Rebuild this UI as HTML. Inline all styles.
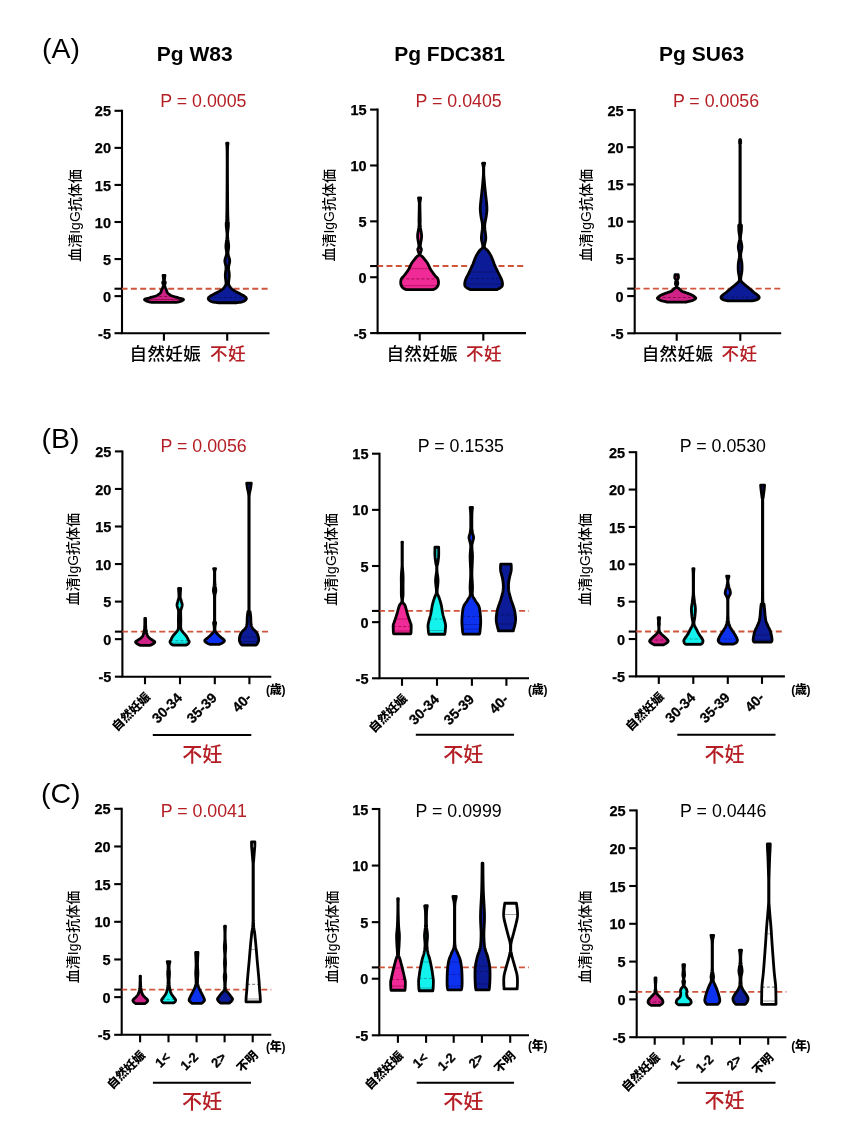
<!DOCTYPE html>
<html><head><meta charset="utf-8"><style>
html,body{margin:0;padding:0;background:#fff;}
svg{display:block;filter:blur(0.35px);}
</style></head><body>
<svg width="858" height="1148" viewBox="0 0 858 1148">
<rect width="858" height="1148" fill="#fff"/>
<path d="M122.00,109.80 V333.20 H269.50" fill="none" stroke="#000" stroke-width="2.1" stroke-linecap="butt"/>
<line x1="114.50" y1="333.20" x2="122.00" y2="333.20" stroke="#000" stroke-width="2.1"/>
<text x="111.00" y="338.80" font-family='"Liberation Sans", Arial, Helvetica, sans-serif' font-size="14.50" font-weight="bold" text-anchor="end" fill="#000" stroke="#000" stroke-width="0.25">-5</text>
<line x1="114.50" y1="296.13" x2="122.00" y2="296.13" stroke="#000" stroke-width="2.1"/>
<text x="111.00" y="301.73" font-family='"Liberation Sans", Arial, Helvetica, sans-serif' font-size="14.50" font-weight="bold" text-anchor="end" fill="#000" stroke="#000" stroke-width="0.25">0</text>
<line x1="114.50" y1="259.07" x2="122.00" y2="259.07" stroke="#000" stroke-width="2.1"/>
<text x="111.00" y="264.67" font-family='"Liberation Sans", Arial, Helvetica, sans-serif' font-size="14.50" font-weight="bold" text-anchor="end" fill="#000" stroke="#000" stroke-width="0.25">5</text>
<line x1="114.50" y1="222.00" x2="122.00" y2="222.00" stroke="#000" stroke-width="2.1"/>
<text x="111.00" y="227.60" font-family='"Liberation Sans", Arial, Helvetica, sans-serif' font-size="14.50" font-weight="bold" text-anchor="end" fill="#000" stroke="#000" stroke-width="0.25">10</text>
<line x1="114.50" y1="184.93" x2="122.00" y2="184.93" stroke="#000" stroke-width="2.1"/>
<text x="111.00" y="190.53" font-family='"Liberation Sans", Arial, Helvetica, sans-serif' font-size="14.50" font-weight="bold" text-anchor="end" fill="#000" stroke="#000" stroke-width="0.25">15</text>
<line x1="114.50" y1="147.87" x2="122.00" y2="147.87" stroke="#000" stroke-width="2.1"/>
<text x="111.00" y="153.47" font-family='"Liberation Sans", Arial, Helvetica, sans-serif' font-size="14.50" font-weight="bold" text-anchor="end" fill="#000" stroke="#000" stroke-width="0.25">20</text>
<line x1="114.50" y1="110.80" x2="122.00" y2="110.80" stroke="#000" stroke-width="2.1"/>
<text x="111.00" y="116.40" font-family='"Liberation Sans", Arial, Helvetica, sans-serif' font-size="14.50" font-weight="bold" text-anchor="end" fill="#000" stroke="#000" stroke-width="0.25">25</text>
<line x1="163.90" y1="333.20" x2="163.90" y2="340.70" stroke="#000" stroke-width="2.1"/>
<line x1="227.20" y1="333.20" x2="227.20" y2="340.70" stroke="#000" stroke-width="2.1"/>
<line x1="121.50" y1="288.72" x2="269.50" y2="288.72" stroke="#cf553c" stroke-width="1.9" stroke-dasharray="6,3.34"/>
<line x1="114.50" y1="288.72" x2="122.00" y2="288.72" stroke="#000" stroke-width="2.1"/>
<path d="M165.00,275.46 L164.95,275.74 L164.87,276.12 L164.79,276.57 L164.70,277.06 L164.64,277.55 L164.60,278.02 L164.60,278.48 L164.61,278.95 L164.64,279.43 L164.69,279.90 L164.74,280.35 L164.80,280.76 L164.88,281.14 L164.99,281.48 L165.10,281.81 L165.20,282.12 L165.28,282.44 L165.30,282.77 L165.25,283.12 L165.14,283.46 L165.00,283.81 L164.86,284.16 L164.75,284.52 L164.70,284.88 L164.72,285.25 L164.77,285.64 L164.86,286.03 L164.96,286.41 L165.08,286.80 L165.20,287.16 L165.33,287.52 L165.48,287.86 L165.64,288.19 L165.80,288.52 L165.96,288.85 L166.10,289.17 L166.23,289.50 L166.34,289.82 L166.46,290.15 L166.57,290.46 L166.68,290.78 L166.80,291.09 L166.89,291.39 L166.95,291.68 L167.01,291.96 L167.11,292.26 L167.30,292.57 L167.60,292.92 L168.01,293.32 L168.50,293.76 L169.06,294.23 L169.71,294.69 L170.46,295.15 L171.30,295.57 L172.30,295.97 L173.46,296.36 L174.71,296.74 L175.99,297.10 L177.21,297.45 L178.30,297.77 L179.35,298.06 L180.41,298.32 L181.43,298.57 L182.32,298.81 L183.00,299.06 L183.40,299.32 L183.47,299.62 L183.26,299.94 L182.85,300.26 L182.30,300.58 L181.70,300.88 L181.10,301.15 L180.43,301.40 L179.60,301.64 L178.71,301.86 L177.85,302.06 L177.12,302.22 L176.60,302.34 L151.40,302.34 L150.88,302.22 L150.15,302.06 L149.29,301.86 L148.40,301.64 L147.57,301.40 L146.90,301.15 L146.30,300.88 L145.70,300.58 L145.15,300.26 L144.74,299.94 L144.53,299.62 L144.60,299.32 L145.00,299.06 L145.68,298.81 L146.57,298.57 L147.59,298.32 L148.65,298.06 L149.70,297.77 L150.79,297.45 L152.01,297.10 L153.29,296.74 L154.54,296.36 L155.70,295.97 L156.70,295.57 L157.54,295.15 L158.29,294.69 L158.94,294.23 L159.50,293.76 L159.99,293.32 L160.40,292.92 L160.70,292.57 L160.89,292.26 L160.99,291.96 L161.05,291.68 L161.11,291.39 L161.20,291.09 L161.32,290.78 L161.43,290.46 L161.54,290.15 L161.66,289.82 L161.77,289.50 L161.90,289.17 L162.04,288.85 L162.20,288.52 L162.36,288.19 L162.52,287.86 L162.67,287.52 L162.80,287.16 L162.92,286.80 L163.04,286.41 L163.14,286.03 L163.23,285.64 L163.28,285.25 L163.30,284.88 L163.25,284.52 L163.14,284.16 L163.00,283.81 L162.86,283.46 L162.75,283.12 L162.70,282.77 L162.72,282.44 L162.80,282.12 L162.90,281.81 L163.01,281.48 L163.12,281.14 L163.20,280.76 L163.26,280.35 L163.31,279.90 L163.36,279.43 L163.39,278.95 L163.40,278.48 L163.40,278.02 L163.36,277.55 L163.30,277.06 L163.21,276.57 L163.13,276.12 L163.05,275.74 L163.00,275.46 Z" fill="#cf2286" stroke="none"/>
<line x1="154.09" y1="296.50" x2="173.91" y2="296.50" stroke="#8a0a48" stroke-width="1.2" stroke-dasharray="3,2"/>
<line x1="144.56" y1="299.50" x2="183.44" y2="299.50" stroke="#8a0a48" stroke-width="0.8"/>
<path d="M165.00,275.46 L164.95,275.74 L164.87,276.12 L164.79,276.57 L164.70,277.06 L164.64,277.55 L164.60,278.02 L164.60,278.48 L164.61,278.95 L164.64,279.43 L164.69,279.90 L164.74,280.35 L164.80,280.76 L164.88,281.14 L164.99,281.48 L165.10,281.81 L165.20,282.12 L165.28,282.44 L165.30,282.77 L165.25,283.12 L165.14,283.46 L165.00,283.81 L164.86,284.16 L164.75,284.52 L164.70,284.88 L164.72,285.25 L164.77,285.64 L164.86,286.03 L164.96,286.41 L165.08,286.80 L165.20,287.16 L165.33,287.52 L165.48,287.86 L165.64,288.19 L165.80,288.52 L165.96,288.85 L166.10,289.17 L166.23,289.50 L166.34,289.82 L166.46,290.15 L166.57,290.46 L166.68,290.78 L166.80,291.09 L166.89,291.39 L166.95,291.68 L167.01,291.96 L167.11,292.26 L167.30,292.57 L167.60,292.92 L168.01,293.32 L168.50,293.76 L169.06,294.23 L169.71,294.69 L170.46,295.15 L171.30,295.57 L172.30,295.97 L173.46,296.36 L174.71,296.74 L175.99,297.10 L177.21,297.45 L178.30,297.77 L179.35,298.06 L180.41,298.32 L181.43,298.57 L182.32,298.81 L183.00,299.06 L183.40,299.32 L183.47,299.62 L183.26,299.94 L182.85,300.26 L182.30,300.58 L181.70,300.88 L181.10,301.15 L180.43,301.40 L179.60,301.64 L178.71,301.86 L177.85,302.06 L177.12,302.22 L176.60,302.34 L151.40,302.34 L150.88,302.22 L150.15,302.06 L149.29,301.86 L148.40,301.64 L147.57,301.40 L146.90,301.15 L146.30,300.88 L145.70,300.58 L145.15,300.26 L144.74,299.94 L144.53,299.62 L144.60,299.32 L145.00,299.06 L145.68,298.81 L146.57,298.57 L147.59,298.32 L148.65,298.06 L149.70,297.77 L150.79,297.45 L152.01,297.10 L153.29,296.74 L154.54,296.36 L155.70,295.97 L156.70,295.57 L157.54,295.15 L158.29,294.69 L158.94,294.23 L159.50,293.76 L159.99,293.32 L160.40,292.92 L160.70,292.57 L160.89,292.26 L160.99,291.96 L161.05,291.68 L161.11,291.39 L161.20,291.09 L161.32,290.78 L161.43,290.46 L161.54,290.15 L161.66,289.82 L161.77,289.50 L161.90,289.17 L162.04,288.85 L162.20,288.52 L162.36,288.19 L162.52,287.86 L162.67,287.52 L162.80,287.16 L162.92,286.80 L163.04,286.41 L163.14,286.03 L163.23,285.64 L163.28,285.25 L163.30,284.88 L163.25,284.52 L163.14,284.16 L163.00,283.81 L162.86,283.46 L162.75,283.12 L162.70,282.77 L162.72,282.44 L162.80,282.12 L162.90,281.81 L163.01,281.48 L163.12,281.14 L163.20,280.76 L163.26,280.35 L163.31,279.90 L163.36,279.43 L163.39,278.95 L163.40,278.48 L163.40,278.02 L163.36,277.55 L163.30,277.06 L163.21,276.57 L163.13,276.12 L163.05,275.74 L163.00,275.46 Z" fill="none" stroke="#000" stroke-width="2.80" stroke-linejoin="round"/>
<path d="M228.00,143.06 L227.94,143.69 L227.85,144.36 L227.75,145.25 L227.65,146.55 L227.56,148.45 L227.50,151.13 L227.47,154.76 L227.45,159.21 L227.45,164.25 L227.46,169.66 L227.48,175.21 L227.50,180.67 L227.53,186.41 L227.57,192.70 L227.61,199.13 L227.67,205.29 L227.73,210.75 L227.80,215.12 L227.90,218.17 L228.03,220.17 L228.17,221.48 L228.30,222.47 L228.38,223.48 L228.40,224.87 L228.32,226.59 L228.15,228.35 L227.94,230.14 L227.74,231.93 L227.59,233.72 L227.55,235.50 L227.65,237.30 L227.85,239.14 L228.12,240.97 L228.38,242.76 L228.59,244.46 L228.70,246.03 L228.66,247.45 L228.51,248.73 L228.31,249.93 L228.12,251.08 L228.00,252.23 L228.00,253.42 L228.18,254.65 L228.51,255.88 L228.90,257.11 L229.29,258.33 L229.60,259.53 L229.75,260.70 L229.70,261.83 L229.51,262.90 L229.24,263.95 L228.95,265.02 L228.72,266.12 L228.60,267.30 L228.63,268.56 L228.75,269.88 L228.92,271.24 L229.10,272.62 L229.24,274.00 L229.30,275.37 L229.24,276.79 L229.09,278.27 L228.91,279.76 L228.73,281.18 L228.61,282.46 L228.60,283.54 L228.69,284.37 L228.84,284.99 L229.05,285.47 L229.31,285.89 L229.63,286.31 L230.00,286.79 L230.41,287.33 L230.87,287.87 L231.38,288.42 L231.94,288.96 L232.58,289.50 L233.30,290.04 L234.12,290.58 L235.05,291.12 L236.04,291.66 L237.07,292.21 L238.10,292.75 L239.10,293.29 L240.12,293.84 L241.20,294.40 L242.28,294.96 L243.29,295.51 L244.19,296.04 L244.90,296.54 L245.44,296.99 L245.86,297.42 L246.15,297.82 L246.32,298.21 L246.37,298.60 L246.30,299.00 L246.09,299.42 L245.75,299.86 L245.29,300.30 L244.71,300.73 L244.05,301.12 L243.30,301.46 L242.36,301.76 L241.18,302.02 L239.91,302.25 L238.69,302.45 L237.64,302.61 L236.90,302.74 L217.70,302.74 L216.96,302.61 L215.91,302.45 L214.69,302.25 L213.42,302.02 L212.24,301.76 L211.30,301.46 L210.55,301.12 L209.89,300.73 L209.31,300.30 L208.85,299.86 L208.51,299.42 L208.30,299.00 L208.23,298.60 L208.28,298.21 L208.45,297.82 L208.74,297.42 L209.16,296.99 L209.70,296.54 L210.41,296.04 L211.31,295.51 L212.33,294.96 L213.40,294.40 L214.48,293.84 L215.50,293.29 L216.50,292.75 L217.53,292.21 L218.56,291.66 L219.55,291.12 L220.48,290.58 L221.30,290.04 L222.02,289.50 L222.66,288.96 L223.23,288.42 L223.73,287.87 L224.19,287.33 L224.60,286.79 L224.97,286.31 L225.29,285.89 L225.55,285.47 L225.76,284.99 L225.91,284.37 L226.00,283.54 L225.99,282.46 L225.87,281.18 L225.69,279.76 L225.51,278.27 L225.36,276.79 L225.30,275.37 L225.36,274.00 L225.50,272.62 L225.68,271.24 L225.85,269.88 L225.97,268.56 L226.00,267.30 L225.88,266.12 L225.65,265.02 L225.36,263.95 L225.09,262.90 L224.90,261.83 L224.85,260.70 L225.00,259.53 L225.31,258.33 L225.70,257.11 L226.09,255.88 L226.42,254.65 L226.60,253.42 L226.60,252.23 L226.48,251.08 L226.29,249.93 L226.09,248.73 L225.94,247.45 L225.90,246.03 L226.01,244.46 L226.22,242.76 L226.48,240.97 L226.75,239.14 L226.95,237.30 L227.05,235.50 L227.01,233.72 L226.86,231.93 L226.66,230.14 L226.45,228.35 L226.28,226.59 L226.20,224.87 L226.22,223.48 L226.30,222.47 L226.43,221.48 L226.57,220.17 L226.70,218.17 L226.80,215.12 L226.87,210.75 L226.93,205.29 L226.99,199.13 L227.03,192.70 L227.07,186.41 L227.10,180.67 L227.12,175.21 L227.14,169.66 L227.15,164.25 L227.15,159.21 L227.13,154.76 L227.10,151.13 L227.04,148.45 L226.95,146.55 L226.85,145.25 L226.75,144.36 L226.66,143.69 L226.60,143.06 Z" fill="#0c1c98" stroke="none"/>
<line x1="208.68" y1="297.50" x2="245.92" y2="297.50" stroke="#081268" stroke-width="1.2" stroke-dasharray="3,2"/>
<path d="M228.00,143.06 L227.94,143.69 L227.85,144.36 L227.75,145.25 L227.65,146.55 L227.56,148.45 L227.50,151.13 L227.47,154.76 L227.45,159.21 L227.45,164.25 L227.46,169.66 L227.48,175.21 L227.50,180.67 L227.53,186.41 L227.57,192.70 L227.61,199.13 L227.67,205.29 L227.73,210.75 L227.80,215.12 L227.90,218.17 L228.03,220.17 L228.17,221.48 L228.30,222.47 L228.38,223.48 L228.40,224.87 L228.32,226.59 L228.15,228.35 L227.94,230.14 L227.74,231.93 L227.59,233.72 L227.55,235.50 L227.65,237.30 L227.85,239.14 L228.12,240.97 L228.38,242.76 L228.59,244.46 L228.70,246.03 L228.66,247.45 L228.51,248.73 L228.31,249.93 L228.12,251.08 L228.00,252.23 L228.00,253.42 L228.18,254.65 L228.51,255.88 L228.90,257.11 L229.29,258.33 L229.60,259.53 L229.75,260.70 L229.70,261.83 L229.51,262.90 L229.24,263.95 L228.95,265.02 L228.72,266.12 L228.60,267.30 L228.63,268.56 L228.75,269.88 L228.92,271.24 L229.10,272.62 L229.24,274.00 L229.30,275.37 L229.24,276.79 L229.09,278.27 L228.91,279.76 L228.73,281.18 L228.61,282.46 L228.60,283.54 L228.69,284.37 L228.84,284.99 L229.05,285.47 L229.31,285.89 L229.63,286.31 L230.00,286.79 L230.41,287.33 L230.87,287.87 L231.38,288.42 L231.94,288.96 L232.58,289.50 L233.30,290.04 L234.12,290.58 L235.05,291.12 L236.04,291.66 L237.07,292.21 L238.10,292.75 L239.10,293.29 L240.12,293.84 L241.20,294.40 L242.28,294.96 L243.29,295.51 L244.19,296.04 L244.90,296.54 L245.44,296.99 L245.86,297.42 L246.15,297.82 L246.32,298.21 L246.37,298.60 L246.30,299.00 L246.09,299.42 L245.75,299.86 L245.29,300.30 L244.71,300.73 L244.05,301.12 L243.30,301.46 L242.36,301.76 L241.18,302.02 L239.91,302.25 L238.69,302.45 L237.64,302.61 L236.90,302.74 L217.70,302.74 L216.96,302.61 L215.91,302.45 L214.69,302.25 L213.42,302.02 L212.24,301.76 L211.30,301.46 L210.55,301.12 L209.89,300.73 L209.31,300.30 L208.85,299.86 L208.51,299.42 L208.30,299.00 L208.23,298.60 L208.28,298.21 L208.45,297.82 L208.74,297.42 L209.16,296.99 L209.70,296.54 L210.41,296.04 L211.31,295.51 L212.33,294.96 L213.40,294.40 L214.48,293.84 L215.50,293.29 L216.50,292.75 L217.53,292.21 L218.56,291.66 L219.55,291.12 L220.48,290.58 L221.30,290.04 L222.02,289.50 L222.66,288.96 L223.23,288.42 L223.73,287.87 L224.19,287.33 L224.60,286.79 L224.97,286.31 L225.29,285.89 L225.55,285.47 L225.76,284.99 L225.91,284.37 L226.00,283.54 L225.99,282.46 L225.87,281.18 L225.69,279.76 L225.51,278.27 L225.36,276.79 L225.30,275.37 L225.36,274.00 L225.50,272.62 L225.68,271.24 L225.85,269.88 L225.97,268.56 L226.00,267.30 L225.88,266.12 L225.65,265.02 L225.36,263.95 L225.09,262.90 L224.90,261.83 L224.85,260.70 L225.00,259.53 L225.31,258.33 L225.70,257.11 L226.09,255.88 L226.42,254.65 L226.60,253.42 L226.60,252.23 L226.48,251.08 L226.29,249.93 L226.09,248.73 L225.94,247.45 L225.90,246.03 L226.01,244.46 L226.22,242.76 L226.48,240.97 L226.75,239.14 L226.95,237.30 L227.05,235.50 L227.01,233.72 L226.86,231.93 L226.66,230.14 L226.45,228.35 L226.28,226.59 L226.20,224.87 L226.22,223.48 L226.30,222.47 L226.43,221.48 L226.57,220.17 L226.70,218.17 L226.80,215.12 L226.87,210.75 L226.93,205.29 L226.99,199.13 L227.03,192.70 L227.07,186.41 L227.10,180.67 L227.12,175.21 L227.14,169.66 L227.15,164.25 L227.15,159.21 L227.13,154.76 L227.10,151.13 L227.04,148.45 L226.95,146.55 L226.85,145.25 L226.75,144.36 L226.66,143.69 L226.60,143.06 Z" fill="none" stroke="#000" stroke-width="2.80" stroke-linejoin="round"/>
<text x="80.20" y="215.50" font-family='"Liberation Sans", "Noto Sans CJK JP", sans-serif' font-size="14.00" font-weight="500" text-anchor="middle" fill="#000" transform="rotate(-90 80.20 215.50)">血清IgG抗体価</text>
<text x="160.30" y="107.00" font-family='"Liberation Sans", Arial, Helvetica, sans-serif' font-size="17.80" font-weight="normal" text-anchor="start" fill="#b41e24" >P = 0.0005</text>
<path d="M377.60,108.60 V333.10 H526.00" fill="none" stroke="#000" stroke-width="2.1" stroke-linecap="butt"/>
<line x1="370.10" y1="333.10" x2="377.60" y2="333.10" stroke="#000" stroke-width="2.1"/>
<text x="366.60" y="338.70" font-family='"Liberation Sans", Arial, Helvetica, sans-serif' font-size="14.50" font-weight="bold" text-anchor="end" fill="#000" stroke="#000" stroke-width="0.25">-5</text>
<line x1="370.10" y1="277.23" x2="377.60" y2="277.23" stroke="#000" stroke-width="2.1"/>
<text x="366.60" y="282.83" font-family='"Liberation Sans", Arial, Helvetica, sans-serif' font-size="14.50" font-weight="bold" text-anchor="end" fill="#000" stroke="#000" stroke-width="0.25">0</text>
<line x1="370.10" y1="221.35" x2="377.60" y2="221.35" stroke="#000" stroke-width="2.1"/>
<text x="366.60" y="226.95" font-family='"Liberation Sans", Arial, Helvetica, sans-serif' font-size="14.50" font-weight="bold" text-anchor="end" fill="#000" stroke="#000" stroke-width="0.25">5</text>
<line x1="370.10" y1="165.48" x2="377.60" y2="165.48" stroke="#000" stroke-width="2.1"/>
<text x="366.60" y="171.08" font-family='"Liberation Sans", Arial, Helvetica, sans-serif' font-size="14.50" font-weight="bold" text-anchor="end" fill="#000" stroke="#000" stroke-width="0.25">10</text>
<line x1="370.10" y1="109.60" x2="377.60" y2="109.60" stroke="#000" stroke-width="2.1"/>
<text x="366.60" y="115.20" font-family='"Liberation Sans", Arial, Helvetica, sans-serif' font-size="14.50" font-weight="bold" text-anchor="end" fill="#000" stroke="#000" stroke-width="0.25">15</text>
<line x1="419.70" y1="333.10" x2="419.70" y2="340.60" stroke="#000" stroke-width="2.1"/>
<line x1="483.30" y1="333.10" x2="483.30" y2="340.60" stroke="#000" stroke-width="2.1"/>
<line x1="377.10" y1="266.05" x2="526.00" y2="266.05" stroke="#cf553c" stroke-width="1.9" stroke-dasharray="6,3.34"/>
<line x1="370.10" y1="266.05" x2="377.60" y2="266.05" stroke="#000" stroke-width="2.1"/>
<path d="M420.70,197.96 L420.64,198.31 L420.56,198.80 L420.47,199.38 L420.37,200.00 L420.28,200.62 L420.20,201.17 L420.13,201.52 L420.06,201.68 L420.00,201.83 L419.95,202.16 L419.91,202.85 L419.90,204.09 L419.92,206.11 L419.97,208.81 L420.03,211.86 L420.10,214.97 L420.16,217.80 L420.20,220.05 L420.20,221.61 L420.17,222.72 L420.13,223.55 L420.11,224.30 L420.12,225.15 L420.20,226.28 L420.38,227.71 L420.66,229.29 L420.98,230.97 L421.28,232.70 L421.51,234.43 L421.60,236.11 L421.51,237.82 L421.28,239.62 L420.97,241.41 L420.66,243.12 L420.41,244.66 L420.30,245.94 L420.37,246.88 L420.58,247.55 L420.85,248.04 L421.12,248.47 L421.33,248.93 L421.40,249.54 L421.28,250.32 L421.00,251.19 L420.66,252.10 L420.34,252.99 L420.12,253.81 L420.10,254.50 L420.27,255.01 L420.57,255.37 L420.97,255.65 L421.46,255.95 L422.01,256.35 L422.60,256.94 L423.29,257.74 L424.09,258.70 L424.96,259.77 L425.84,260.88 L426.67,262.00 L427.40,263.07 L428.00,264.10 L428.51,265.14 L428.98,266.18 L429.43,267.22 L429.93,268.26 L430.50,269.30 L431.17,270.35 L431.92,271.44 L432.71,272.53 L433.49,273.58 L434.23,274.55 L434.90,275.43 L435.51,276.16 L436.10,276.77 L436.64,277.30 L437.14,277.82 L437.56,278.38 L437.90,279.03 L438.16,279.79 L438.34,280.63 L438.46,281.50 L438.50,282.38 L438.48,283.22 L438.40,283.99 L438.24,284.70 L438.00,285.39 L437.69,286.04 L437.33,286.64 L436.93,287.20 L436.50,287.69 L435.99,288.13 L435.38,288.51 L434.73,288.85 L434.11,289.13 L433.58,289.36 L433.20,289.54 L406.00,289.54 L405.62,289.36 L405.09,289.13 L404.47,288.85 L403.82,288.51 L403.21,288.13 L402.70,287.69 L402.27,287.20 L401.87,286.64 L401.51,286.04 L401.20,285.39 L400.96,284.70 L400.80,283.99 L400.72,283.22 L400.70,282.38 L400.74,281.50 L400.86,280.63 L401.04,279.79 L401.30,279.03 L401.64,278.38 L402.06,277.82 L402.56,277.30 L403.10,276.77 L403.69,276.16 L404.30,275.43 L404.97,274.55 L405.71,273.58 L406.49,272.53 L407.28,271.44 L408.03,270.35 L408.70,269.30 L409.27,268.26 L409.77,267.22 L410.23,266.18 L410.69,265.14 L411.20,264.10 L411.80,263.07 L412.53,262.00 L413.36,260.88 L414.24,259.77 L415.11,258.70 L415.91,257.74 L416.60,256.94 L417.19,256.35 L417.74,255.95 L418.23,255.65 L418.63,255.37 L418.93,255.01 L419.10,254.50 L419.08,253.81 L418.86,252.99 L418.54,252.10 L418.20,251.19 L417.92,250.32 L417.80,249.54 L417.87,248.93 L418.08,248.47 L418.35,248.04 L418.62,247.55 L418.83,246.88 L418.90,245.94 L418.79,244.66 L418.54,243.12 L418.23,241.41 L417.92,239.62 L417.69,237.82 L417.60,236.11 L417.69,234.43 L417.92,232.70 L418.22,230.97 L418.54,229.29 L418.82,227.71 L419.00,226.28 L419.08,225.15 L419.09,224.30 L419.07,223.55 L419.03,222.72 L419.00,221.61 L419.00,220.05 L419.04,217.80 L419.10,214.97 L419.17,211.86 L419.23,208.81 L419.28,206.11 L419.30,204.09 L419.29,202.85 L419.25,202.16 L419.20,201.83 L419.14,201.68 L419.07,201.52 L419.00,201.17 L418.92,200.62 L418.83,200.00 L418.73,199.38 L418.64,198.80 L418.56,198.31 L418.50,197.96 Z" fill="#f02a96" stroke="none"/>
<line x1="409.03" y1="268.70" x2="430.17" y2="268.70" stroke="#b0105e" stroke-width="0.8"/>
<line x1="401.42" y1="278.80" x2="437.78" y2="278.80" stroke="#b0105e" stroke-width="1.2" stroke-dasharray="3,2"/>
<line x1="401.35" y1="285.70" x2="437.85" y2="285.70" stroke="#b0105e" stroke-width="0.8"/>
<path d="M420.70,197.96 L420.64,198.31 L420.56,198.80 L420.47,199.38 L420.37,200.00 L420.28,200.62 L420.20,201.17 L420.13,201.52 L420.06,201.68 L420.00,201.83 L419.95,202.16 L419.91,202.85 L419.90,204.09 L419.92,206.11 L419.97,208.81 L420.03,211.86 L420.10,214.97 L420.16,217.80 L420.20,220.05 L420.20,221.61 L420.17,222.72 L420.13,223.55 L420.11,224.30 L420.12,225.15 L420.20,226.28 L420.38,227.71 L420.66,229.29 L420.98,230.97 L421.28,232.70 L421.51,234.43 L421.60,236.11 L421.51,237.82 L421.28,239.62 L420.97,241.41 L420.66,243.12 L420.41,244.66 L420.30,245.94 L420.37,246.88 L420.58,247.55 L420.85,248.04 L421.12,248.47 L421.33,248.93 L421.40,249.54 L421.28,250.32 L421.00,251.19 L420.66,252.10 L420.34,252.99 L420.12,253.81 L420.10,254.50 L420.27,255.01 L420.57,255.37 L420.97,255.65 L421.46,255.95 L422.01,256.35 L422.60,256.94 L423.29,257.74 L424.09,258.70 L424.96,259.77 L425.84,260.88 L426.67,262.00 L427.40,263.07 L428.00,264.10 L428.51,265.14 L428.98,266.18 L429.43,267.22 L429.93,268.26 L430.50,269.30 L431.17,270.35 L431.92,271.44 L432.71,272.53 L433.49,273.58 L434.23,274.55 L434.90,275.43 L435.51,276.16 L436.10,276.77 L436.64,277.30 L437.14,277.82 L437.56,278.38 L437.90,279.03 L438.16,279.79 L438.34,280.63 L438.46,281.50 L438.50,282.38 L438.48,283.22 L438.40,283.99 L438.24,284.70 L438.00,285.39 L437.69,286.04 L437.33,286.64 L436.93,287.20 L436.50,287.69 L435.99,288.13 L435.38,288.51 L434.73,288.85 L434.11,289.13 L433.58,289.36 L433.20,289.54 L406.00,289.54 L405.62,289.36 L405.09,289.13 L404.47,288.85 L403.82,288.51 L403.21,288.13 L402.70,287.69 L402.27,287.20 L401.87,286.64 L401.51,286.04 L401.20,285.39 L400.96,284.70 L400.80,283.99 L400.72,283.22 L400.70,282.38 L400.74,281.50 L400.86,280.63 L401.04,279.79 L401.30,279.03 L401.64,278.38 L402.06,277.82 L402.56,277.30 L403.10,276.77 L403.69,276.16 L404.30,275.43 L404.97,274.55 L405.71,273.58 L406.49,272.53 L407.28,271.44 L408.03,270.35 L408.70,269.30 L409.27,268.26 L409.77,267.22 L410.23,266.18 L410.69,265.14 L411.20,264.10 L411.80,263.07 L412.53,262.00 L413.36,260.88 L414.24,259.77 L415.11,258.70 L415.91,257.74 L416.60,256.94 L417.19,256.35 L417.74,255.95 L418.23,255.65 L418.63,255.37 L418.93,255.01 L419.10,254.50 L419.08,253.81 L418.86,252.99 L418.54,252.10 L418.20,251.19 L417.92,250.32 L417.80,249.54 L417.87,248.93 L418.08,248.47 L418.35,248.04 L418.62,247.55 L418.83,246.88 L418.90,245.94 L418.79,244.66 L418.54,243.12 L418.23,241.41 L417.92,239.62 L417.69,237.82 L417.60,236.11 L417.69,234.43 L417.92,232.70 L418.22,230.97 L418.54,229.29 L418.82,227.71 L419.00,226.28 L419.08,225.15 L419.09,224.30 L419.07,223.55 L419.03,222.72 L419.00,221.61 L419.00,220.05 L419.04,217.80 L419.10,214.97 L419.17,211.86 L419.23,208.81 L419.28,206.11 L419.30,204.09 L419.29,202.85 L419.25,202.16 L419.20,201.83 L419.14,201.68 L419.07,201.52 L419.00,201.17 L418.92,200.62 L418.83,200.00 L418.73,199.38 L418.64,198.80 L418.56,198.31 L418.50,197.96 Z" fill="none" stroke="#000" stroke-width="2.80" stroke-linejoin="round"/>
<path d="M484.70,163.26 L484.62,163.57 L484.51,163.99 L484.38,164.49 L484.24,165.05 L484.11,165.63 L484.00,166.20 L483.89,166.69 L483.77,167.09 L483.75,167.52 L483.75,168.08 L483.75,168.88 L483.75,170.03 L483.75,171.63 L483.75,173.63 L483.86,175.87 L484.04,178.20 L484.23,180.45 L484.40,182.48 L484.56,184.22 L484.71,185.78 L484.86,187.28 L485.03,188.81 L485.20,190.47 L485.40,192.38 L485.65,194.63 L485.94,197.18 L486.25,199.85 L486.54,202.52 L486.77,205.01 L486.90,207.18 L486.93,208.98 L486.89,210.50 L486.79,211.85 L486.65,213.14 L486.48,214.46 L486.30,215.91 L486.06,217.46 L485.74,219.03 L485.39,220.63 L485.07,222.29 L484.82,224.01 L484.70,225.81 L484.76,227.77 L484.96,229.89 L485.24,232.07 L485.52,234.23 L485.73,236.29 L485.80,238.17 L485.66,239.88 L485.35,241.50 L484.97,243.02 L484.62,244.42 L484.40,245.68 L484.40,246.79 L484.66,247.67 L485.10,248.31 L485.68,248.81 L486.32,249.28 L486.98,249.81 L487.60,250.52 L488.20,251.38 L488.84,252.30 L489.49,253.29 L490.14,254.36 L490.78,255.49 L491.40,256.70 L491.99,258.02 L492.56,259.47 L493.12,260.98 L493.67,262.52 L494.23,264.02 L494.80,265.42 L495.38,266.73 L495.96,267.97 L496.54,269.18 L497.13,270.37 L497.72,271.56 L498.30,272.77 L498.92,274.04 L499.57,275.34 L500.23,276.65 L500.85,277.92 L501.38,279.12 L501.80,280.23 L502.10,281.23 L502.31,282.17 L502.44,283.04 L502.49,283.84 L502.48,284.57 L502.40,285.23 L502.24,285.79 L502.00,286.25 L501.69,286.65 L501.33,287.00 L500.93,287.33 L500.50,287.68 L499.99,288.04 L499.38,288.41 L498.73,288.76 L498.11,289.08 L497.58,289.34 L497.20,289.54 L470.00,289.54 L469.62,289.34 L469.09,289.08 L468.47,288.76 L467.82,288.41 L467.21,288.04 L466.70,287.68 L466.27,287.33 L465.87,287.00 L465.51,286.65 L465.20,286.25 L464.96,285.79 L464.80,285.23 L464.72,284.57 L464.71,283.84 L464.76,283.04 L464.89,282.17 L465.10,281.23 L465.40,280.23 L465.82,279.12 L466.35,277.92 L466.97,276.65 L467.63,275.34 L468.28,274.04 L468.90,272.77 L469.48,271.56 L470.07,270.37 L470.66,269.18 L471.24,267.97 L471.82,266.73 L472.40,265.42 L472.97,264.02 L473.53,262.52 L474.08,260.98 L474.64,259.47 L475.21,258.02 L475.80,256.70 L476.42,255.49 L477.06,254.36 L477.71,253.29 L478.36,252.30 L479.00,251.38 L479.60,250.52 L480.22,249.81 L480.88,249.28 L481.53,248.81 L482.10,248.31 L482.54,247.67 L482.80,246.79 L482.80,245.68 L482.58,244.42 L482.23,243.02 L481.85,241.50 L481.54,239.88 L481.40,238.17 L481.47,236.29 L481.68,234.23 L481.96,232.07 L482.24,229.89 L482.44,227.77 L482.50,225.81 L482.38,224.01 L482.13,222.29 L481.81,220.63 L481.46,219.03 L481.14,217.46 L480.90,215.91 L480.72,214.46 L480.55,213.14 L480.41,211.85 L480.31,210.50 L480.27,208.98 L480.30,207.18 L480.43,205.01 L480.66,202.52 L480.95,199.85 L481.26,197.18 L481.55,194.63 L481.80,192.38 L482.00,190.47 L482.17,188.81 L482.34,187.28 L482.49,185.78 L482.64,184.22 L482.80,182.48 L482.97,180.45 L483.16,178.20 L483.34,175.87 L483.45,173.63 L483.45,171.63 L483.45,170.03 L483.45,168.88 L483.45,168.08 L483.45,167.52 L483.43,167.09 L483.31,166.69 L483.20,166.20 L483.09,165.63 L482.96,165.05 L482.82,164.49 L482.69,163.99 L482.58,163.57 L482.50,163.26 Z" fill="#0c1c98" stroke="none"/>
<line x1="469.27" y1="272.00" x2="497.93" y2="272.00" stroke="#081268" stroke-width="0.8"/>
<line x1="466.09" y1="278.50" x2="501.11" y2="278.50" stroke="#081268" stroke-width="1.2" stroke-dasharray="3,2"/>
<line x1="464.71" y1="284.00" x2="502.49" y2="284.00" stroke="#081268" stroke-width="0.8"/>
<path d="M484.70,163.26 L484.62,163.57 L484.51,163.99 L484.38,164.49 L484.24,165.05 L484.11,165.63 L484.00,166.20 L483.89,166.69 L483.77,167.09 L483.75,167.52 L483.75,168.08 L483.75,168.88 L483.75,170.03 L483.75,171.63 L483.75,173.63 L483.86,175.87 L484.04,178.20 L484.23,180.45 L484.40,182.48 L484.56,184.22 L484.71,185.78 L484.86,187.28 L485.03,188.81 L485.20,190.47 L485.40,192.38 L485.65,194.63 L485.94,197.18 L486.25,199.85 L486.54,202.52 L486.77,205.01 L486.90,207.18 L486.93,208.98 L486.89,210.50 L486.79,211.85 L486.65,213.14 L486.48,214.46 L486.30,215.91 L486.06,217.46 L485.74,219.03 L485.39,220.63 L485.07,222.29 L484.82,224.01 L484.70,225.81 L484.76,227.77 L484.96,229.89 L485.24,232.07 L485.52,234.23 L485.73,236.29 L485.80,238.17 L485.66,239.88 L485.35,241.50 L484.97,243.02 L484.62,244.42 L484.40,245.68 L484.40,246.79 L484.66,247.67 L485.10,248.31 L485.68,248.81 L486.32,249.28 L486.98,249.81 L487.60,250.52 L488.20,251.38 L488.84,252.30 L489.49,253.29 L490.14,254.36 L490.78,255.49 L491.40,256.70 L491.99,258.02 L492.56,259.47 L493.12,260.98 L493.67,262.52 L494.23,264.02 L494.80,265.42 L495.38,266.73 L495.96,267.97 L496.54,269.18 L497.13,270.37 L497.72,271.56 L498.30,272.77 L498.92,274.04 L499.57,275.34 L500.23,276.65 L500.85,277.92 L501.38,279.12 L501.80,280.23 L502.10,281.23 L502.31,282.17 L502.44,283.04 L502.49,283.84 L502.48,284.57 L502.40,285.23 L502.24,285.79 L502.00,286.25 L501.69,286.65 L501.33,287.00 L500.93,287.33 L500.50,287.68 L499.99,288.04 L499.38,288.41 L498.73,288.76 L498.11,289.08 L497.58,289.34 L497.20,289.54 L470.00,289.54 L469.62,289.34 L469.09,289.08 L468.47,288.76 L467.82,288.41 L467.21,288.04 L466.70,287.68 L466.27,287.33 L465.87,287.00 L465.51,286.65 L465.20,286.25 L464.96,285.79 L464.80,285.23 L464.72,284.57 L464.71,283.84 L464.76,283.04 L464.89,282.17 L465.10,281.23 L465.40,280.23 L465.82,279.12 L466.35,277.92 L466.97,276.65 L467.63,275.34 L468.28,274.04 L468.90,272.77 L469.48,271.56 L470.07,270.37 L470.66,269.18 L471.24,267.97 L471.82,266.73 L472.40,265.42 L472.97,264.02 L473.53,262.52 L474.08,260.98 L474.64,259.47 L475.21,258.02 L475.80,256.70 L476.42,255.49 L477.06,254.36 L477.71,253.29 L478.36,252.30 L479.00,251.38 L479.60,250.52 L480.22,249.81 L480.88,249.28 L481.53,248.81 L482.10,248.31 L482.54,247.67 L482.80,246.79 L482.80,245.68 L482.58,244.42 L482.23,243.02 L481.85,241.50 L481.54,239.88 L481.40,238.17 L481.47,236.29 L481.68,234.23 L481.96,232.07 L482.24,229.89 L482.44,227.77 L482.50,225.81 L482.38,224.01 L482.13,222.29 L481.81,220.63 L481.46,219.03 L481.14,217.46 L480.90,215.91 L480.72,214.46 L480.55,213.14 L480.41,211.85 L480.31,210.50 L480.27,208.98 L480.30,207.18 L480.43,205.01 L480.66,202.52 L480.95,199.85 L481.26,197.18 L481.55,194.63 L481.80,192.38 L482.00,190.47 L482.17,188.81 L482.34,187.28 L482.49,185.78 L482.64,184.22 L482.80,182.48 L482.97,180.45 L483.16,178.20 L483.34,175.87 L483.45,173.63 L483.45,171.63 L483.45,170.03 L483.45,168.88 L483.45,168.08 L483.45,167.52 L483.43,167.09 L483.31,166.69 L483.20,166.20 L483.09,165.63 L482.96,165.05 L482.82,164.49 L482.69,163.99 L482.58,163.57 L482.50,163.26 Z" fill="none" stroke="#000" stroke-width="2.80" stroke-linejoin="round"/>
<text x="334.00" y="215.30" font-family='"Liberation Sans", "Noto Sans CJK JP", sans-serif' font-size="14.00" font-weight="500" text-anchor="middle" fill="#000" transform="rotate(-90 334.00 215.30)">血清IgG抗体価</text>
<text x="415.50" y="107.00" font-family='"Liberation Sans", Arial, Helvetica, sans-serif' font-size="17.80" font-weight="normal" text-anchor="start" fill="#b41e24" >P = 0.0405</text>
<path d="M634.70,109.00 V333.30 H781.20" fill="none" stroke="#000" stroke-width="2.1" stroke-linecap="butt"/>
<line x1="627.20" y1="333.30" x2="634.70" y2="333.30" stroke="#000" stroke-width="2.1"/>
<text x="623.70" y="338.90" font-family='"Liberation Sans", Arial, Helvetica, sans-serif' font-size="14.50" font-weight="bold" text-anchor="end" fill="#000" stroke="#000" stroke-width="0.25">-5</text>
<line x1="627.20" y1="296.08" x2="634.70" y2="296.08" stroke="#000" stroke-width="2.1"/>
<text x="623.70" y="301.68" font-family='"Liberation Sans", Arial, Helvetica, sans-serif' font-size="14.50" font-weight="bold" text-anchor="end" fill="#000" stroke="#000" stroke-width="0.25">0</text>
<line x1="627.20" y1="258.87" x2="634.70" y2="258.87" stroke="#000" stroke-width="2.1"/>
<text x="623.70" y="264.47" font-family='"Liberation Sans", Arial, Helvetica, sans-serif' font-size="14.50" font-weight="bold" text-anchor="end" fill="#000" stroke="#000" stroke-width="0.25">5</text>
<line x1="627.20" y1="221.65" x2="634.70" y2="221.65" stroke="#000" stroke-width="2.1"/>
<text x="623.70" y="227.25" font-family='"Liberation Sans", Arial, Helvetica, sans-serif' font-size="14.50" font-weight="bold" text-anchor="end" fill="#000" stroke="#000" stroke-width="0.25">10</text>
<line x1="627.20" y1="184.43" x2="634.70" y2="184.43" stroke="#000" stroke-width="2.1"/>
<text x="623.70" y="190.03" font-family='"Liberation Sans", Arial, Helvetica, sans-serif' font-size="14.50" font-weight="bold" text-anchor="end" fill="#000" stroke="#000" stroke-width="0.25">15</text>
<line x1="627.20" y1="147.22" x2="634.70" y2="147.22" stroke="#000" stroke-width="2.1"/>
<text x="623.70" y="152.82" font-family='"Liberation Sans", Arial, Helvetica, sans-serif' font-size="14.50" font-weight="bold" text-anchor="end" fill="#000" stroke="#000" stroke-width="0.25">20</text>
<line x1="627.20" y1="110.00" x2="634.70" y2="110.00" stroke="#000" stroke-width="2.1"/>
<text x="623.70" y="115.60" font-family='"Liberation Sans", Arial, Helvetica, sans-serif' font-size="14.50" font-weight="bold" text-anchor="end" fill="#000" stroke="#000" stroke-width="0.25">25</text>
<line x1="676.70" y1="333.30" x2="676.70" y2="340.80" stroke="#000" stroke-width="2.1"/>
<line x1="740.30" y1="333.30" x2="740.30" y2="340.80" stroke="#000" stroke-width="2.1"/>
<line x1="634.20" y1="288.64" x2="781.20" y2="288.64" stroke="#cf553c" stroke-width="1.9" stroke-dasharray="6,3.34"/>
<line x1="627.20" y1="288.64" x2="634.70" y2="288.64" stroke="#000" stroke-width="2.1"/>
<path d="M678.20,274.76 L678.24,275.08 L678.30,275.53 L678.38,276.05 L678.43,276.62 L678.45,277.18 L678.40,277.69 L678.26,278.15 L678.04,278.60 L677.77,279.05 L677.52,279.49 L677.31,279.95 L677.20,280.44 L677.21,280.94 L677.33,281.47 L677.49,282.01 L677.65,282.56 L677.77,283.11 L677.80,283.64 L677.68,284.17 L677.45,284.72 L677.18,285.26 L676.93,285.79 L676.78,286.29 L676.80,286.75 L677.03,287.17 L677.41,287.56 L677.90,287.91 L678.43,288.26 L678.95,288.60 L679.40,288.95 L679.76,289.31 L680.08,289.67 L680.39,290.04 L680.72,290.39 L681.11,290.73 L681.60,291.05 L682.19,291.35 L682.86,291.62 L683.59,291.88 L684.37,292.14 L685.18,292.41 L686.00,292.70 L686.88,293.03 L687.84,293.37 L688.83,293.73 L689.80,294.09 L690.70,294.45 L691.50,294.81 L692.19,295.16 L692.82,295.53 L693.39,295.89 L693.89,296.25 L694.33,296.59 L694.70,296.91 L695.04,297.21 L695.34,297.48 L695.59,297.74 L695.73,298.00 L695.75,298.27 L695.60,298.56 L695.26,298.89 L694.75,299.26 L694.11,299.63 L693.37,300.00 L692.59,300.35 L691.80,300.67 L690.91,300.95 L689.86,301.23 L688.76,301.49 L687.72,301.71 L686.83,301.90 L686.20,302.04 L667.00,302.04 L666.37,301.90 L665.48,301.71 L664.44,301.49 L663.34,301.23 L662.29,300.95 L661.40,300.67 L660.61,300.35 L659.83,300.00 L659.09,299.63 L658.45,299.26 L657.94,298.89 L657.60,298.56 L657.45,298.27 L657.47,298.00 L657.61,297.74 L657.86,297.48 L658.16,297.21 L658.50,296.91 L658.87,296.59 L659.31,296.25 L659.81,295.89 L660.38,295.53 L661.01,295.16 L661.70,294.81 L662.50,294.45 L663.40,294.09 L664.38,293.73 L665.36,293.37 L666.32,293.03 L667.20,292.70 L668.02,292.41 L668.83,292.14 L669.61,291.88 L670.34,291.62 L671.01,291.35 L671.60,291.05 L672.09,290.73 L672.48,290.39 L672.81,290.04 L673.12,289.67 L673.44,289.31 L673.80,288.95 L674.25,288.60 L674.77,288.26 L675.30,287.91 L675.79,287.56 L676.17,287.17 L676.40,286.75 L676.42,286.29 L676.27,285.79 L676.02,285.26 L675.75,284.72 L675.52,284.17 L675.40,283.64 L675.43,283.11 L675.55,282.56 L675.71,282.01 L675.87,281.47 L675.99,280.94 L676.00,280.44 L675.89,279.95 L675.68,279.49 L675.43,279.05 L675.16,278.60 L674.94,278.15 L674.80,277.69 L674.75,277.18 L674.77,276.62 L674.83,276.05 L674.90,275.53 L674.96,275.08 L675.00,274.76 Z" fill="#cf2286" stroke="none"/>
<line x1="657.84" y1="297.50" x2="695.36" y2="297.50" stroke="#8a0a48" stroke-width="1.2" stroke-dasharray="3,2"/>
<path d="M678.20,274.76 L678.24,275.08 L678.30,275.53 L678.38,276.05 L678.43,276.62 L678.45,277.18 L678.40,277.69 L678.26,278.15 L678.04,278.60 L677.77,279.05 L677.52,279.49 L677.31,279.95 L677.20,280.44 L677.21,280.94 L677.33,281.47 L677.49,282.01 L677.65,282.56 L677.77,283.11 L677.80,283.64 L677.68,284.17 L677.45,284.72 L677.18,285.26 L676.93,285.79 L676.78,286.29 L676.80,286.75 L677.03,287.17 L677.41,287.56 L677.90,287.91 L678.43,288.26 L678.95,288.60 L679.40,288.95 L679.76,289.31 L680.08,289.67 L680.39,290.04 L680.72,290.39 L681.11,290.73 L681.60,291.05 L682.19,291.35 L682.86,291.62 L683.59,291.88 L684.37,292.14 L685.18,292.41 L686.00,292.70 L686.88,293.03 L687.84,293.37 L688.83,293.73 L689.80,294.09 L690.70,294.45 L691.50,294.81 L692.19,295.16 L692.82,295.53 L693.39,295.89 L693.89,296.25 L694.33,296.59 L694.70,296.91 L695.04,297.21 L695.34,297.48 L695.59,297.74 L695.73,298.00 L695.75,298.27 L695.60,298.56 L695.26,298.89 L694.75,299.26 L694.11,299.63 L693.37,300.00 L692.59,300.35 L691.80,300.67 L690.91,300.95 L689.86,301.23 L688.76,301.49 L687.72,301.71 L686.83,301.90 L686.20,302.04 L667.00,302.04 L666.37,301.90 L665.48,301.71 L664.44,301.49 L663.34,301.23 L662.29,300.95 L661.40,300.67 L660.61,300.35 L659.83,300.00 L659.09,299.63 L658.45,299.26 L657.94,298.89 L657.60,298.56 L657.45,298.27 L657.47,298.00 L657.61,297.74 L657.86,297.48 L658.16,297.21 L658.50,296.91 L658.87,296.59 L659.31,296.25 L659.81,295.89 L660.38,295.53 L661.01,295.16 L661.70,294.81 L662.50,294.45 L663.40,294.09 L664.38,293.73 L665.36,293.37 L666.32,293.03 L667.20,292.70 L668.02,292.41 L668.83,292.14 L669.61,291.88 L670.34,291.62 L671.01,291.35 L671.60,291.05 L672.09,290.73 L672.48,290.39 L672.81,290.04 L673.12,289.67 L673.44,289.31 L673.80,288.95 L674.25,288.60 L674.77,288.26 L675.30,287.91 L675.79,287.56 L676.17,287.17 L676.40,286.75 L676.42,286.29 L676.27,285.79 L676.02,285.26 L675.75,284.72 L675.52,284.17 L675.40,283.64 L675.43,283.11 L675.55,282.56 L675.71,282.01 L675.87,281.47 L675.99,280.94 L676.00,280.44 L675.89,279.95 L675.68,279.49 L675.43,279.05 L675.16,278.60 L674.94,278.15 L674.80,277.69 L674.75,277.18 L674.77,276.62 L674.83,276.05 L674.90,275.53 L674.96,275.08 L675.00,274.76 Z" fill="none" stroke="#000" stroke-width="2.80" stroke-linejoin="round"/>
<path d="M740.80,142.96 L740.73,142.49 L740.62,141.17 L740.50,139.95 L740.38,139.75 L740.27,141.52 L740.25,146.21 L740.25,155.27 L740.25,168.26 L740.25,183.22 L740.25,198.20 L740.25,211.26 L740.25,220.42 L740.35,225.22 L740.56,227.10 L740.81,227.05 L741.05,226.05 L741.26,225.09 L741.40,225.15 L741.47,226.06 L741.49,227.01 L741.48,227.99 L741.43,229.01 L741.37,230.06 L741.30,231.15 L741.18,232.28 L741.00,233.45 L740.81,234.65 L740.63,235.88 L740.51,237.15 L740.50,238.44 L740.64,239.77 L740.90,241.15 L741.23,242.55 L741.54,243.97 L741.79,245.40 L741.90,246.80 L741.82,248.20 L741.60,249.59 L741.31,250.98 L741.02,252.37 L740.79,253.77 L740.70,255.17 L740.77,256.59 L740.97,258.02 L741.23,259.45 L741.50,260.88 L741.74,262.27 L741.90,263.64 L741.98,264.93 L742.03,266.18 L742.04,267.40 L742.03,268.63 L741.98,269.89 L741.90,271.21 L741.73,272.67 L741.44,274.25 L741.13,275.86 L740.87,277.42 L740.73,278.86 L740.80,280.07 L741.10,281.04 L741.57,281.80 L742.18,282.44 L742.86,283.00 L743.58,283.57 L744.30,284.21 L745.04,284.90 L745.83,285.58 L746.66,286.27 L747.51,286.96 L748.37,287.65 L749.20,288.34 L750.02,289.03 L750.83,289.72 L751.65,290.41 L752.47,291.10 L753.28,291.79 L754.10,292.48 L754.99,293.18 L755.97,293.90 L756.94,294.63 L757.83,295.33 L758.55,296.00 L759.00,296.61 L759.18,297.16 L759.17,297.67 L758.98,298.15 L758.63,298.58 L758.17,298.99 L757.60,299.37 L756.81,299.71 L755.75,300.04 L754.56,300.32 L753.40,300.58 L752.39,300.78 L751.70,300.94 L728.50,300.94 L727.81,300.78 L726.80,300.58 L725.64,300.32 L724.45,300.04 L723.39,299.71 L722.60,299.37 L722.03,298.99 L721.57,298.58 L721.23,298.15 L721.03,297.67 L721.02,297.16 L721.20,296.61 L721.65,296.00 L722.37,295.33 L723.26,294.63 L724.23,293.90 L725.21,293.18 L726.10,292.48 L726.92,291.79 L727.73,291.10 L728.55,290.41 L729.37,289.72 L730.18,289.03 L731.00,288.34 L731.83,287.65 L732.69,286.96 L733.54,286.27 L734.37,285.58 L735.16,284.90 L735.90,284.21 L736.62,283.57 L737.34,283.00 L738.02,282.44 L738.63,281.80 L739.10,281.04 L739.40,280.07 L739.47,278.86 L739.33,277.42 L739.07,275.86 L738.76,274.25 L738.47,272.67 L738.30,271.21 L738.22,269.89 L738.17,268.63 L738.16,267.40 L738.17,266.18 L738.22,264.93 L738.30,263.64 L738.46,262.27 L738.70,260.88 L738.98,259.45 L739.23,258.02 L739.43,256.59 L739.50,255.17 L739.41,253.77 L739.18,252.37 L738.89,250.98 L738.60,249.59 L738.38,248.20 L738.30,246.80 L738.41,245.40 L738.66,243.97 L738.98,242.55 L739.30,241.15 L739.56,239.77 L739.70,238.44 L739.69,237.15 L739.57,235.88 L739.39,234.65 L739.20,233.45 L739.02,232.28 L738.90,231.15 L738.83,230.06 L738.77,229.01 L738.73,227.99 L738.71,227.01 L738.73,226.06 L738.80,225.15 L738.94,225.09 L739.15,226.05 L739.39,227.05 L739.64,227.10 L739.85,225.22 L739.95,220.42 L739.95,211.26 L739.95,198.20 L739.95,183.22 L739.95,168.26 L739.95,155.27 L739.95,146.21 L739.93,141.52 L739.82,139.75 L739.70,139.95 L739.58,141.17 L739.47,142.49 L739.40,142.96 Z" fill="#0c1c98" stroke="none"/>
<line x1="721.07" y1="297.00" x2="759.13" y2="297.00" stroke="#081268" stroke-width="1.2" stroke-dasharray="3,2"/>
<path d="M740.80,142.96 L740.73,142.49 L740.62,141.17 L740.50,139.95 L740.38,139.75 L740.27,141.52 L740.25,146.21 L740.25,155.27 L740.25,168.26 L740.25,183.22 L740.25,198.20 L740.25,211.26 L740.25,220.42 L740.35,225.22 L740.56,227.10 L740.81,227.05 L741.05,226.05 L741.26,225.09 L741.40,225.15 L741.47,226.06 L741.49,227.01 L741.48,227.99 L741.43,229.01 L741.37,230.06 L741.30,231.15 L741.18,232.28 L741.00,233.45 L740.81,234.65 L740.63,235.88 L740.51,237.15 L740.50,238.44 L740.64,239.77 L740.90,241.15 L741.23,242.55 L741.54,243.97 L741.79,245.40 L741.90,246.80 L741.82,248.20 L741.60,249.59 L741.31,250.98 L741.02,252.37 L740.79,253.77 L740.70,255.17 L740.77,256.59 L740.97,258.02 L741.23,259.45 L741.50,260.88 L741.74,262.27 L741.90,263.64 L741.98,264.93 L742.03,266.18 L742.04,267.40 L742.03,268.63 L741.98,269.89 L741.90,271.21 L741.73,272.67 L741.44,274.25 L741.13,275.86 L740.87,277.42 L740.73,278.86 L740.80,280.07 L741.10,281.04 L741.57,281.80 L742.18,282.44 L742.86,283.00 L743.58,283.57 L744.30,284.21 L745.04,284.90 L745.83,285.58 L746.66,286.27 L747.51,286.96 L748.37,287.65 L749.20,288.34 L750.02,289.03 L750.83,289.72 L751.65,290.41 L752.47,291.10 L753.28,291.79 L754.10,292.48 L754.99,293.18 L755.97,293.90 L756.94,294.63 L757.83,295.33 L758.55,296.00 L759.00,296.61 L759.18,297.16 L759.17,297.67 L758.98,298.15 L758.63,298.58 L758.17,298.99 L757.60,299.37 L756.81,299.71 L755.75,300.04 L754.56,300.32 L753.40,300.58 L752.39,300.78 L751.70,300.94 L728.50,300.94 L727.81,300.78 L726.80,300.58 L725.64,300.32 L724.45,300.04 L723.39,299.71 L722.60,299.37 L722.03,298.99 L721.57,298.58 L721.23,298.15 L721.03,297.67 L721.02,297.16 L721.20,296.61 L721.65,296.00 L722.37,295.33 L723.26,294.63 L724.23,293.90 L725.21,293.18 L726.10,292.48 L726.92,291.79 L727.73,291.10 L728.55,290.41 L729.37,289.72 L730.18,289.03 L731.00,288.34 L731.83,287.65 L732.69,286.96 L733.54,286.27 L734.37,285.58 L735.16,284.90 L735.90,284.21 L736.62,283.57 L737.34,283.00 L738.02,282.44 L738.63,281.80 L739.10,281.04 L739.40,280.07 L739.47,278.86 L739.33,277.42 L739.07,275.86 L738.76,274.25 L738.47,272.67 L738.30,271.21 L738.22,269.89 L738.17,268.63 L738.16,267.40 L738.17,266.18 L738.22,264.93 L738.30,263.64 L738.46,262.27 L738.70,260.88 L738.98,259.45 L739.23,258.02 L739.43,256.59 L739.50,255.17 L739.41,253.77 L739.18,252.37 L738.89,250.98 L738.60,249.59 L738.38,248.20 L738.30,246.80 L738.41,245.40 L738.66,243.97 L738.98,242.55 L739.30,241.15 L739.56,239.77 L739.70,238.44 L739.69,237.15 L739.57,235.88 L739.39,234.65 L739.20,233.45 L739.02,232.28 L738.90,231.15 L738.83,230.06 L738.77,229.01 L738.73,227.99 L738.71,227.01 L738.73,226.06 L738.80,225.15 L738.94,225.09 L739.15,226.05 L739.39,227.05 L739.64,227.10 L739.85,225.22 L739.95,220.42 L739.95,211.26 L739.95,198.20 L739.95,183.22 L739.95,168.26 L739.95,155.27 L739.95,146.21 L739.93,141.52 L739.82,139.75 L739.70,139.95 L739.58,141.17 L739.47,142.49 L739.40,142.96 Z" fill="none" stroke="#000" stroke-width="2.80" stroke-linejoin="round"/>
<text x="591.00" y="215.30" font-family='"Liberation Sans", "Noto Sans CJK JP", sans-serif' font-size="14.00" font-weight="500" text-anchor="middle" fill="#000" transform="rotate(-90 591.00 215.30)">血清IgG抗体価</text>
<text x="672.90" y="107.00" font-family='"Liberation Sans", Arial, Helvetica, sans-serif' font-size="17.80" font-weight="normal" text-anchor="start" fill="#b41e24" >P = 0.0056</text>
<path d="M122.40,450.40 V676.70 H271.30" fill="none" stroke="#000" stroke-width="2.1" stroke-linecap="butt"/>
<line x1="114.90" y1="676.70" x2="122.40" y2="676.70" stroke="#000" stroke-width="2.1"/>
<text x="111.40" y="682.30" font-family='"Liberation Sans", Arial, Helvetica, sans-serif' font-size="14.50" font-weight="bold" text-anchor="end" fill="#000" stroke="#000" stroke-width="0.25">-5</text>
<line x1="114.90" y1="639.15" x2="122.40" y2="639.15" stroke="#000" stroke-width="2.1"/>
<text x="111.40" y="644.75" font-family='"Liberation Sans", Arial, Helvetica, sans-serif' font-size="14.50" font-weight="bold" text-anchor="end" fill="#000" stroke="#000" stroke-width="0.25">0</text>
<line x1="114.90" y1="601.60" x2="122.40" y2="601.60" stroke="#000" stroke-width="2.1"/>
<text x="111.40" y="607.20" font-family='"Liberation Sans", Arial, Helvetica, sans-serif' font-size="14.50" font-weight="bold" text-anchor="end" fill="#000" stroke="#000" stroke-width="0.25">5</text>
<line x1="114.90" y1="564.05" x2="122.40" y2="564.05" stroke="#000" stroke-width="2.1"/>
<text x="111.40" y="569.65" font-family='"Liberation Sans", Arial, Helvetica, sans-serif' font-size="14.50" font-weight="bold" text-anchor="end" fill="#000" stroke="#000" stroke-width="0.25">10</text>
<line x1="114.90" y1="526.50" x2="122.40" y2="526.50" stroke="#000" stroke-width="2.1"/>
<text x="111.40" y="532.10" font-family='"Liberation Sans", Arial, Helvetica, sans-serif' font-size="14.50" font-weight="bold" text-anchor="end" fill="#000" stroke="#000" stroke-width="0.25">15</text>
<line x1="114.90" y1="488.95" x2="122.40" y2="488.95" stroke="#000" stroke-width="2.1"/>
<text x="111.40" y="494.55" font-family='"Liberation Sans", Arial, Helvetica, sans-serif' font-size="14.50" font-weight="bold" text-anchor="end" fill="#000" stroke="#000" stroke-width="0.25">20</text>
<line x1="114.90" y1="451.40" x2="122.40" y2="451.40" stroke="#000" stroke-width="2.1"/>
<text x="111.40" y="457.00" font-family='"Liberation Sans", Arial, Helvetica, sans-serif' font-size="14.50" font-weight="bold" text-anchor="end" fill="#000" stroke="#000" stroke-width="0.25">25</text>
<line x1="145.00" y1="676.70" x2="145.00" y2="684.20" stroke="#000" stroke-width="2.1"/>
<line x1="180.00" y1="676.70" x2="180.00" y2="684.20" stroke="#000" stroke-width="2.1"/>
<line x1="214.80" y1="676.70" x2="214.80" y2="684.20" stroke="#000" stroke-width="2.1"/>
<line x1="249.40" y1="676.70" x2="249.40" y2="684.20" stroke="#000" stroke-width="2.1"/>
<line x1="121.90" y1="631.64" x2="271.30" y2="631.64" stroke="#cf553c" stroke-width="1.9" stroke-dasharray="6,3.34"/>
<line x1="114.90" y1="631.64" x2="122.40" y2="631.64" stroke="#000" stroke-width="2.1"/>
<path d="M145.60,618.36 L145.60,619.21 L145.60,620.38 L145.59,621.77 L145.60,623.26 L145.64,624.72 L145.70,626.04 L145.79,627.27 L145.90,628.49 L146.04,629.69 L146.20,630.85 L146.38,631.93 L146.60,632.91 L146.84,633.78 L147.10,634.56 L147.38,635.27 L147.70,635.92 L148.07,636.53 L148.50,637.11 L149.01,637.66 L149.61,638.16 L150.25,638.62 L150.90,639.05 L151.53,639.46 L152.10,639.86 L152.66,640.25 L153.24,640.61 L153.80,640.95 L154.28,641.29 L154.63,641.62 L154.80,641.96 L154.75,642.32 L154.52,642.69 L154.16,643.06 L153.71,643.42 L153.25,643.76 L152.80,644.07 L152.32,644.35 L151.76,644.63 L151.17,644.89 L150.61,645.11 L150.14,645.30 L149.80,645.44 L140.60,645.44 L140.26,645.30 L139.79,645.11 L139.22,644.89 L138.64,644.63 L138.08,644.35 L137.60,644.07 L137.15,643.76 L136.69,643.42 L136.24,643.06 L135.88,642.69 L135.65,642.32 L135.60,641.96 L135.77,641.62 L136.12,641.29 L136.60,640.95 L137.16,640.61 L137.74,640.25 L138.30,639.86 L138.87,639.46 L139.50,639.05 L140.15,638.62 L140.79,638.16 L141.39,637.66 L141.90,637.11 L142.33,636.53 L142.70,635.92 L143.02,635.27 L143.30,634.56 L143.56,633.78 L143.80,632.91 L144.02,631.93 L144.20,630.85 L144.36,629.69 L144.50,628.49 L144.61,627.27 L144.70,626.04 L144.76,624.72 L144.80,623.26 L144.81,621.77 L144.80,620.38 L144.80,619.21 L144.80,618.36 Z" fill="#cf2286" stroke="none"/>
<path d="M145.60,618.36 L145.60,619.21 L145.60,620.38 L145.59,621.77 L145.60,623.26 L145.64,624.72 L145.70,626.04 L145.79,627.27 L145.90,628.49 L146.04,629.69 L146.20,630.85 L146.38,631.93 L146.60,632.91 L146.84,633.78 L147.10,634.56 L147.38,635.27 L147.70,635.92 L148.07,636.53 L148.50,637.11 L149.01,637.66 L149.61,638.16 L150.25,638.62 L150.90,639.05 L151.53,639.46 L152.10,639.86 L152.66,640.25 L153.24,640.61 L153.80,640.95 L154.28,641.29 L154.63,641.62 L154.80,641.96 L154.75,642.32 L154.52,642.69 L154.16,643.06 L153.71,643.42 L153.25,643.76 L152.80,644.07 L152.32,644.35 L151.76,644.63 L151.17,644.89 L150.61,645.11 L150.14,645.30 L149.80,645.44 L140.60,645.44 L140.26,645.30 L139.79,645.11 L139.22,644.89 L138.64,644.63 L138.08,644.35 L137.60,644.07 L137.15,643.76 L136.69,643.42 L136.24,643.06 L135.88,642.69 L135.65,642.32 L135.60,641.96 L135.77,641.62 L136.12,641.29 L136.60,640.95 L137.16,640.61 L137.74,640.25 L138.30,639.86 L138.87,639.46 L139.50,639.05 L140.15,638.62 L140.79,638.16 L141.39,637.66 L141.90,637.11 L142.33,636.53 L142.70,635.92 L143.02,635.27 L143.30,634.56 L143.56,633.78 L143.80,632.91 L144.02,631.93 L144.20,630.85 L144.36,629.69 L144.50,628.49 L144.61,627.27 L144.70,626.04 L144.76,624.72 L144.80,623.26 L144.81,621.77 L144.80,620.38 L144.80,619.21 L144.80,618.36 Z" fill="none" stroke="#000" stroke-width="2.80" stroke-linejoin="round"/>
<path d="M180.70,588.46 L180.68,588.73 L180.65,589.07 L180.61,589.49 L180.57,589.98 L180.54,590.53 L180.50,591.14 L180.45,591.84 L180.39,592.64 L180.33,593.51 L180.29,594.40 L180.27,595.28 L180.30,596.12 L180.39,596.91 L180.51,597.70 L180.67,598.48 L180.85,599.24 L181.03,599.99 L181.20,600.71 L181.38,601.42 L181.59,602.11 L181.81,602.78 L182.00,603.44 L182.14,604.09 L182.20,604.74 L182.17,605.38 L182.06,606.03 L181.91,606.67 L181.73,607.28 L181.55,607.85 L181.40,608.37 L181.27,608.74 L181.13,608.95 L180.99,609.12 L180.87,609.37 L180.77,609.81 L180.70,610.58 L180.67,611.72 L180.67,613.16 L180.70,614.81 L180.74,616.54 L180.77,618.26 L180.80,619.86 L180.79,621.42 L180.76,623.02 L180.72,624.62 L180.71,626.13 L180.76,627.51 L180.90,628.67 L181.13,629.57 L181.44,630.26 L181.81,630.81 L182.22,631.29 L182.66,631.76 L183.10,632.31 L183.58,632.91 L184.11,633.52 L184.66,634.13 L185.21,634.73 L185.74,635.34 L186.20,635.95 L186.61,636.57 L186.99,637.21 L187.33,637.85 L187.65,638.48 L187.94,639.06 L188.20,639.58 L188.45,640.03 L188.69,640.42 L188.90,640.77 L189.07,641.10 L189.17,641.43 L189.20,641.78 L189.13,642.17 L188.99,642.56 L188.78,642.96 L188.53,643.34 L188.26,643.69 L188.00,643.99 L187.71,644.24 L187.38,644.46 L187.03,644.65 L186.69,644.81 L186.40,644.94 L186.20,645.04 L173.00,645.04 L172.80,644.94 L172.51,644.81 L172.17,644.65 L171.82,644.46 L171.49,644.24 L171.20,643.99 L170.94,643.69 L170.67,643.34 L170.42,642.96 L170.21,642.56 L170.07,642.17 L170.00,641.78 L170.03,641.43 L170.13,641.10 L170.30,640.77 L170.51,640.42 L170.75,640.03 L171.00,639.58 L171.26,639.06 L171.55,638.48 L171.87,637.85 L172.21,637.21 L172.59,636.57 L173.00,635.95 L173.46,635.34 L173.99,634.73 L174.54,634.13 L175.09,633.52 L175.62,632.91 L176.10,632.31 L176.54,631.76 L176.98,631.29 L177.39,630.81 L177.76,630.26 L178.07,629.57 L178.30,628.67 L178.44,627.51 L178.49,626.13 L178.48,624.62 L178.44,623.02 L178.41,621.42 L178.40,619.86 L178.43,618.26 L178.46,616.54 L178.50,614.81 L178.53,613.16 L178.53,611.72 L178.50,610.58 L178.43,609.81 L178.33,609.37 L178.21,609.12 L178.07,608.95 L177.93,608.74 L177.80,608.37 L177.65,607.85 L177.47,607.28 L177.29,606.67 L177.14,606.03 L177.03,605.38 L177.00,604.74 L177.06,604.09 L177.20,603.44 L177.39,602.78 L177.61,602.11 L177.82,601.42 L178.00,600.71 L178.17,599.99 L178.35,599.24 L178.53,598.48 L178.69,597.70 L178.81,596.91 L178.90,596.12 L178.93,595.28 L178.91,594.40 L178.87,593.51 L178.81,592.64 L178.75,591.84 L178.70,591.14 L178.66,590.53 L178.63,589.98 L178.59,589.49 L178.55,589.07 L178.52,588.73 L178.50,588.46 Z" fill="#14f2ee" stroke="none"/>
<line x1="170.40" y1="640.60" x2="188.80" y2="640.60" stroke="#0fa8a8" stroke-width="1.2" stroke-dasharray="3,2"/>
<line x1="170.39" y1="642.90" x2="188.81" y2="642.90" stroke="#0fa8a8" stroke-width="0.8"/>
<path d="M180.70,588.46 L180.68,588.73 L180.65,589.07 L180.61,589.49 L180.57,589.98 L180.54,590.53 L180.50,591.14 L180.45,591.84 L180.39,592.64 L180.33,593.51 L180.29,594.40 L180.27,595.28 L180.30,596.12 L180.39,596.91 L180.51,597.70 L180.67,598.48 L180.85,599.24 L181.03,599.99 L181.20,600.71 L181.38,601.42 L181.59,602.11 L181.81,602.78 L182.00,603.44 L182.14,604.09 L182.20,604.74 L182.17,605.38 L182.06,606.03 L181.91,606.67 L181.73,607.28 L181.55,607.85 L181.40,608.37 L181.27,608.74 L181.13,608.95 L180.99,609.12 L180.87,609.37 L180.77,609.81 L180.70,610.58 L180.67,611.72 L180.67,613.16 L180.70,614.81 L180.74,616.54 L180.77,618.26 L180.80,619.86 L180.79,621.42 L180.76,623.02 L180.72,624.62 L180.71,626.13 L180.76,627.51 L180.90,628.67 L181.13,629.57 L181.44,630.26 L181.81,630.81 L182.22,631.29 L182.66,631.76 L183.10,632.31 L183.58,632.91 L184.11,633.52 L184.66,634.13 L185.21,634.73 L185.74,635.34 L186.20,635.95 L186.61,636.57 L186.99,637.21 L187.33,637.85 L187.65,638.48 L187.94,639.06 L188.20,639.58 L188.45,640.03 L188.69,640.42 L188.90,640.77 L189.07,641.10 L189.17,641.43 L189.20,641.78 L189.13,642.17 L188.99,642.56 L188.78,642.96 L188.53,643.34 L188.26,643.69 L188.00,643.99 L187.71,644.24 L187.38,644.46 L187.03,644.65 L186.69,644.81 L186.40,644.94 L186.20,645.04 L173.00,645.04 L172.80,644.94 L172.51,644.81 L172.17,644.65 L171.82,644.46 L171.49,644.24 L171.20,643.99 L170.94,643.69 L170.67,643.34 L170.42,642.96 L170.21,642.56 L170.07,642.17 L170.00,641.78 L170.03,641.43 L170.13,641.10 L170.30,640.77 L170.51,640.42 L170.75,640.03 L171.00,639.58 L171.26,639.06 L171.55,638.48 L171.87,637.85 L172.21,637.21 L172.59,636.57 L173.00,635.95 L173.46,635.34 L173.99,634.73 L174.54,634.13 L175.09,633.52 L175.62,632.91 L176.10,632.31 L176.54,631.76 L176.98,631.29 L177.39,630.81 L177.76,630.26 L178.07,629.57 L178.30,628.67 L178.44,627.51 L178.49,626.13 L178.48,624.62 L178.44,623.02 L178.41,621.42 L178.40,619.86 L178.43,618.26 L178.46,616.54 L178.50,614.81 L178.53,613.16 L178.53,611.72 L178.50,610.58 L178.43,609.81 L178.33,609.37 L178.21,609.12 L178.07,608.95 L177.93,608.74 L177.80,608.37 L177.65,607.85 L177.47,607.28 L177.29,606.67 L177.14,606.03 L177.03,605.38 L177.00,604.74 L177.06,604.09 L177.20,603.44 L177.39,602.78 L177.61,602.11 L177.82,601.42 L178.00,600.71 L178.17,599.99 L178.35,599.24 L178.53,598.48 L178.69,597.70 L178.81,596.91 L178.90,596.12 L178.93,595.28 L178.91,594.40 L178.87,593.51 L178.81,592.64 L178.75,591.84 L178.70,591.14 L178.66,590.53 L178.63,589.98 L178.59,589.49 L178.55,589.07 L178.52,588.73 L178.50,588.46 Z" fill="none" stroke="#000" stroke-width="2.80" stroke-linejoin="round"/>
<path d="M215.60,568.56 L215.47,568.98 L215.28,569.56 L215.07,570.25 L214.85,571.00 L214.75,571.78 L214.75,572.53 L214.75,573.24 L214.75,573.95 L214.75,574.68 L214.75,575.46 L214.75,576.31 L214.75,577.27 L214.75,578.37 L214.77,579.61 L214.81,580.92 L214.86,582.25 L214.92,583.53 L215.00,584.72 L215.13,585.79 L215.30,586.79 L215.49,587.75 L215.66,588.70 L215.77,589.68 L215.80,590.72 L215.71,591.66 L215.53,592.44 L215.30,593.25 L215.06,594.28 L214.84,595.72 L214.75,597.79 L214.75,600.83 L214.75,604.78 L214.75,609.14 L214.75,613.45 L214.75,617.21 L214.75,619.95 L214.82,621.51 L215.01,622.23 L215.22,622.42 L215.42,622.36 L215.57,622.34 L215.65,622.66 L215.62,623.30 L215.52,624.01 L215.37,624.76 L215.21,625.53 L215.08,626.29 L215.00,627.02 L214.96,627.71 L214.93,628.40 L214.92,629.08 L214.95,629.74 L215.04,630.38 L215.20,630.98 L215.45,631.55 L215.77,632.08 L216.15,632.58 L216.57,633.07 L217.03,633.57 L217.50,634.08 L218.00,634.61 L218.55,635.14 L219.12,635.67 L219.72,636.21 L220.31,636.74 L220.90,637.27 L221.54,637.82 L222.26,638.37 L222.97,638.93 L223.62,639.47 L224.12,639.99 L224.40,640.47 L224.43,640.92 L224.25,641.34 L223.93,641.73 L223.51,642.11 L223.05,642.46 L222.60,642.79 L222.09,643.11 L221.46,643.42 L220.79,643.71 L220.14,643.97 L219.59,644.18 L219.20,644.34 L210.00,644.34 L209.61,644.18 L209.06,643.97 L208.41,643.71 L207.74,643.42 L207.11,643.11 L206.60,642.79 L206.15,642.46 L205.69,642.11 L205.27,641.73 L204.95,641.34 L204.77,640.92 L204.80,640.47 L205.08,639.99 L205.58,639.47 L206.22,638.93 L206.94,638.37 L207.66,637.82 L208.30,637.27 L208.89,636.74 L209.48,636.21 L210.07,635.67 L210.65,635.14 L211.20,634.61 L211.70,634.08 L212.17,633.57 L212.63,633.07 L213.05,632.58 L213.43,632.08 L213.75,631.55 L214.00,630.98 L214.16,630.38 L214.25,629.74 L214.28,629.08 L214.27,628.40 L214.24,627.71 L214.20,627.02 L214.12,626.29 L213.99,625.53 L213.83,624.76 L213.68,624.01 L213.58,623.30 L213.55,622.66 L213.63,622.34 L213.78,622.36 L213.98,622.42 L214.19,622.23 L214.38,621.51 L214.45,619.95 L214.45,617.21 L214.45,613.45 L214.45,609.14 L214.45,604.78 L214.45,600.83 L214.45,597.79 L214.36,595.72 L214.14,594.28 L213.90,593.25 L213.67,592.44 L213.49,591.66 L213.40,590.72 L213.43,589.68 L213.54,588.70 L213.71,587.75 L213.90,586.79 L214.07,585.79 L214.20,584.72 L214.28,583.53 L214.34,582.25 L214.39,580.92 L214.43,579.61 L214.45,578.37 L214.45,577.27 L214.45,576.31 L214.45,575.46 L214.45,574.68 L214.45,573.95 L214.45,573.24 L214.45,572.53 L214.45,571.78 L214.35,571.00 L214.13,570.25 L213.92,569.56 L213.73,568.98 L213.60,568.56 Z" fill="#0c32f0" stroke="none"/>
<path d="M215.60,568.56 L215.47,568.98 L215.28,569.56 L215.07,570.25 L214.85,571.00 L214.75,571.78 L214.75,572.53 L214.75,573.24 L214.75,573.95 L214.75,574.68 L214.75,575.46 L214.75,576.31 L214.75,577.27 L214.75,578.37 L214.77,579.61 L214.81,580.92 L214.86,582.25 L214.92,583.53 L215.00,584.72 L215.13,585.79 L215.30,586.79 L215.49,587.75 L215.66,588.70 L215.77,589.68 L215.80,590.72 L215.71,591.66 L215.53,592.44 L215.30,593.25 L215.06,594.28 L214.84,595.72 L214.75,597.79 L214.75,600.83 L214.75,604.78 L214.75,609.14 L214.75,613.45 L214.75,617.21 L214.75,619.95 L214.82,621.51 L215.01,622.23 L215.22,622.42 L215.42,622.36 L215.57,622.34 L215.65,622.66 L215.62,623.30 L215.52,624.01 L215.37,624.76 L215.21,625.53 L215.08,626.29 L215.00,627.02 L214.96,627.71 L214.93,628.40 L214.92,629.08 L214.95,629.74 L215.04,630.38 L215.20,630.98 L215.45,631.55 L215.77,632.08 L216.15,632.58 L216.57,633.07 L217.03,633.57 L217.50,634.08 L218.00,634.61 L218.55,635.14 L219.12,635.67 L219.72,636.21 L220.31,636.74 L220.90,637.27 L221.54,637.82 L222.26,638.37 L222.97,638.93 L223.62,639.47 L224.12,639.99 L224.40,640.47 L224.43,640.92 L224.25,641.34 L223.93,641.73 L223.51,642.11 L223.05,642.46 L222.60,642.79 L222.09,643.11 L221.46,643.42 L220.79,643.71 L220.14,643.97 L219.59,644.18 L219.20,644.34 L210.00,644.34 L209.61,644.18 L209.06,643.97 L208.41,643.71 L207.74,643.42 L207.11,643.11 L206.60,642.79 L206.15,642.46 L205.69,642.11 L205.27,641.73 L204.95,641.34 L204.77,640.92 L204.80,640.47 L205.08,639.99 L205.58,639.47 L206.22,638.93 L206.94,638.37 L207.66,637.82 L208.30,637.27 L208.89,636.74 L209.48,636.21 L210.07,635.67 L210.65,635.14 L211.20,634.61 L211.70,634.08 L212.17,633.57 L212.63,633.07 L213.05,632.58 L213.43,632.08 L213.75,631.55 L214.00,630.98 L214.16,630.38 L214.25,629.74 L214.28,629.08 L214.27,628.40 L214.24,627.71 L214.20,627.02 L214.12,626.29 L213.99,625.53 L213.83,624.76 L213.68,624.01 L213.58,623.30 L213.55,622.66 L213.63,622.34 L213.78,622.36 L213.98,622.42 L214.19,622.23 L214.38,621.51 L214.45,619.95 L214.45,617.21 L214.45,613.45 L214.45,609.14 L214.45,604.78 L214.45,600.83 L214.45,597.79 L214.36,595.72 L214.14,594.28 L213.90,593.25 L213.67,592.44 L213.49,591.66 L213.40,590.72 L213.43,589.68 L213.54,588.70 L213.71,587.75 L213.90,586.79 L214.07,585.79 L214.20,584.72 L214.28,583.53 L214.34,582.25 L214.39,580.92 L214.43,579.61 L214.45,578.37 L214.45,577.27 L214.45,576.31 L214.45,575.46 L214.45,574.68 L214.45,573.95 L214.45,573.24 L214.45,572.53 L214.45,571.78 L214.35,571.00 L214.13,570.25 L213.92,569.56 L213.73,568.98 L213.60,568.56 Z" fill="none" stroke="#000" stroke-width="2.80" stroke-linejoin="round"/>
<path d="M251.30,483.26 L251.23,483.74 L251.15,484.37 L251.04,485.14 L250.92,486.03 L250.77,487.05 L250.60,488.18 L250.38,489.33 L250.11,490.46 L249.81,491.72 L249.53,493.23 L249.28,495.13 L249.15,497.54 L249.15,499.87 L249.15,501.90 L249.15,504.32 L249.15,507.80 L249.15,513.03 L249.15,520.68 L249.15,532.31 L249.15,547.68 L249.15,564.80 L249.15,581.67 L249.15,596.28 L249.15,606.64 L249.15,612.14 L249.27,614.26 L249.46,614.12 L249.65,612.86 L249.84,611.60 L250.00,611.46 L250.14,612.23 L250.27,612.95 L250.39,613.67 L250.50,614.44 L250.60,615.30 L250.70,616.29 L250.77,617.49 L250.81,618.89 L250.84,620.38 L250.89,621.86 L250.97,623.22 L251.10,624.36 L251.27,625.26 L251.47,625.98 L251.69,626.58 L251.97,627.13 L252.30,627.69 L252.70,628.30 L253.22,628.97 L253.85,629.64 L254.54,630.31 L255.23,630.99 L255.87,631.66 L256.40,632.34 L256.83,633.01 L257.19,633.68 L257.51,634.36 L257.77,635.03 L258.00,635.70 L258.20,636.37 L258.37,637.06 L258.50,637.75 L258.59,638.45 L258.64,639.13 L258.64,639.79 L258.60,640.41 L258.49,641.01 L258.32,641.59 L258.11,642.15 L257.87,642.67 L257.62,643.14 L257.40,643.56 L257.17,643.92 L256.93,644.23 L256.68,644.50 L256.44,644.72 L256.24,644.90 L256.10,645.04 L241.90,645.04 L241.76,644.90 L241.56,644.72 L241.32,644.50 L241.07,644.23 L240.83,643.92 L240.60,643.56 L240.38,643.14 L240.13,642.67 L239.89,642.15 L239.68,641.59 L239.51,641.01 L239.40,640.41 L239.36,639.79 L239.36,639.13 L239.41,638.45 L239.50,637.75 L239.63,637.06 L239.80,636.37 L240.00,635.70 L240.23,635.03 L240.49,634.36 L240.81,633.68 L241.17,633.01 L241.60,632.34 L242.13,631.66 L242.77,630.99 L243.46,630.31 L244.15,629.64 L244.78,628.97 L245.30,628.30 L245.70,627.69 L246.03,627.13 L246.31,626.58 L246.53,625.98 L246.73,625.26 L246.90,624.36 L247.03,623.22 L247.11,621.86 L247.16,620.38 L247.19,618.89 L247.23,617.49 L247.30,616.29 L247.40,615.30 L247.50,614.44 L247.61,613.67 L247.73,612.95 L247.86,612.23 L248.00,611.46 L248.16,611.60 L248.35,612.86 L248.54,614.12 L248.73,614.26 L248.85,612.14 L248.85,606.64 L248.85,596.28 L248.85,581.67 L248.85,564.80 L248.85,547.68 L248.85,532.31 L248.85,520.68 L248.85,513.03 L248.85,507.80 L248.85,504.32 L248.85,501.90 L248.85,499.87 L248.85,497.54 L248.72,495.13 L248.47,493.23 L248.19,491.72 L247.89,490.46 L247.62,489.33 L247.40,488.18 L247.23,487.05 L247.08,486.03 L246.96,485.14 L246.85,484.37 L246.77,483.74 L246.70,483.26 Z" fill="#0c1c98" stroke="none"/>
<line x1="239.65" y1="637.00" x2="258.35" y2="637.00" stroke="#081268" stroke-width="0.8"/>
<line x1="239.65" y1="641.50" x2="258.35" y2="641.50" stroke="#081268" stroke-width="0.8"/>
<path d="M251.30,483.26 L251.23,483.74 L251.15,484.37 L251.04,485.14 L250.92,486.03 L250.77,487.05 L250.60,488.18 L250.38,489.33 L250.11,490.46 L249.81,491.72 L249.53,493.23 L249.28,495.13 L249.15,497.54 L249.15,499.87 L249.15,501.90 L249.15,504.32 L249.15,507.80 L249.15,513.03 L249.15,520.68 L249.15,532.31 L249.15,547.68 L249.15,564.80 L249.15,581.67 L249.15,596.28 L249.15,606.64 L249.15,612.14 L249.27,614.26 L249.46,614.12 L249.65,612.86 L249.84,611.60 L250.00,611.46 L250.14,612.23 L250.27,612.95 L250.39,613.67 L250.50,614.44 L250.60,615.30 L250.70,616.29 L250.77,617.49 L250.81,618.89 L250.84,620.38 L250.89,621.86 L250.97,623.22 L251.10,624.36 L251.27,625.26 L251.47,625.98 L251.69,626.58 L251.97,627.13 L252.30,627.69 L252.70,628.30 L253.22,628.97 L253.85,629.64 L254.54,630.31 L255.23,630.99 L255.87,631.66 L256.40,632.34 L256.83,633.01 L257.19,633.68 L257.51,634.36 L257.77,635.03 L258.00,635.70 L258.20,636.37 L258.37,637.06 L258.50,637.75 L258.59,638.45 L258.64,639.13 L258.64,639.79 L258.60,640.41 L258.49,641.01 L258.32,641.59 L258.11,642.15 L257.87,642.67 L257.62,643.14 L257.40,643.56 L257.17,643.92 L256.93,644.23 L256.68,644.50 L256.44,644.72 L256.24,644.90 L256.10,645.04 L241.90,645.04 L241.76,644.90 L241.56,644.72 L241.32,644.50 L241.07,644.23 L240.83,643.92 L240.60,643.56 L240.38,643.14 L240.13,642.67 L239.89,642.15 L239.68,641.59 L239.51,641.01 L239.40,640.41 L239.36,639.79 L239.36,639.13 L239.41,638.45 L239.50,637.75 L239.63,637.06 L239.80,636.37 L240.00,635.70 L240.23,635.03 L240.49,634.36 L240.81,633.68 L241.17,633.01 L241.60,632.34 L242.13,631.66 L242.77,630.99 L243.46,630.31 L244.15,629.64 L244.78,628.97 L245.30,628.30 L245.70,627.69 L246.03,627.13 L246.31,626.58 L246.53,625.98 L246.73,625.26 L246.90,624.36 L247.03,623.22 L247.11,621.86 L247.16,620.38 L247.19,618.89 L247.23,617.49 L247.30,616.29 L247.40,615.30 L247.50,614.44 L247.61,613.67 L247.73,612.95 L247.86,612.23 L248.00,611.46 L248.16,611.60 L248.35,612.86 L248.54,614.12 L248.73,614.26 L248.85,612.14 L248.85,606.64 L248.85,596.28 L248.85,581.67 L248.85,564.80 L248.85,547.68 L248.85,532.31 L248.85,520.68 L248.85,513.03 L248.85,507.80 L248.85,504.32 L248.85,501.90 L248.85,499.87 L248.85,497.54 L248.72,495.13 L248.47,493.23 L248.19,491.72 L247.89,490.46 L247.62,489.33 L247.40,488.18 L247.23,487.05 L247.08,486.03 L246.96,485.14 L246.85,484.37 L246.77,483.74 L246.70,483.26 Z" fill="none" stroke="#000" stroke-width="2.80" stroke-linejoin="round"/>
<text x="78.10" y="559.20" font-family='"Liberation Sans", "Noto Sans CJK JP", sans-serif' font-size="14.00" font-weight="500" text-anchor="middle" fill="#000" transform="rotate(-90 78.10 559.20)">血清IgG抗体価</text>
<text x="160.50" y="451.60" font-family='"Liberation Sans", Arial, Helvetica, sans-serif' font-size="17.80" font-weight="normal" text-anchor="start" fill="#b41e24" >P = 0.0056</text>
<path d="M379.50,452.70 V678.30 H529.00" fill="none" stroke="#000" stroke-width="2.1" stroke-linecap="butt"/>
<line x1="372.00" y1="678.30" x2="379.50" y2="678.30" stroke="#000" stroke-width="2.1"/>
<text x="368.50" y="683.90" font-family='"Liberation Sans", Arial, Helvetica, sans-serif' font-size="14.50" font-weight="bold" text-anchor="end" fill="#000" stroke="#000" stroke-width="0.25">-5</text>
<line x1="372.00" y1="622.15" x2="379.50" y2="622.15" stroke="#000" stroke-width="2.1"/>
<text x="368.50" y="627.75" font-family='"Liberation Sans", Arial, Helvetica, sans-serif' font-size="14.50" font-weight="bold" text-anchor="end" fill="#000" stroke="#000" stroke-width="0.25">0</text>
<line x1="372.00" y1="566.00" x2="379.50" y2="566.00" stroke="#000" stroke-width="2.1"/>
<text x="368.50" y="571.60" font-family='"Liberation Sans", Arial, Helvetica, sans-serif' font-size="14.50" font-weight="bold" text-anchor="end" fill="#000" stroke="#000" stroke-width="0.25">5</text>
<line x1="372.00" y1="509.85" x2="379.50" y2="509.85" stroke="#000" stroke-width="2.1"/>
<text x="368.50" y="515.45" font-family='"Liberation Sans", Arial, Helvetica, sans-serif' font-size="14.50" font-weight="bold" text-anchor="end" fill="#000" stroke="#000" stroke-width="0.25">10</text>
<line x1="372.00" y1="453.70" x2="379.50" y2="453.70" stroke="#000" stroke-width="2.1"/>
<text x="368.50" y="459.30" font-family='"Liberation Sans", Arial, Helvetica, sans-serif' font-size="14.50" font-weight="bold" text-anchor="end" fill="#000" stroke="#000" stroke-width="0.25">15</text>
<line x1="402.00" y1="678.30" x2="402.00" y2="685.80" stroke="#000" stroke-width="2.1"/>
<line x1="437.00" y1="678.30" x2="437.00" y2="685.80" stroke="#000" stroke-width="2.1"/>
<line x1="471.90" y1="678.30" x2="471.90" y2="685.80" stroke="#000" stroke-width="2.1"/>
<line x1="506.40" y1="678.30" x2="506.40" y2="685.80" stroke="#000" stroke-width="2.1"/>
<line x1="379.00" y1="610.92" x2="529.00" y2="610.92" stroke="#cf553c" stroke-width="1.9" stroke-dasharray="6,3.34"/>
<line x1="372.00" y1="610.92" x2="379.50" y2="610.92" stroke="#000" stroke-width="2.1"/>
<path d="M402.55,542.26 L402.51,542.56 L402.45,542.87 L402.38,543.29 L402.35,543.92 L402.35,544.84 L402.35,546.15 L402.35,547.97 L402.35,550.23 L402.35,552.78 L402.35,555.49 L402.35,558.19 L402.35,560.75 L402.35,563.24 L402.35,565.80 L402.54,568.36 L402.75,570.84 L402.93,573.20 L403.05,575.35 L403.11,577.25 L403.12,578.96 L403.11,580.52 L403.09,582.02 L403.06,583.52 L403.05,585.08 L403.06,586.74 L403.07,588.44 L403.08,590.13 L403.09,591.79 L403.08,593.36 L403.05,594.82 L402.96,596.15 L402.81,597.41 L402.64,598.59 L402.51,599.68 L402.47,600.70 L402.55,601.63 L402.79,602.39 L403.16,602.96 L403.61,603.45 L404.11,603.97 L404.60,604.62 L405.05,605.52 L405.47,606.71 L405.88,608.12 L406.29,609.66 L406.71,611.25 L407.13,612.82 L407.55,614.28 L408.00,615.69 L408.47,617.13 L408.94,618.54 L409.40,619.87 L409.81,621.06 L410.15,622.07 L410.42,622.82 L410.64,623.36 L410.81,623.77 L410.95,624.12 L411.06,624.50 L411.15,624.99 L411.21,625.58 L411.23,626.21 L411.22,626.87 L411.20,627.55 L411.17,628.22 L411.15,628.88 L411.14,629.56 L411.12,630.28 L411.10,631.00 L411.07,631.68 L411.04,632.28 L411.00,632.77 L410.94,633.14 L410.87,633.41 L410.79,633.60 L410.71,633.74 L410.65,633.84 L410.60,633.94 L393.80,633.94 L393.75,633.84 L393.69,633.74 L393.61,633.60 L393.53,633.41 L393.46,633.14 L393.40,632.77 L393.36,632.28 L393.33,631.68 L393.30,631.00 L393.28,630.28 L393.26,629.56 L393.25,628.88 L393.23,628.22 L393.20,627.55 L393.18,626.87 L393.17,626.21 L393.19,625.58 L393.25,624.99 L393.34,624.50 L393.45,624.12 L393.59,623.77 L393.76,623.36 L393.98,622.82 L394.25,622.07 L394.59,621.06 L395.00,619.87 L395.46,618.54 L395.93,617.13 L396.40,615.69 L396.85,614.28 L397.27,612.82 L397.69,611.25 L398.11,609.66 L398.52,608.12 L398.93,606.71 L399.35,605.52 L399.80,604.62 L400.29,603.97 L400.79,603.45 L401.24,602.96 L401.61,602.39 L401.85,601.63 L401.93,600.70 L401.89,599.68 L401.76,598.59 L401.59,597.41 L401.44,596.15 L401.35,594.82 L401.32,593.36 L401.31,591.79 L401.32,590.13 L401.33,588.44 L401.34,586.74 L401.35,585.08 L401.34,583.52 L401.31,582.02 L401.29,580.52 L401.28,578.96 L401.29,577.25 L401.35,575.35 L401.47,573.20 L401.65,570.84 L401.86,568.36 L402.05,565.80 L402.05,563.24 L402.05,560.75 L402.05,558.19 L402.05,555.49 L402.05,552.78 L402.05,550.23 L402.05,547.97 L402.05,546.15 L402.05,544.84 L402.05,543.92 L402.02,543.29 L401.95,542.87 L401.89,542.56 L401.85,542.26 Z" fill="#f02a96" stroke="none"/>
<line x1="395.30" y1="619.00" x2="409.10" y2="619.00" stroke="#b0105e" stroke-width="0.8"/>
<line x1="393.17" y1="626.50" x2="411.23" y2="626.50" stroke="#b0105e" stroke-width="1.2" stroke-dasharray="3,2"/>
<line x1="393.30" y1="631.00" x2="411.10" y2="631.00" stroke="#b0105e" stroke-width="0.8"/>
<path d="M402.55,542.26 L402.51,542.56 L402.45,542.87 L402.38,543.29 L402.35,543.92 L402.35,544.84 L402.35,546.15 L402.35,547.97 L402.35,550.23 L402.35,552.78 L402.35,555.49 L402.35,558.19 L402.35,560.75 L402.35,563.24 L402.35,565.80 L402.54,568.36 L402.75,570.84 L402.93,573.20 L403.05,575.35 L403.11,577.25 L403.12,578.96 L403.11,580.52 L403.09,582.02 L403.06,583.52 L403.05,585.08 L403.06,586.74 L403.07,588.44 L403.08,590.13 L403.09,591.79 L403.08,593.36 L403.05,594.82 L402.96,596.15 L402.81,597.41 L402.64,598.59 L402.51,599.68 L402.47,600.70 L402.55,601.63 L402.79,602.39 L403.16,602.96 L403.61,603.45 L404.11,603.97 L404.60,604.62 L405.05,605.52 L405.47,606.71 L405.88,608.12 L406.29,609.66 L406.71,611.25 L407.13,612.82 L407.55,614.28 L408.00,615.69 L408.47,617.13 L408.94,618.54 L409.40,619.87 L409.81,621.06 L410.15,622.07 L410.42,622.82 L410.64,623.36 L410.81,623.77 L410.95,624.12 L411.06,624.50 L411.15,624.99 L411.21,625.58 L411.23,626.21 L411.22,626.87 L411.20,627.55 L411.17,628.22 L411.15,628.88 L411.14,629.56 L411.12,630.28 L411.10,631.00 L411.07,631.68 L411.04,632.28 L411.00,632.77 L410.94,633.14 L410.87,633.41 L410.79,633.60 L410.71,633.74 L410.65,633.84 L410.60,633.94 L393.80,633.94 L393.75,633.84 L393.69,633.74 L393.61,633.60 L393.53,633.41 L393.46,633.14 L393.40,632.77 L393.36,632.28 L393.33,631.68 L393.30,631.00 L393.28,630.28 L393.26,629.56 L393.25,628.88 L393.23,628.22 L393.20,627.55 L393.18,626.87 L393.17,626.21 L393.19,625.58 L393.25,624.99 L393.34,624.50 L393.45,624.12 L393.59,623.77 L393.76,623.36 L393.98,622.82 L394.25,622.07 L394.59,621.06 L395.00,619.87 L395.46,618.54 L395.93,617.13 L396.40,615.69 L396.85,614.28 L397.27,612.82 L397.69,611.25 L398.11,609.66 L398.52,608.12 L398.93,606.71 L399.35,605.52 L399.80,604.62 L400.29,603.97 L400.79,603.45 L401.24,602.96 L401.61,602.39 L401.85,601.63 L401.93,600.70 L401.89,599.68 L401.76,598.59 L401.59,597.41 L401.44,596.15 L401.35,594.82 L401.32,593.36 L401.31,591.79 L401.32,590.13 L401.33,588.44 L401.34,586.74 L401.35,585.08 L401.34,583.52 L401.31,582.02 L401.29,580.52 L401.28,578.96 L401.29,577.25 L401.35,575.35 L401.47,573.20 L401.65,570.84 L401.86,568.36 L402.05,565.80 L402.05,563.24 L402.05,560.75 L402.05,558.19 L402.05,555.49 L402.05,552.78 L402.05,550.23 L402.05,547.97 L402.05,546.15 L402.05,544.84 L402.05,543.92 L402.02,543.29 L401.95,542.87 L401.89,542.56 L401.85,542.26 Z" fill="none" stroke="#000" stroke-width="2.80" stroke-linejoin="round"/>
<path d="M438.65,547.26 L438.66,548.22 L438.69,549.56 L438.71,551.15 L438.72,552.84 L438.71,554.50 L438.65,556.01 L438.54,557.39 L438.39,558.78 L438.21,560.14 L438.02,561.44 L437.83,562.67 L437.65,563.78 L437.46,564.68 L437.23,565.37 L437.00,565.97 L436.95,566.62 L436.95,567.47 L436.95,568.64 L436.95,570.19 L437.02,572.02 L437.34,574.05 L437.66,576.16 L437.92,578.28 L438.05,580.30 L438.00,582.31 L437.81,584.41 L437.56,586.50 L437.32,588.51 L437.16,590.36 L437.15,591.96 L437.32,593.26 L437.60,594.30 L437.97,595.18 L438.38,596.00 L438.78,596.84 L439.15,597.80 L439.49,598.84 L439.83,599.88 L440.17,600.95 L440.50,602.08 L440.83,603.28 L441.15,604.60 L441.45,606.05 L441.72,607.62 L441.99,609.28 L442.27,610.97 L442.57,612.66 L442.90,614.32 L443.30,615.99 L443.77,617.74 L444.26,619.48 L444.72,621.16 L445.12,622.70 L445.40,624.04 L445.55,625.14 L445.60,626.05 L445.58,626.83 L445.52,627.53 L445.45,628.20 L445.40,628.89 L445.36,629.63 L445.30,630.35 L445.23,631.05 L445.15,631.70 L445.07,632.29 L445.00,632.78 L444.93,633.18 L444.85,633.50 L444.78,633.75 L444.70,633.95 L444.64,634.11 L444.60,634.24 L429.00,634.24 L428.96,634.11 L428.90,633.95 L428.82,633.75 L428.75,633.50 L428.67,633.18 L428.60,632.78 L428.53,632.29 L428.45,631.70 L428.38,631.05 L428.30,630.35 L428.24,629.63 L428.20,628.89 L428.15,628.20 L428.08,627.53 L428.02,626.83 L428.00,626.05 L428.05,625.14 L428.20,624.04 L428.48,622.70 L428.88,621.16 L429.34,619.48 L429.83,617.74 L430.30,615.99 L430.70,614.32 L431.03,612.66 L431.33,610.97 L431.61,609.28 L431.88,607.62 L432.15,606.05 L432.45,604.60 L432.77,603.28 L433.10,602.08 L433.43,600.95 L433.77,599.88 L434.11,598.84 L434.45,597.80 L434.82,596.84 L435.22,596.00 L435.63,595.18 L436.00,594.30 L436.28,593.26 L436.45,591.96 L436.44,590.36 L436.28,588.51 L436.04,586.50 L435.79,584.41 L435.60,582.31 L435.55,580.30 L435.68,578.28 L435.94,576.16 L436.26,574.05 L436.58,572.02 L436.65,570.19 L436.65,568.64 L436.65,567.47 L436.65,566.62 L436.60,565.97 L436.37,565.37 L436.14,564.68 L435.95,563.78 L435.77,562.67 L435.58,561.44 L435.39,560.14 L435.21,558.78 L435.06,557.39 L434.95,556.01 L434.89,554.50 L434.88,552.84 L434.89,551.15 L434.91,549.56 L434.94,548.22 L434.95,547.26 Z" fill="#14f2ee" stroke="none"/>
<line x1="429.48" y1="619.00" x2="444.12" y2="619.00" stroke="#0fa8a8" stroke-width="1.2" stroke-dasharray="3,2"/>
<line x1="428.32" y1="630.50" x2="445.28" y2="630.50" stroke="#0fa8a8" stroke-width="0.8"/>
<path d="M438.65,547.26 L438.66,548.22 L438.69,549.56 L438.71,551.15 L438.72,552.84 L438.71,554.50 L438.65,556.01 L438.54,557.39 L438.39,558.78 L438.21,560.14 L438.02,561.44 L437.83,562.67 L437.65,563.78 L437.46,564.68 L437.23,565.37 L437.00,565.97 L436.95,566.62 L436.95,567.47 L436.95,568.64 L436.95,570.19 L437.02,572.02 L437.34,574.05 L437.66,576.16 L437.92,578.28 L438.05,580.30 L438.00,582.31 L437.81,584.41 L437.56,586.50 L437.32,588.51 L437.16,590.36 L437.15,591.96 L437.32,593.26 L437.60,594.30 L437.97,595.18 L438.38,596.00 L438.78,596.84 L439.15,597.80 L439.49,598.84 L439.83,599.88 L440.17,600.95 L440.50,602.08 L440.83,603.28 L441.15,604.60 L441.45,606.05 L441.72,607.62 L441.99,609.28 L442.27,610.97 L442.57,612.66 L442.90,614.32 L443.30,615.99 L443.77,617.74 L444.26,619.48 L444.72,621.16 L445.12,622.70 L445.40,624.04 L445.55,625.14 L445.60,626.05 L445.58,626.83 L445.52,627.53 L445.45,628.20 L445.40,628.89 L445.36,629.63 L445.30,630.35 L445.23,631.05 L445.15,631.70 L445.07,632.29 L445.00,632.78 L444.93,633.18 L444.85,633.50 L444.78,633.75 L444.70,633.95 L444.64,634.11 L444.60,634.24 L429.00,634.24 L428.96,634.11 L428.90,633.95 L428.82,633.75 L428.75,633.50 L428.67,633.18 L428.60,632.78 L428.53,632.29 L428.45,631.70 L428.38,631.05 L428.30,630.35 L428.24,629.63 L428.20,628.89 L428.15,628.20 L428.08,627.53 L428.02,626.83 L428.00,626.05 L428.05,625.14 L428.20,624.04 L428.48,622.70 L428.88,621.16 L429.34,619.48 L429.83,617.74 L430.30,615.99 L430.70,614.32 L431.03,612.66 L431.33,610.97 L431.61,609.28 L431.88,607.62 L432.15,606.05 L432.45,604.60 L432.77,603.28 L433.10,602.08 L433.43,600.95 L433.77,599.88 L434.11,598.84 L434.45,597.80 L434.82,596.84 L435.22,596.00 L435.63,595.18 L436.00,594.30 L436.28,593.26 L436.45,591.96 L436.44,590.36 L436.28,588.51 L436.04,586.50 L435.79,584.41 L435.60,582.31 L435.55,580.30 L435.68,578.28 L435.94,576.16 L436.26,574.05 L436.58,572.02 L436.65,570.19 L436.65,568.64 L436.65,567.47 L436.65,566.62 L436.60,565.97 L436.37,565.37 L436.14,564.68 L435.95,563.78 L435.77,562.67 L435.58,561.44 L435.39,560.14 L435.21,558.78 L435.06,557.39 L434.95,556.01 L434.89,554.50 L434.88,552.84 L434.89,551.15 L434.91,549.56 L434.94,548.22 L434.95,547.26 Z" fill="none" stroke="#000" stroke-width="2.80" stroke-linejoin="round"/>
<path d="M472.50,507.36 L472.45,507.77 L472.39,508.33 L472.31,508.99 L472.23,509.72 L472.16,510.46 L472.10,511.18 L472.05,511.80 L472.01,512.33 L471.98,512.88 L471.94,513.55 L471.92,514.45 L471.90,515.69 L471.88,517.45 L471.86,519.68 L471.85,522.14 L471.85,524.59 L471.86,526.80 L471.90,528.54 L471.96,529.74 L472.04,530.57 L472.13,531.16 L472.24,531.63 L472.36,532.12 L472.50,532.76 L472.68,533.52 L472.90,534.31 L473.14,535.11 L473.36,535.92 L473.53,536.71 L473.60,537.46 L473.56,538.17 L473.44,538.85 L473.27,539.51 L473.07,540.18 L472.87,540.86 L472.70,541.58 L472.54,542.28 L472.37,542.93 L472.21,543.60 L472.06,544.35 L471.95,545.26 L471.90,546.38 L471.93,547.71 L472.04,549.17 L472.19,550.79 L472.34,552.57 L472.45,554.53 L472.50,556.68 L472.46,559.13 L472.34,561.91 L472.20,564.86 L472.06,567.85 L471.94,570.72 L471.90,573.35 L471.94,575.74 L472.03,578.03 L472.16,580.20 L472.30,582.27 L472.42,584.23 L472.50,586.09 L472.50,587.86 L472.45,589.52 L472.38,591.08 L472.33,592.54 L472.36,593.88 L472.50,595.12 L472.77,596.18 L473.13,597.06 L473.56,597.83 L474.04,598.57 L474.56,599.34 L475.10,600.21 L475.70,601.19 L476.40,602.19 L477.13,603.24 L477.84,604.31 L478.49,605.43 L479.00,606.59 L479.38,607.80 L479.66,609.07 L479.87,610.38 L480.03,611.71 L480.17,613.03 L480.30,614.33 L480.43,615.63 L480.53,616.94 L480.61,618.24 L480.66,619.53 L480.69,620.78 L480.70,621.98 L480.68,623.15 L480.63,624.29 L480.55,625.41 L480.46,626.47 L480.38,627.46 L480.30,628.35 L480.23,629.16 L480.17,629.89 L480.11,630.54 L480.04,631.14 L479.97,631.68 L479.90,632.18 L479.82,632.64 L479.72,633.04 L479.62,633.40 L479.53,633.70 L479.46,633.95 L479.40,634.14 L463.20,634.14 L463.14,633.95 L463.07,633.70 L462.98,633.40 L462.88,633.04 L462.78,632.64 L462.70,632.18 L462.63,631.68 L462.56,631.14 L462.49,630.54 L462.43,629.89 L462.37,629.16 L462.30,628.35 L462.22,627.46 L462.14,626.47 L462.05,625.41 L461.97,624.29 L461.92,623.15 L461.90,621.98 L461.91,620.78 L461.94,619.53 L461.99,618.24 L462.07,616.94 L462.17,615.63 L462.30,614.33 L462.43,613.03 L462.57,611.71 L462.73,610.38 L462.94,609.07 L463.22,607.80 L463.60,606.59 L464.11,605.43 L464.76,604.31 L465.47,603.24 L466.20,602.19 L466.90,601.19 L467.50,600.21 L468.04,599.34 L468.56,598.57 L469.04,597.83 L469.47,597.06 L469.83,596.18 L470.10,595.12 L470.24,593.88 L470.27,592.54 L470.23,591.08 L470.15,589.52 L470.10,587.86 L470.10,586.09 L470.18,584.23 L470.30,582.27 L470.44,580.20 L470.57,578.03 L470.66,575.74 L470.70,573.35 L470.66,570.72 L470.54,567.85 L470.40,564.86 L470.26,561.91 L470.14,559.13 L470.10,556.68 L470.15,554.53 L470.26,552.57 L470.41,550.79 L470.56,549.17 L470.67,547.71 L470.70,546.38 L470.65,545.26 L470.54,544.35 L470.39,543.60 L470.23,542.93 L470.06,542.28 L469.90,541.58 L469.73,540.86 L469.53,540.18 L469.33,539.51 L469.16,538.85 L469.04,538.17 L469.00,537.46 L469.07,536.71 L469.24,535.92 L469.46,535.11 L469.70,534.31 L469.92,533.52 L470.10,532.76 L470.24,532.12 L470.36,531.63 L470.47,531.16 L470.56,530.57 L470.64,529.74 L470.70,528.54 L470.74,526.80 L470.75,524.59 L470.75,522.14 L470.74,519.68 L470.72,517.45 L470.70,515.69 L470.68,514.45 L470.66,513.55 L470.62,512.88 L470.59,512.33 L470.55,511.80 L470.50,511.18 L470.44,510.46 L470.37,509.72 L470.29,508.99 L470.21,508.33 L470.15,507.77 L470.10,507.36 Z" fill="#0c32f0" stroke="none"/>
<line x1="462.10" y1="616.50" x2="480.50" y2="616.50" stroke="#0820b0" stroke-width="1.2" stroke-dasharray="3,2"/>
<line x1="461.99" y1="624.50" x2="480.61" y2="624.50" stroke="#0820b0" stroke-width="0.8"/>
<line x1="462.35" y1="629.00" x2="480.25" y2="629.00" stroke="#0820b0" stroke-width="0.8"/>
<path d="M472.50,507.36 L472.45,507.77 L472.39,508.33 L472.31,508.99 L472.23,509.72 L472.16,510.46 L472.10,511.18 L472.05,511.80 L472.01,512.33 L471.98,512.88 L471.94,513.55 L471.92,514.45 L471.90,515.69 L471.88,517.45 L471.86,519.68 L471.85,522.14 L471.85,524.59 L471.86,526.80 L471.90,528.54 L471.96,529.74 L472.04,530.57 L472.13,531.16 L472.24,531.63 L472.36,532.12 L472.50,532.76 L472.68,533.52 L472.90,534.31 L473.14,535.11 L473.36,535.92 L473.53,536.71 L473.60,537.46 L473.56,538.17 L473.44,538.85 L473.27,539.51 L473.07,540.18 L472.87,540.86 L472.70,541.58 L472.54,542.28 L472.37,542.93 L472.21,543.60 L472.06,544.35 L471.95,545.26 L471.90,546.38 L471.93,547.71 L472.04,549.17 L472.19,550.79 L472.34,552.57 L472.45,554.53 L472.50,556.68 L472.46,559.13 L472.34,561.91 L472.20,564.86 L472.06,567.85 L471.94,570.72 L471.90,573.35 L471.94,575.74 L472.03,578.03 L472.16,580.20 L472.30,582.27 L472.42,584.23 L472.50,586.09 L472.50,587.86 L472.45,589.52 L472.38,591.08 L472.33,592.54 L472.36,593.88 L472.50,595.12 L472.77,596.18 L473.13,597.06 L473.56,597.83 L474.04,598.57 L474.56,599.34 L475.10,600.21 L475.70,601.19 L476.40,602.19 L477.13,603.24 L477.84,604.31 L478.49,605.43 L479.00,606.59 L479.38,607.80 L479.66,609.07 L479.87,610.38 L480.03,611.71 L480.17,613.03 L480.30,614.33 L480.43,615.63 L480.53,616.94 L480.61,618.24 L480.66,619.53 L480.69,620.78 L480.70,621.98 L480.68,623.15 L480.63,624.29 L480.55,625.41 L480.46,626.47 L480.38,627.46 L480.30,628.35 L480.23,629.16 L480.17,629.89 L480.11,630.54 L480.04,631.14 L479.97,631.68 L479.90,632.18 L479.82,632.64 L479.72,633.04 L479.62,633.40 L479.53,633.70 L479.46,633.95 L479.40,634.14 L463.20,634.14 L463.14,633.95 L463.07,633.70 L462.98,633.40 L462.88,633.04 L462.78,632.64 L462.70,632.18 L462.63,631.68 L462.56,631.14 L462.49,630.54 L462.43,629.89 L462.37,629.16 L462.30,628.35 L462.22,627.46 L462.14,626.47 L462.05,625.41 L461.97,624.29 L461.92,623.15 L461.90,621.98 L461.91,620.78 L461.94,619.53 L461.99,618.24 L462.07,616.94 L462.17,615.63 L462.30,614.33 L462.43,613.03 L462.57,611.71 L462.73,610.38 L462.94,609.07 L463.22,607.80 L463.60,606.59 L464.11,605.43 L464.76,604.31 L465.47,603.24 L466.20,602.19 L466.90,601.19 L467.50,600.21 L468.04,599.34 L468.56,598.57 L469.04,597.83 L469.47,597.06 L469.83,596.18 L470.10,595.12 L470.24,593.88 L470.27,592.54 L470.23,591.08 L470.15,589.52 L470.10,587.86 L470.10,586.09 L470.18,584.23 L470.30,582.27 L470.44,580.20 L470.57,578.03 L470.66,575.74 L470.70,573.35 L470.66,570.72 L470.54,567.85 L470.40,564.86 L470.26,561.91 L470.14,559.13 L470.10,556.68 L470.15,554.53 L470.26,552.57 L470.41,550.79 L470.56,549.17 L470.67,547.71 L470.70,546.38 L470.65,545.26 L470.54,544.35 L470.39,543.60 L470.23,542.93 L470.06,542.28 L469.90,541.58 L469.73,540.86 L469.53,540.18 L469.33,539.51 L469.16,538.85 L469.04,538.17 L469.00,537.46 L469.07,536.71 L469.24,535.92 L469.46,535.11 L469.70,534.31 L469.92,533.52 L470.10,532.76 L470.24,532.12 L470.36,531.63 L470.47,531.16 L470.56,530.57 L470.64,529.74 L470.70,528.54 L470.74,526.80 L470.75,524.59 L470.75,522.14 L470.74,519.68 L470.72,517.45 L470.70,515.69 L470.68,514.45 L470.66,513.55 L470.62,512.88 L470.59,512.33 L470.55,511.80 L470.50,511.18 L470.44,510.46 L470.37,509.72 L470.29,508.99 L470.21,508.33 L470.15,507.77 L470.10,507.36 Z" fill="none" stroke="#000" stroke-width="2.80" stroke-linejoin="round"/>
<path d="M511.10,564.16 L511.13,564.47 L511.17,564.90 L511.21,565.41 L511.26,565.98 L511.29,566.56 L511.30,567.15 L511.30,567.72 L511.31,568.30 L511.30,568.90 L511.27,569.54 L511.21,570.24 L511.10,571.00 L510.93,571.86 L510.70,572.82 L510.44,573.83 L510.17,574.86 L509.92,575.85 L509.70,576.78 L509.51,577.64 L509.34,578.45 L509.18,579.23 L509.04,580.00 L508.91,580.79 L508.80,581.60 L508.70,582.44 L508.62,583.30 L508.56,584.17 L508.51,585.04 L508.49,585.92 L508.50,586.80 L508.53,587.67 L508.59,588.52 L508.66,589.38 L508.77,590.26 L508.91,591.19 L509.10,592.20 L509.33,593.27 L509.59,594.37 L509.88,595.52 L510.21,596.74 L510.59,598.04 L511.00,599.43 L511.49,600.95 L512.07,602.60 L512.69,604.34 L513.30,606.09 L513.85,607.81 L514.30,609.45 L514.66,611.02 L514.96,612.59 L515.20,614.12 L515.39,615.59 L515.52,617.00 L515.60,618.31 L515.61,619.52 L515.54,620.64 L515.41,621.69 L515.25,622.68 L515.07,623.64 L514.90,624.58 L514.70,625.53 L514.47,626.48 L514.21,627.40 L513.97,628.24 L513.75,628.98 L513.60,629.59 L513.51,630.03 L513.47,630.33 L513.47,630.53 L513.48,630.65 L513.50,630.75 L513.50,630.84 L498.30,630.84 L498.30,630.75 L498.32,630.65 L498.33,630.53 L498.33,630.33 L498.29,630.03 L498.20,629.59 L498.05,628.98 L497.83,628.24 L497.59,627.40 L497.33,626.48 L497.10,625.53 L496.90,624.58 L496.73,623.64 L496.55,622.68 L496.39,621.69 L496.26,620.64 L496.19,619.52 L496.20,618.31 L496.28,617.00 L496.41,615.59 L496.60,614.12 L496.84,612.59 L497.14,611.02 L497.50,609.45 L497.95,607.81 L498.50,606.09 L499.11,604.34 L499.73,602.60 L500.31,600.95 L500.80,599.43 L501.21,598.04 L501.59,596.74 L501.92,595.52 L502.21,594.37 L502.47,593.27 L502.70,592.20 L502.89,591.19 L503.03,590.26 L503.14,589.38 L503.21,588.52 L503.27,587.67 L503.30,586.80 L503.31,585.92 L503.29,585.04 L503.24,584.17 L503.18,583.30 L503.10,582.44 L503.00,581.60 L502.89,580.79 L502.76,580.00 L502.62,579.23 L502.46,578.45 L502.29,577.64 L502.10,576.78 L501.88,575.85 L501.63,574.86 L501.36,573.83 L501.10,572.82 L500.87,571.86 L500.70,571.00 L500.59,570.24 L500.53,569.54 L500.50,568.90 L500.49,568.30 L500.50,567.72 L500.50,567.15 L500.51,566.56 L500.54,565.98 L500.59,565.41 L500.63,564.90 L500.67,564.47 L500.70,564.16 Z" fill="#0c1c98" stroke="none"/>
<line x1="496.49" y1="615.00" x2="515.31" y2="615.00" stroke="#081268" stroke-width="1.2" stroke-dasharray="3,2"/>
<line x1="496.79" y1="624.00" x2="515.01" y2="624.00" stroke="#081268" stroke-width="0.8"/>
<path d="M511.10,564.16 L511.13,564.47 L511.17,564.90 L511.21,565.41 L511.26,565.98 L511.29,566.56 L511.30,567.15 L511.30,567.72 L511.31,568.30 L511.30,568.90 L511.27,569.54 L511.21,570.24 L511.10,571.00 L510.93,571.86 L510.70,572.82 L510.44,573.83 L510.17,574.86 L509.92,575.85 L509.70,576.78 L509.51,577.64 L509.34,578.45 L509.18,579.23 L509.04,580.00 L508.91,580.79 L508.80,581.60 L508.70,582.44 L508.62,583.30 L508.56,584.17 L508.51,585.04 L508.49,585.92 L508.50,586.80 L508.53,587.67 L508.59,588.52 L508.66,589.38 L508.77,590.26 L508.91,591.19 L509.10,592.20 L509.33,593.27 L509.59,594.37 L509.88,595.52 L510.21,596.74 L510.59,598.04 L511.00,599.43 L511.49,600.95 L512.07,602.60 L512.69,604.34 L513.30,606.09 L513.85,607.81 L514.30,609.45 L514.66,611.02 L514.96,612.59 L515.20,614.12 L515.39,615.59 L515.52,617.00 L515.60,618.31 L515.61,619.52 L515.54,620.64 L515.41,621.69 L515.25,622.68 L515.07,623.64 L514.90,624.58 L514.70,625.53 L514.47,626.48 L514.21,627.40 L513.97,628.24 L513.75,628.98 L513.60,629.59 L513.51,630.03 L513.47,630.33 L513.47,630.53 L513.48,630.65 L513.50,630.75 L513.50,630.84 L498.30,630.84 L498.30,630.75 L498.32,630.65 L498.33,630.53 L498.33,630.33 L498.29,630.03 L498.20,629.59 L498.05,628.98 L497.83,628.24 L497.59,627.40 L497.33,626.48 L497.10,625.53 L496.90,624.58 L496.73,623.64 L496.55,622.68 L496.39,621.69 L496.26,620.64 L496.19,619.52 L496.20,618.31 L496.28,617.00 L496.41,615.59 L496.60,614.12 L496.84,612.59 L497.14,611.02 L497.50,609.45 L497.95,607.81 L498.50,606.09 L499.11,604.34 L499.73,602.60 L500.31,600.95 L500.80,599.43 L501.21,598.04 L501.59,596.74 L501.92,595.52 L502.21,594.37 L502.47,593.27 L502.70,592.20 L502.89,591.19 L503.03,590.26 L503.14,589.38 L503.21,588.52 L503.27,587.67 L503.30,586.80 L503.31,585.92 L503.29,585.04 L503.24,584.17 L503.18,583.30 L503.10,582.44 L503.00,581.60 L502.89,580.79 L502.76,580.00 L502.62,579.23 L502.46,578.45 L502.29,577.64 L502.10,576.78 L501.88,575.85 L501.63,574.86 L501.36,573.83 L501.10,572.82 L500.87,571.86 L500.70,571.00 L500.59,570.24 L500.53,569.54 L500.50,568.90 L500.49,568.30 L500.50,567.72 L500.50,567.15 L500.51,566.56 L500.54,565.98 L500.59,565.41 L500.63,564.90 L500.67,564.47 L500.70,564.16 Z" fill="none" stroke="#000" stroke-width="2.80" stroke-linejoin="round"/>
<text x="335.50" y="559.50" font-family='"Liberation Sans", "Noto Sans CJK JP", sans-serif' font-size="14.00" font-weight="500" text-anchor="middle" fill="#000" transform="rotate(-90 335.50 559.50)">血清IgG抗体価</text>
<text x="417.80" y="451.60" font-family='"Liberation Sans", Arial, Helvetica, sans-serif' font-size="17.80" font-weight="normal" text-anchor="start" fill="#000" >P = 0.1535</text>
<path d="M636.20,451.20 V676.40 H784.90" fill="none" stroke="#000" stroke-width="2.1" stroke-linecap="butt"/>
<line x1="628.70" y1="676.40" x2="636.20" y2="676.40" stroke="#000" stroke-width="2.1"/>
<text x="625.20" y="682.00" font-family='"Liberation Sans", Arial, Helvetica, sans-serif' font-size="14.50" font-weight="bold" text-anchor="end" fill="#000" stroke="#000" stroke-width="0.25">-5</text>
<line x1="628.70" y1="639.03" x2="636.20" y2="639.03" stroke="#000" stroke-width="2.1"/>
<text x="625.20" y="644.63" font-family='"Liberation Sans", Arial, Helvetica, sans-serif' font-size="14.50" font-weight="bold" text-anchor="end" fill="#000" stroke="#000" stroke-width="0.25">0</text>
<line x1="628.70" y1="601.67" x2="636.20" y2="601.67" stroke="#000" stroke-width="2.1"/>
<text x="625.20" y="607.27" font-family='"Liberation Sans", Arial, Helvetica, sans-serif' font-size="14.50" font-weight="bold" text-anchor="end" fill="#000" stroke="#000" stroke-width="0.25">5</text>
<line x1="628.70" y1="564.30" x2="636.20" y2="564.30" stroke="#000" stroke-width="2.1"/>
<text x="625.20" y="569.90" font-family='"Liberation Sans", Arial, Helvetica, sans-serif' font-size="14.50" font-weight="bold" text-anchor="end" fill="#000" stroke="#000" stroke-width="0.25">10</text>
<line x1="628.70" y1="526.93" x2="636.20" y2="526.93" stroke="#000" stroke-width="2.1"/>
<text x="625.20" y="532.53" font-family='"Liberation Sans", Arial, Helvetica, sans-serif' font-size="14.50" font-weight="bold" text-anchor="end" fill="#000" stroke="#000" stroke-width="0.25">15</text>
<line x1="628.70" y1="489.57" x2="636.20" y2="489.57" stroke="#000" stroke-width="2.1"/>
<text x="625.20" y="495.17" font-family='"Liberation Sans", Arial, Helvetica, sans-serif' font-size="14.50" font-weight="bold" text-anchor="end" fill="#000" stroke="#000" stroke-width="0.25">20</text>
<line x1="628.70" y1="452.20" x2="636.20" y2="452.20" stroke="#000" stroke-width="2.1"/>
<text x="625.20" y="457.80" font-family='"Liberation Sans", Arial, Helvetica, sans-serif' font-size="14.50" font-weight="bold" text-anchor="end" fill="#000" stroke="#000" stroke-width="0.25">25</text>
<line x1="658.80" y1="676.40" x2="658.80" y2="683.90" stroke="#000" stroke-width="2.1"/>
<line x1="693.30" y1="676.40" x2="693.30" y2="683.90" stroke="#000" stroke-width="2.1"/>
<line x1="727.80" y1="676.40" x2="727.80" y2="683.90" stroke="#000" stroke-width="2.1"/>
<line x1="762.00" y1="676.40" x2="762.00" y2="683.90" stroke="#000" stroke-width="2.1"/>
<line x1="635.70" y1="631.56" x2="784.90" y2="631.56" stroke="#cf553c" stroke-width="1.9" stroke-dasharray="6,3.34"/>
<line x1="628.70" y1="631.56" x2="636.20" y2="631.56" stroke="#000" stroke-width="2.1"/>
<path d="M659.70,617.56 L659.65,617.98 L659.58,618.56 L659.49,619.25 L659.41,619.98 L659.34,620.69 L659.30,621.31 L659.29,621.82 L659.32,622.27 L659.36,622.69 L659.39,623.13 L659.41,623.63 L659.40,624.24 L659.33,625.00 L659.20,625.87 L659.05,626.80 L659.05,627.75 L659.05,628.65 L659.05,629.46 L659.05,630.17 L659.22,630.82 L659.47,631.43 L659.78,632.02 L660.16,632.61 L660.60,633.21 L661.14,633.84 L661.78,634.47 L662.49,635.09 L663.22,635.72 L663.94,636.34 L664.60,636.97 L665.27,637.61 L665.99,638.28 L666.69,638.94 L667.31,639.58 L667.81,640.19 L668.10,640.72 L668.17,641.18 L668.06,641.58 L667.82,641.93 L667.48,642.26 L667.09,642.59 L666.70,642.92 L666.23,643.28 L665.65,643.65 L665.01,644.02 L664.40,644.35 L663.87,644.63 L663.50,644.84 L654.30,644.84 L653.93,644.63 L653.40,644.35 L652.79,644.02 L652.15,643.65 L651.57,643.28 L651.10,642.92 L650.71,642.59 L650.32,642.26 L649.98,641.93 L649.74,641.58 L649.63,641.18 L649.70,640.72 L649.99,640.19 L650.49,639.58 L651.11,638.94 L651.81,638.28 L652.53,637.61 L653.20,636.97 L653.86,636.34 L654.58,635.72 L655.31,635.09 L656.02,634.47 L656.66,633.84 L657.20,633.21 L657.64,632.61 L658.02,632.02 L658.33,631.43 L658.58,630.82 L658.75,630.17 L658.75,629.46 L658.75,628.65 L658.75,627.75 L658.75,626.80 L658.60,625.87 L658.47,625.00 L658.40,624.24 L658.39,623.63 L658.41,623.13 L658.44,622.69 L658.48,622.27 L658.51,621.82 L658.50,621.31 L658.46,620.69 L658.39,619.98 L658.31,619.25 L658.22,618.56 L658.15,617.98 L658.10,617.56 Z" fill="#cf2286" stroke="none"/>
<line x1="650.15" y1="640.00" x2="667.65" y2="640.00" stroke="#8a0a48" stroke-width="1.2" stroke-dasharray="3,2"/>
<path d="M659.70,617.56 L659.65,617.98 L659.58,618.56 L659.49,619.25 L659.41,619.98 L659.34,620.69 L659.30,621.31 L659.29,621.82 L659.32,622.27 L659.36,622.69 L659.39,623.13 L659.41,623.63 L659.40,624.24 L659.33,625.00 L659.20,625.87 L659.05,626.80 L659.05,627.75 L659.05,628.65 L659.05,629.46 L659.05,630.17 L659.22,630.82 L659.47,631.43 L659.78,632.02 L660.16,632.61 L660.60,633.21 L661.14,633.84 L661.78,634.47 L662.49,635.09 L663.22,635.72 L663.94,636.34 L664.60,636.97 L665.27,637.61 L665.99,638.28 L666.69,638.94 L667.31,639.58 L667.81,640.19 L668.10,640.72 L668.17,641.18 L668.06,641.58 L667.82,641.93 L667.48,642.26 L667.09,642.59 L666.70,642.92 L666.23,643.28 L665.65,643.65 L665.01,644.02 L664.40,644.35 L663.87,644.63 L663.50,644.84 L654.30,644.84 L653.93,644.63 L653.40,644.35 L652.79,644.02 L652.15,643.65 L651.57,643.28 L651.10,642.92 L650.71,642.59 L650.32,642.26 L649.98,641.93 L649.74,641.58 L649.63,641.18 L649.70,640.72 L649.99,640.19 L650.49,639.58 L651.11,638.94 L651.81,638.28 L652.53,637.61 L653.20,636.97 L653.86,636.34 L654.58,635.72 L655.31,635.09 L656.02,634.47 L656.66,633.84 L657.20,633.21 L657.64,632.61 L658.02,632.02 L658.33,631.43 L658.58,630.82 L658.75,630.17 L658.75,629.46 L658.75,628.65 L658.75,627.75 L658.75,626.80 L658.60,625.87 L658.47,625.00 L658.40,624.24 L658.39,623.63 L658.41,623.13 L658.44,622.69 L658.48,622.27 L658.51,621.82 L658.50,621.31 L658.46,620.69 L658.39,619.98 L658.31,619.25 L658.22,618.56 L658.15,617.98 L658.10,617.56 Z" fill="none" stroke="#000" stroke-width="2.80" stroke-linejoin="round"/>
<path d="M694.00,568.56 L693.97,568.93 L693.91,569.43 L693.86,570.03 L693.80,570.70 L693.74,571.41 L693.70,572.14 L693.67,572.78 L693.65,573.34 L693.63,573.94 L693.62,574.71 L693.61,575.78 L693.60,577.27 L693.58,579.37 L693.56,582.03 L693.55,584.98 L693.55,587.97 L693.55,590.75 L693.60,593.05 L693.68,594.82 L693.80,596.28 L693.94,597.51 L694.09,598.63 L694.25,599.76 L694.40,600.98 L694.57,602.29 L694.78,603.60 L694.98,604.90 L695.17,606.20 L695.32,607.51 L695.40,608.82 L695.40,610.15 L695.34,611.49 L695.24,612.84 L695.11,614.17 L694.98,615.48 L694.85,616.76 L694.69,618.00 L694.46,619.23 L694.23,620.44 L694.05,621.61 L693.95,622.74 L694.00,623.82 L694.22,624.84 L694.59,625.80 L695.05,626.73 L695.55,627.61 L696.05,628.48 L696.50,629.34 L696.90,630.17 L697.27,630.98 L697.65,631.76 L698.04,632.53 L698.45,633.30 L698.90,634.08 L699.43,634.90 L700.03,635.75 L700.65,636.60 L701.25,637.41 L701.78,638.17 L702.20,638.82 L702.50,639.36 L702.72,639.81 L702.87,640.18 L702.96,640.53 L703.00,640.87 L703.00,641.24 L702.94,641.65 L702.82,642.08 L702.64,642.51 L702.44,642.91 L702.22,643.27 L702.00,643.57 L701.76,643.79 L701.48,643.97 L701.19,644.10 L700.91,644.20 L700.67,644.27 L700.50,644.34 L686.30,644.34 L686.13,644.27 L685.89,644.20 L685.61,644.10 L685.32,643.97 L685.04,643.79 L684.80,643.57 L684.58,643.27 L684.36,642.91 L684.16,642.51 L683.98,642.08 L683.86,641.65 L683.80,641.24 L683.80,640.87 L683.84,640.53 L683.93,640.18 L684.08,639.81 L684.30,639.36 L684.60,638.82 L685.02,638.17 L685.55,637.41 L686.15,636.60 L686.77,635.75 L687.37,634.90 L687.90,634.08 L688.35,633.30 L688.76,632.53 L689.15,631.76 L689.53,630.98 L689.90,630.17 L690.30,629.34 L690.75,628.48 L691.25,627.61 L691.75,626.73 L692.21,625.80 L692.58,624.84 L692.80,623.82 L692.85,622.74 L692.75,621.61 L692.57,620.44 L692.34,619.23 L692.11,618.00 L691.95,616.76 L691.82,615.48 L691.69,614.17 L691.56,612.84 L691.46,611.49 L691.40,610.15 L691.40,608.82 L691.48,607.51 L691.63,606.20 L691.82,604.90 L692.02,603.60 L692.23,602.29 L692.40,600.98 L692.55,599.76 L692.71,598.63 L692.86,597.51 L693.00,596.28 L693.12,594.82 L693.20,593.05 L693.25,590.75 L693.25,587.97 L693.25,584.98 L693.24,582.03 L693.22,579.37 L693.20,577.27 L693.19,575.78 L693.18,574.71 L693.17,573.94 L693.15,573.34 L693.13,572.78 L693.10,572.14 L693.06,571.41 L693.00,570.70 L692.94,570.03 L692.89,569.43 L692.83,568.93 L692.80,568.56 Z" fill="#14f2ee" stroke="none"/>
<line x1="684.50" y1="639.00" x2="702.30" y2="639.00" stroke="#0fa8a8" stroke-width="1.2" stroke-dasharray="3,2"/>
<line x1="684.42" y1="643.00" x2="702.38" y2="643.00" stroke="#0fa8a8" stroke-width="0.8"/>
<path d="M694.00,568.56 L693.97,568.93 L693.91,569.43 L693.86,570.03 L693.80,570.70 L693.74,571.41 L693.70,572.14 L693.67,572.78 L693.65,573.34 L693.63,573.94 L693.62,574.71 L693.61,575.78 L693.60,577.27 L693.58,579.37 L693.56,582.03 L693.55,584.98 L693.55,587.97 L693.55,590.75 L693.60,593.05 L693.68,594.82 L693.80,596.28 L693.94,597.51 L694.09,598.63 L694.25,599.76 L694.40,600.98 L694.57,602.29 L694.78,603.60 L694.98,604.90 L695.17,606.20 L695.32,607.51 L695.40,608.82 L695.40,610.15 L695.34,611.49 L695.24,612.84 L695.11,614.17 L694.98,615.48 L694.85,616.76 L694.69,618.00 L694.46,619.23 L694.23,620.44 L694.05,621.61 L693.95,622.74 L694.00,623.82 L694.22,624.84 L694.59,625.80 L695.05,626.73 L695.55,627.61 L696.05,628.48 L696.50,629.34 L696.90,630.17 L697.27,630.98 L697.65,631.76 L698.04,632.53 L698.45,633.30 L698.90,634.08 L699.43,634.90 L700.03,635.75 L700.65,636.60 L701.25,637.41 L701.78,638.17 L702.20,638.82 L702.50,639.36 L702.72,639.81 L702.87,640.18 L702.96,640.53 L703.00,640.87 L703.00,641.24 L702.94,641.65 L702.82,642.08 L702.64,642.51 L702.44,642.91 L702.22,643.27 L702.00,643.57 L701.76,643.79 L701.48,643.97 L701.19,644.10 L700.91,644.20 L700.67,644.27 L700.50,644.34 L686.30,644.34 L686.13,644.27 L685.89,644.20 L685.61,644.10 L685.32,643.97 L685.04,643.79 L684.80,643.57 L684.58,643.27 L684.36,642.91 L684.16,642.51 L683.98,642.08 L683.86,641.65 L683.80,641.24 L683.80,640.87 L683.84,640.53 L683.93,640.18 L684.08,639.81 L684.30,639.36 L684.60,638.82 L685.02,638.17 L685.55,637.41 L686.15,636.60 L686.77,635.75 L687.37,634.90 L687.90,634.08 L688.35,633.30 L688.76,632.53 L689.15,631.76 L689.53,630.98 L689.90,630.17 L690.30,629.34 L690.75,628.48 L691.25,627.61 L691.75,626.73 L692.21,625.80 L692.58,624.84 L692.80,623.82 L692.85,622.74 L692.75,621.61 L692.57,620.44 L692.34,619.23 L692.11,618.00 L691.95,616.76 L691.82,615.48 L691.69,614.17 L691.56,612.84 L691.46,611.49 L691.40,610.15 L691.40,608.82 L691.48,607.51 L691.63,606.20 L691.82,604.90 L692.02,603.60 L692.23,602.29 L692.40,600.98 L692.55,599.76 L692.71,598.63 L692.86,597.51 L693.00,596.28 L693.12,594.82 L693.20,593.05 L693.25,590.75 L693.25,587.97 L693.25,584.98 L693.24,582.03 L693.22,579.37 L693.20,577.27 L693.19,575.78 L693.18,574.71 L693.17,573.94 L693.15,573.34 L693.13,572.78 L693.10,572.14 L693.06,571.41 L693.00,570.70 L692.94,570.03 L692.89,569.43 L692.83,568.93 L692.80,568.56 Z" fill="none" stroke="#000" stroke-width="2.80" stroke-linejoin="round"/>
<path d="M729.00,576.16 L728.93,576.43 L728.84,576.80 L728.74,577.23 L728.62,577.71 L728.51,578.20 L728.40,578.67 L728.28,579.10 L728.14,579.51 L727.99,579.94 L727.95,580.40 L727.95,580.93 L727.95,581.56 L727.95,582.29 L728.03,583.11 L728.22,583.99 L728.44,584.93 L728.67,585.89 L728.90,586.86 L729.17,587.86 L729.51,588.91 L729.87,589.98 L730.17,591.07 L730.37,592.15 L730.40,593.23 L730.20,594.17 L729.80,594.98 L729.29,595.79 L728.77,596.74 L728.31,597.96 L728.00,599.59 L727.95,601.80 L727.95,604.53 L727.95,607.53 L727.95,610.56 L727.95,613.39 L728.00,615.79 L728.11,617.74 L728.25,619.45 L728.42,620.95 L728.64,622.30 L728.89,623.55 L729.20,624.76 L729.57,625.86 L729.99,626.82 L730.46,627.68 L730.96,628.49 L731.47,629.30 L732.00,630.16 L732.56,631.07 L733.17,631.99 L733.81,632.92 L734.43,633.83 L735.00,634.71 L735.50,635.55 L735.95,636.37 L736.37,637.17 L736.74,637.94 L737.06,638.68 L737.28,639.36 L737.40,639.99 L737.40,640.56 L737.29,641.07 L737.09,641.53 L736.83,641.95 L736.53,642.34 L736.20,642.69 L735.79,643.01 L735.28,643.29 L734.72,643.53 L734.19,643.74 L733.72,643.91 L733.40,644.04 L722.20,644.04 L721.88,643.91 L721.41,643.74 L720.88,643.53 L720.32,643.29 L719.81,643.01 L719.40,642.69 L719.07,642.34 L718.77,641.95 L718.51,641.53 L718.31,641.07 L718.20,640.56 L718.20,639.99 L718.32,639.36 L718.54,638.68 L718.86,637.94 L719.23,637.17 L719.65,636.37 L720.10,635.55 L720.60,634.71 L721.17,633.83 L721.79,632.92 L722.43,631.99 L723.04,631.07 L723.60,630.16 L724.13,629.30 L724.64,628.49 L725.14,627.68 L725.61,626.82 L726.03,625.86 L726.40,624.76 L726.71,623.55 L726.96,622.30 L727.17,620.95 L727.35,619.45 L727.49,617.74 L727.60,615.79 L727.65,613.39 L727.65,610.56 L727.65,607.53 L727.65,604.53 L727.65,601.80 L727.60,599.59 L727.29,597.96 L726.83,596.74 L726.31,595.79 L725.80,594.98 L725.40,594.17 L725.20,593.23 L725.23,592.15 L725.43,591.07 L725.73,589.98 L726.09,588.91 L726.43,587.86 L726.70,586.86 L726.93,585.89 L727.16,584.93 L727.38,583.99 L727.57,583.11 L727.65,582.29 L727.65,581.56 L727.65,580.93 L727.65,580.40 L727.61,579.94 L727.46,579.51 L727.32,579.10 L727.20,578.67 L727.09,578.20 L726.98,577.71 L726.86,577.23 L726.76,576.80 L726.67,576.43 L726.60,576.16 Z" fill="#0c32f0" stroke="none"/>
<line x1="718.44" y1="639.00" x2="737.16" y2="639.00" stroke="#0820b0" stroke-width="1.2" stroke-dasharray="3,2"/>
<path d="M729.00,576.16 L728.93,576.43 L728.84,576.80 L728.74,577.23 L728.62,577.71 L728.51,578.20 L728.40,578.67 L728.28,579.10 L728.14,579.51 L727.99,579.94 L727.95,580.40 L727.95,580.93 L727.95,581.56 L727.95,582.29 L728.03,583.11 L728.22,583.99 L728.44,584.93 L728.67,585.89 L728.90,586.86 L729.17,587.86 L729.51,588.91 L729.87,589.98 L730.17,591.07 L730.37,592.15 L730.40,593.23 L730.20,594.17 L729.80,594.98 L729.29,595.79 L728.77,596.74 L728.31,597.96 L728.00,599.59 L727.95,601.80 L727.95,604.53 L727.95,607.53 L727.95,610.56 L727.95,613.39 L728.00,615.79 L728.11,617.74 L728.25,619.45 L728.42,620.95 L728.64,622.30 L728.89,623.55 L729.20,624.76 L729.57,625.86 L729.99,626.82 L730.46,627.68 L730.96,628.49 L731.47,629.30 L732.00,630.16 L732.56,631.07 L733.17,631.99 L733.81,632.92 L734.43,633.83 L735.00,634.71 L735.50,635.55 L735.95,636.37 L736.37,637.17 L736.74,637.94 L737.06,638.68 L737.28,639.36 L737.40,639.99 L737.40,640.56 L737.29,641.07 L737.09,641.53 L736.83,641.95 L736.53,642.34 L736.20,642.69 L735.79,643.01 L735.28,643.29 L734.72,643.53 L734.19,643.74 L733.72,643.91 L733.40,644.04 L722.20,644.04 L721.88,643.91 L721.41,643.74 L720.88,643.53 L720.32,643.29 L719.81,643.01 L719.40,642.69 L719.07,642.34 L718.77,641.95 L718.51,641.53 L718.31,641.07 L718.20,640.56 L718.20,639.99 L718.32,639.36 L718.54,638.68 L718.86,637.94 L719.23,637.17 L719.65,636.37 L720.10,635.55 L720.60,634.71 L721.17,633.83 L721.79,632.92 L722.43,631.99 L723.04,631.07 L723.60,630.16 L724.13,629.30 L724.64,628.49 L725.14,627.68 L725.61,626.82 L726.03,625.86 L726.40,624.76 L726.71,623.55 L726.96,622.30 L727.17,620.95 L727.35,619.45 L727.49,617.74 L727.60,615.79 L727.65,613.39 L727.65,610.56 L727.65,607.53 L727.65,604.53 L727.65,601.80 L727.60,599.59 L727.29,597.96 L726.83,596.74 L726.31,595.79 L725.80,594.98 L725.40,594.17 L725.20,593.23 L725.23,592.15 L725.43,591.07 L725.73,589.98 L726.09,588.91 L726.43,587.86 L726.70,586.86 L726.93,585.89 L727.16,584.93 L727.38,583.99 L727.57,583.11 L727.65,582.29 L727.65,581.56 L727.65,580.93 L727.65,580.40 L727.61,579.94 L727.46,579.51 L727.32,579.10 L727.20,578.67 L727.09,578.20 L726.98,577.71 L726.86,577.23 L726.76,576.80 L726.67,576.43 L726.60,576.16 Z" fill="none" stroke="#000" stroke-width="2.80" stroke-linejoin="round"/>
<path d="M764.60,485.16 L764.54,485.80 L764.46,486.68 L764.36,487.73 L764.24,488.87 L764.12,490.04 L764.00,491.16 L763.86,492.27 L763.70,493.43 L763.54,494.61 L763.37,495.79 L763.22,496.95 L763.10,498.05 L763.00,498.10 L762.91,496.91 L762.84,495.69 L762.78,495.67 L762.75,498.05 L762.75,504.06 L762.75,515.48 L762.75,531.70 L762.75,550.33 L762.75,568.97 L762.75,585.25 L762.80,596.77 L762.94,602.95 L763.14,605.59 L763.36,605.85 L763.60,604.92 L763.82,603.96 L764.00,604.15 L764.14,605.24 L764.26,606.25 L764.37,607.24 L764.47,608.25 L764.58,609.33 L764.70,610.55 L764.82,611.95 L764.93,613.50 L765.04,615.12 L765.18,616.75 L765.36,618.30 L765.60,619.70 L765.91,620.94 L766.29,622.07 L766.70,623.13 L767.14,624.13 L767.58,625.11 L768.00,626.10 L768.42,627.06 L768.87,627.96 L769.31,628.85 L769.74,629.73 L770.15,630.64 L770.50,631.61 L770.81,632.68 L771.10,633.84 L771.36,635.04 L771.58,636.19 L771.76,637.23 L771.90,638.10 L771.99,638.78 L772.03,639.32 L772.03,639.75 L772.00,640.11 L771.96,640.44 L771.90,640.76 L771.82,641.08 L771.69,641.37 L771.55,641.62 L771.41,641.83 L771.28,642.00 L771.20,642.14 L754.00,642.14 L753.92,642.00 L753.79,641.83 L753.65,641.62 L753.51,641.37 L753.38,641.08 L753.30,640.76 L753.24,640.44 L753.20,640.11 L753.17,639.75 L753.17,639.32 L753.21,638.78 L753.30,638.10 L753.44,637.23 L753.62,636.19 L753.84,635.04 L754.10,633.84 L754.39,632.68 L754.70,631.61 L755.05,630.64 L755.46,629.73 L755.89,628.85 L756.33,627.96 L756.78,627.06 L757.20,626.10 L757.62,625.11 L758.06,624.13 L758.50,623.13 L758.91,622.07 L759.29,620.94 L759.60,619.70 L759.84,618.30 L760.02,616.75 L760.16,615.12 L760.27,613.50 L760.38,611.95 L760.50,610.55 L760.62,609.33 L760.73,608.25 L760.83,607.24 L760.94,606.25 L761.06,605.24 L761.20,604.15 L761.38,603.96 L761.60,604.92 L761.84,605.85 L762.06,605.59 L762.26,602.95 L762.40,596.77 L762.45,585.25 L762.45,568.97 L762.45,550.33 L762.45,531.70 L762.45,515.48 L762.45,504.06 L762.45,498.05 L762.42,495.67 L762.36,495.69 L762.29,496.91 L762.20,498.10 L762.10,498.05 L761.98,496.95 L761.83,495.79 L761.66,494.61 L761.50,493.43 L761.34,492.27 L761.20,491.16 L761.08,490.04 L760.96,488.87 L760.84,487.73 L760.74,486.68 L760.66,485.80 L760.60,485.16 Z" fill="#0c1c98" stroke="none"/>
<line x1="753.85" y1="635.00" x2="771.35" y2="635.00" stroke="#081268" stroke-width="0.8"/>
<line x1="753.19" y1="640.00" x2="772.01" y2="640.00" stroke="#081268" stroke-width="0.8"/>
<path d="M764.60,485.16 L764.54,485.80 L764.46,486.68 L764.36,487.73 L764.24,488.87 L764.12,490.04 L764.00,491.16 L763.86,492.27 L763.70,493.43 L763.54,494.61 L763.37,495.79 L763.22,496.95 L763.10,498.05 L763.00,498.10 L762.91,496.91 L762.84,495.69 L762.78,495.67 L762.75,498.05 L762.75,504.06 L762.75,515.48 L762.75,531.70 L762.75,550.33 L762.75,568.97 L762.75,585.25 L762.80,596.77 L762.94,602.95 L763.14,605.59 L763.36,605.85 L763.60,604.92 L763.82,603.96 L764.00,604.15 L764.14,605.24 L764.26,606.25 L764.37,607.24 L764.47,608.25 L764.58,609.33 L764.70,610.55 L764.82,611.95 L764.93,613.50 L765.04,615.12 L765.18,616.75 L765.36,618.30 L765.60,619.70 L765.91,620.94 L766.29,622.07 L766.70,623.13 L767.14,624.13 L767.58,625.11 L768.00,626.10 L768.42,627.06 L768.87,627.96 L769.31,628.85 L769.74,629.73 L770.15,630.64 L770.50,631.61 L770.81,632.68 L771.10,633.84 L771.36,635.04 L771.58,636.19 L771.76,637.23 L771.90,638.10 L771.99,638.78 L772.03,639.32 L772.03,639.75 L772.00,640.11 L771.96,640.44 L771.90,640.76 L771.82,641.08 L771.69,641.37 L771.55,641.62 L771.41,641.83 L771.28,642.00 L771.20,642.14 L754.00,642.14 L753.92,642.00 L753.79,641.83 L753.65,641.62 L753.51,641.37 L753.38,641.08 L753.30,640.76 L753.24,640.44 L753.20,640.11 L753.17,639.75 L753.17,639.32 L753.21,638.78 L753.30,638.10 L753.44,637.23 L753.62,636.19 L753.84,635.04 L754.10,633.84 L754.39,632.68 L754.70,631.61 L755.05,630.64 L755.46,629.73 L755.89,628.85 L756.33,627.96 L756.78,627.06 L757.20,626.10 L757.62,625.11 L758.06,624.13 L758.50,623.13 L758.91,622.07 L759.29,620.94 L759.60,619.70 L759.84,618.30 L760.02,616.75 L760.16,615.12 L760.27,613.50 L760.38,611.95 L760.50,610.55 L760.62,609.33 L760.73,608.25 L760.83,607.24 L760.94,606.25 L761.06,605.24 L761.20,604.15 L761.38,603.96 L761.60,604.92 L761.84,605.85 L762.06,605.59 L762.26,602.95 L762.40,596.77 L762.45,585.25 L762.45,568.97 L762.45,550.33 L762.45,531.70 L762.45,515.48 L762.45,504.06 L762.45,498.05 L762.42,495.67 L762.36,495.69 L762.29,496.91 L762.20,498.10 L762.10,498.05 L761.98,496.95 L761.83,495.79 L761.66,494.61 L761.50,493.43 L761.34,492.27 L761.20,491.16 L761.08,490.04 L760.96,488.87 L760.84,487.73 L760.74,486.68 L760.66,485.80 L760.60,485.16 Z" fill="none" stroke="#000" stroke-width="2.80" stroke-linejoin="round"/>
<text x="590.40" y="559.50" font-family='"Liberation Sans", "Noto Sans CJK JP", sans-serif' font-size="14.00" font-weight="500" text-anchor="middle" fill="#000" transform="rotate(-90 590.40 559.50)">血清IgG抗体価</text>
<text x="679.80" y="451.60" font-family='"Liberation Sans", Arial, Helvetica, sans-serif' font-size="17.80" font-weight="normal" text-anchor="start" fill="#000" >P = 0.0530</text>
<path d="M121.70,807.80 V1034.80 H271.30" fill="none" stroke="#000" stroke-width="2.1" stroke-linecap="butt"/>
<line x1="114.20" y1="1034.80" x2="121.70" y2="1034.80" stroke="#000" stroke-width="2.1"/>
<text x="110.70" y="1040.40" font-family='"Liberation Sans", Arial, Helvetica, sans-serif' font-size="14.50" font-weight="bold" text-anchor="end" fill="#000" stroke="#000" stroke-width="0.25">-5</text>
<line x1="114.20" y1="997.13" x2="121.70" y2="997.13" stroke="#000" stroke-width="2.1"/>
<text x="110.70" y="1002.73" font-family='"Liberation Sans", Arial, Helvetica, sans-serif' font-size="14.50" font-weight="bold" text-anchor="end" fill="#000" stroke="#000" stroke-width="0.25">0</text>
<line x1="114.20" y1="959.47" x2="121.70" y2="959.47" stroke="#000" stroke-width="2.1"/>
<text x="110.70" y="965.07" font-family='"Liberation Sans", Arial, Helvetica, sans-serif' font-size="14.50" font-weight="bold" text-anchor="end" fill="#000" stroke="#000" stroke-width="0.25">5</text>
<line x1="114.20" y1="921.80" x2="121.70" y2="921.80" stroke="#000" stroke-width="2.1"/>
<text x="110.70" y="927.40" font-family='"Liberation Sans", Arial, Helvetica, sans-serif' font-size="14.50" font-weight="bold" text-anchor="end" fill="#000" stroke="#000" stroke-width="0.25">10</text>
<line x1="114.20" y1="884.13" x2="121.70" y2="884.13" stroke="#000" stroke-width="2.1"/>
<text x="110.70" y="889.73" font-family='"Liberation Sans", Arial, Helvetica, sans-serif' font-size="14.50" font-weight="bold" text-anchor="end" fill="#000" stroke="#000" stroke-width="0.25">15</text>
<line x1="114.20" y1="846.47" x2="121.70" y2="846.47" stroke="#000" stroke-width="2.1"/>
<text x="110.70" y="852.07" font-family='"Liberation Sans", Arial, Helvetica, sans-serif' font-size="14.50" font-weight="bold" text-anchor="end" fill="#000" stroke="#000" stroke-width="0.25">20</text>
<line x1="114.20" y1="808.80" x2="121.70" y2="808.80" stroke="#000" stroke-width="2.1"/>
<text x="110.70" y="814.40" font-family='"Liberation Sans", Arial, Helvetica, sans-serif' font-size="14.50" font-weight="bold" text-anchor="end" fill="#000" stroke="#000" stroke-width="0.25">25</text>
<line x1="140.10" y1="1034.80" x2="140.10" y2="1042.30" stroke="#000" stroke-width="2.1"/>
<line x1="168.50" y1="1034.80" x2="168.50" y2="1042.30" stroke="#000" stroke-width="2.1"/>
<line x1="196.60" y1="1034.80" x2="196.60" y2="1042.30" stroke="#000" stroke-width="2.1"/>
<line x1="224.60" y1="1034.80" x2="224.60" y2="1042.30" stroke="#000" stroke-width="2.1"/>
<line x1="252.70" y1="1034.80" x2="252.70" y2="1042.30" stroke="#000" stroke-width="2.1"/>
<line x1="121.20" y1="989.60" x2="271.30" y2="989.60" stroke="#cf553c" stroke-width="1.9" stroke-dasharray="6,3.34"/>
<line x1="114.20" y1="989.60" x2="121.70" y2="989.60" stroke="#000" stroke-width="2.1"/>
<path d="M140.50,976.06 L140.49,976.81 L140.48,977.84 L140.46,979.07 L140.46,980.39 L140.47,981.71 L140.50,982.93 L140.56,984.11 L140.63,985.32 L140.73,986.53 L140.83,987.71 L140.96,988.81 L141.10,989.80 L141.25,990.67 L141.42,991.45 L141.60,992.16 L141.80,992.81 L142.04,993.42 L142.30,994.01 L142.61,994.57 L142.95,995.08 L143.33,995.55 L143.71,996.00 L144.11,996.43 L144.50,996.85 L144.91,997.28 L145.34,997.69 L145.79,998.09 L146.21,998.47 L146.59,998.82 L146.90,999.14 L147.15,999.42 L147.35,999.66 L147.51,999.87 L147.62,1000.07 L147.68,1000.28 L147.70,1000.52 L147.66,1000.78 L147.56,1001.06 L147.42,1001.34 L147.24,1001.63 L147.03,1001.90 L146.80,1002.17 L146.52,1002.43 L146.17,1002.70 L145.79,1002.96 L145.43,1003.19 L145.12,1003.39 L144.90,1003.54 L135.70,1003.54 L135.48,1003.39 L135.17,1003.19 L134.81,1002.96 L134.43,1002.70 L134.08,1002.43 L133.80,1002.17 L133.57,1001.90 L133.36,1001.63 L133.18,1001.34 L133.04,1001.06 L132.94,1000.78 L132.90,1000.52 L132.92,1000.28 L132.98,1000.07 L133.09,999.87 L133.25,999.66 L133.45,999.42 L133.70,999.14 L134.01,998.82 L134.39,998.47 L134.81,998.09 L135.26,997.69 L135.69,997.28 L136.10,996.85 L136.49,996.43 L136.89,996.00 L137.28,995.55 L137.65,995.08 L137.99,994.57 L138.30,994.01 L138.56,993.42 L138.80,992.81 L139.00,992.16 L139.18,991.45 L139.35,990.67 L139.50,989.80 L139.64,988.81 L139.77,987.71 L139.88,986.53 L139.97,985.32 L140.04,984.11 L140.10,982.93 L140.13,981.71 L140.14,980.39 L140.14,979.07 L140.12,977.84 L140.11,976.81 L140.10,976.06 Z" fill="#cf2286" stroke="none"/>
<path d="M140.50,976.06 L140.49,976.81 L140.48,977.84 L140.46,979.07 L140.46,980.39 L140.47,981.71 L140.50,982.93 L140.56,984.11 L140.63,985.32 L140.73,986.53 L140.83,987.71 L140.96,988.81 L141.10,989.80 L141.25,990.67 L141.42,991.45 L141.60,992.16 L141.80,992.81 L142.04,993.42 L142.30,994.01 L142.61,994.57 L142.95,995.08 L143.33,995.55 L143.71,996.00 L144.11,996.43 L144.50,996.85 L144.91,997.28 L145.34,997.69 L145.79,998.09 L146.21,998.47 L146.59,998.82 L146.90,999.14 L147.15,999.42 L147.35,999.66 L147.51,999.87 L147.62,1000.07 L147.68,1000.28 L147.70,1000.52 L147.66,1000.78 L147.56,1001.06 L147.42,1001.34 L147.24,1001.63 L147.03,1001.90 L146.80,1002.17 L146.52,1002.43 L146.17,1002.70 L145.79,1002.96 L145.43,1003.19 L145.12,1003.39 L144.90,1003.54 L135.70,1003.54 L135.48,1003.39 L135.17,1003.19 L134.81,1002.96 L134.43,1002.70 L134.08,1002.43 L133.80,1002.17 L133.57,1001.90 L133.36,1001.63 L133.18,1001.34 L133.04,1001.06 L132.94,1000.78 L132.90,1000.52 L132.92,1000.28 L132.98,1000.07 L133.09,999.87 L133.25,999.66 L133.45,999.42 L133.70,999.14 L134.01,998.82 L134.39,998.47 L134.81,998.09 L135.26,997.69 L135.69,997.28 L136.10,996.85 L136.49,996.43 L136.89,996.00 L137.28,995.55 L137.65,995.08 L137.99,994.57 L138.30,994.01 L138.56,993.42 L138.80,992.81 L139.00,992.16 L139.18,991.45 L139.35,990.67 L139.50,989.80 L139.64,988.81 L139.77,987.71 L139.88,986.53 L139.97,985.32 L140.04,984.11 L140.10,982.93 L140.13,981.71 L140.14,980.39 L140.14,979.07 L140.12,977.84 L140.11,976.81 L140.10,976.06 Z" fill="none" stroke="#000" stroke-width="2.80" stroke-linejoin="round"/>
<path d="M170.00,961.66 L169.93,961.92 L169.83,962.27 L169.72,962.68 L169.60,963.15 L169.49,963.63 L169.40,964.11 L169.32,964.57 L169.25,965.01 L169.19,965.48 L169.14,966.00 L169.11,966.60 L169.10,967.31 L169.14,968.17 L169.21,969.14 L169.31,970.19 L169.40,971.29 L169.47,972.42 L169.50,973.54 L169.47,974.66 L169.40,975.83 L169.30,977.02 L169.20,978.21 L169.13,979.38 L169.10,980.51 L169.11,981.59 L169.14,982.64 L169.19,983.67 L169.26,984.69 L169.37,985.71 L169.50,986.73 L169.66,987.78 L169.84,988.84 L170.05,989.91 L170.29,990.95 L170.57,991.94 L170.90,992.86 L171.30,993.70 L171.76,994.49 L172.27,995.24 L172.78,995.93 L173.27,996.58 L173.70,997.19 L174.10,997.75 L174.50,998.24 L174.88,998.69 L175.21,999.11 L175.46,999.52 L175.60,999.92 L175.62,1000.33 L175.53,1000.74 L175.36,1001.13 L175.15,1001.49 L174.92,1001.81 L174.70,1002.09 L174.47,1002.32 L174.19,1002.50 L173.89,1002.65 L173.61,1002.77 L173.37,1002.86 L173.20,1002.94 L164.00,1002.94 L163.83,1002.86 L163.59,1002.77 L163.31,1002.65 L163.01,1002.50 L162.73,1002.32 L162.50,1002.09 L162.28,1001.81 L162.05,1001.49 L161.84,1001.13 L161.67,1000.74 L161.58,1000.33 L161.60,999.92 L161.74,999.52 L161.99,999.11 L162.32,998.69 L162.70,998.24 L163.10,997.75 L163.50,997.19 L163.93,996.58 L164.42,995.93 L164.93,995.24 L165.44,994.49 L165.90,993.70 L166.30,992.86 L166.63,991.94 L166.91,990.95 L167.15,989.91 L167.36,988.84 L167.54,987.78 L167.70,986.73 L167.83,985.71 L167.94,984.69 L168.01,983.67 L168.06,982.64 L168.09,981.59 L168.10,980.51 L168.07,979.38 L168.00,978.21 L167.90,977.02 L167.80,975.83 L167.73,974.66 L167.70,973.54 L167.73,972.42 L167.80,971.29 L167.89,970.19 L167.99,969.14 L168.06,968.17 L168.10,967.31 L168.09,966.60 L168.06,966.00 L168.01,965.48 L167.95,965.01 L167.88,964.57 L167.80,964.11 L167.71,963.63 L167.60,963.15 L167.48,962.68 L167.37,962.27 L167.27,961.92 L167.20,961.66 Z" fill="#14f2ee" stroke="none"/>
<line x1="161.76" y1="999.50" x2="175.44" y2="999.50" stroke="#0fa8a8" stroke-width="1.2" stroke-dasharray="3,2"/>
<path d="M170.00,961.66 L169.93,961.92 L169.83,962.27 L169.72,962.68 L169.60,963.15 L169.49,963.63 L169.40,964.11 L169.32,964.57 L169.25,965.01 L169.19,965.48 L169.14,966.00 L169.11,966.60 L169.10,967.31 L169.14,968.17 L169.21,969.14 L169.31,970.19 L169.40,971.29 L169.47,972.42 L169.50,973.54 L169.47,974.66 L169.40,975.83 L169.30,977.02 L169.20,978.21 L169.13,979.38 L169.10,980.51 L169.11,981.59 L169.14,982.64 L169.19,983.67 L169.26,984.69 L169.37,985.71 L169.50,986.73 L169.66,987.78 L169.84,988.84 L170.05,989.91 L170.29,990.95 L170.57,991.94 L170.90,992.86 L171.30,993.70 L171.76,994.49 L172.27,995.24 L172.78,995.93 L173.27,996.58 L173.70,997.19 L174.10,997.75 L174.50,998.24 L174.88,998.69 L175.21,999.11 L175.46,999.52 L175.60,999.92 L175.62,1000.33 L175.53,1000.74 L175.36,1001.13 L175.15,1001.49 L174.92,1001.81 L174.70,1002.09 L174.47,1002.32 L174.19,1002.50 L173.89,1002.65 L173.61,1002.77 L173.37,1002.86 L173.20,1002.94 L164.00,1002.94 L163.83,1002.86 L163.59,1002.77 L163.31,1002.65 L163.01,1002.50 L162.73,1002.32 L162.50,1002.09 L162.28,1001.81 L162.05,1001.49 L161.84,1001.13 L161.67,1000.74 L161.58,1000.33 L161.60,999.92 L161.74,999.52 L161.99,999.11 L162.32,998.69 L162.70,998.24 L163.10,997.75 L163.50,997.19 L163.93,996.58 L164.42,995.93 L164.93,995.24 L165.44,994.49 L165.90,993.70 L166.30,992.86 L166.63,991.94 L166.91,990.95 L167.15,989.91 L167.36,988.84 L167.54,987.78 L167.70,986.73 L167.83,985.71 L167.94,984.69 L168.01,983.67 L168.06,982.64 L168.09,981.59 L168.10,980.51 L168.07,979.38 L168.00,978.21 L167.90,977.02 L167.80,975.83 L167.73,974.66 L167.70,973.54 L167.73,972.42 L167.80,971.29 L167.89,970.19 L167.99,969.14 L168.06,968.17 L168.10,967.31 L168.09,966.60 L168.06,966.00 L168.01,965.48 L167.95,965.01 L167.88,964.57 L167.80,964.11 L167.71,963.63 L167.60,963.15 L167.48,962.68 L167.37,962.27 L167.27,961.92 L167.20,961.66 Z" fill="none" stroke="#000" stroke-width="2.80" stroke-linejoin="round"/>
<path d="M198.00,952.36 L197.94,953.69 L197.84,955.56 L197.73,957.76 L197.62,960.08 L197.54,962.32 L197.50,964.27 L197.52,965.94 L197.60,967.48 L197.69,968.94 L197.79,970.36 L197.87,971.78 L197.90,973.23 L197.86,974.76 L197.78,976.35 L197.67,977.94 L197.57,979.47 L197.50,980.87 L197.50,982.09 L197.56,983.09 L197.67,983.91 L197.81,984.61 L197.98,985.25 L198.18,985.88 L198.40,986.57 L198.65,987.31 L198.94,988.04 L199.26,988.76 L199.60,989.49 L199.95,990.22 L200.30,990.96 L200.66,991.70 L201.05,992.44 L201.45,993.19 L201.85,993.94 L202.24,994.69 L202.60,995.43 L202.98,996.21 L203.39,997.01 L203.78,997.82 L204.13,998.59 L204.38,999.30 L204.50,999.91 L204.46,1000.42 L204.29,1000.85 L204.03,1001.21 L203.71,1001.52 L203.39,1001.82 L203.10,1002.11 L202.81,1002.39 L202.49,1002.66 L202.16,1002.91 L201.85,1003.13 L201.59,1003.30 L201.40,1003.44 L192.20,1003.44 L192.01,1003.30 L191.75,1003.13 L191.44,1002.91 L191.11,1002.66 L190.79,1002.39 L190.50,1002.11 L190.21,1001.82 L189.89,1001.52 L189.58,1001.21 L189.31,1000.85 L189.14,1000.42 L189.10,999.91 L189.22,999.30 L189.47,998.59 L189.82,997.82 L190.21,997.01 L190.62,996.21 L191.00,995.43 L191.36,994.69 L191.75,993.94 L192.15,993.19 L192.55,992.44 L192.94,991.70 L193.30,990.96 L193.65,990.22 L194.00,989.49 L194.34,988.76 L194.66,988.04 L194.95,987.31 L195.20,986.57 L195.42,985.88 L195.62,985.25 L195.79,984.61 L195.93,983.91 L196.04,983.09 L196.10,982.09 L196.10,980.87 L196.03,979.47 L195.93,977.94 L195.82,976.35 L195.74,974.76 L195.70,973.23 L195.73,971.78 L195.81,970.36 L195.91,968.94 L196.00,967.48 L196.08,965.94 L196.10,964.27 L196.06,962.32 L195.98,960.08 L195.88,957.76 L195.76,955.56 L195.66,953.69 L195.60,952.36 Z" fill="#0c32f0" stroke="none"/>
<path d="M198.00,952.36 L197.94,953.69 L197.84,955.56 L197.73,957.76 L197.62,960.08 L197.54,962.32 L197.50,964.27 L197.52,965.94 L197.60,967.48 L197.69,968.94 L197.79,970.36 L197.87,971.78 L197.90,973.23 L197.86,974.76 L197.78,976.35 L197.67,977.94 L197.57,979.47 L197.50,980.87 L197.50,982.09 L197.56,983.09 L197.67,983.91 L197.81,984.61 L197.98,985.25 L198.18,985.88 L198.40,986.57 L198.65,987.31 L198.94,988.04 L199.26,988.76 L199.60,989.49 L199.95,990.22 L200.30,990.96 L200.66,991.70 L201.05,992.44 L201.45,993.19 L201.85,993.94 L202.24,994.69 L202.60,995.43 L202.98,996.21 L203.39,997.01 L203.78,997.82 L204.13,998.59 L204.38,999.30 L204.50,999.91 L204.46,1000.42 L204.29,1000.85 L204.03,1001.21 L203.71,1001.52 L203.39,1001.82 L203.10,1002.11 L202.81,1002.39 L202.49,1002.66 L202.16,1002.91 L201.85,1003.13 L201.59,1003.30 L201.40,1003.44 L192.20,1003.44 L192.01,1003.30 L191.75,1003.13 L191.44,1002.91 L191.11,1002.66 L190.79,1002.39 L190.50,1002.11 L190.21,1001.82 L189.89,1001.52 L189.58,1001.21 L189.31,1000.85 L189.14,1000.42 L189.10,999.91 L189.22,999.30 L189.47,998.59 L189.82,997.82 L190.21,997.01 L190.62,996.21 L191.00,995.43 L191.36,994.69 L191.75,993.94 L192.15,993.19 L192.55,992.44 L192.94,991.70 L193.30,990.96 L193.65,990.22 L194.00,989.49 L194.34,988.76 L194.66,988.04 L194.95,987.31 L195.20,986.57 L195.42,985.88 L195.62,985.25 L195.79,984.61 L195.93,983.91 L196.04,983.09 L196.10,982.09 L196.10,980.87 L196.03,979.47 L195.93,977.94 L195.82,976.35 L195.74,974.76 L195.70,973.23 L195.73,971.78 L195.81,970.36 L195.91,968.94 L196.00,967.48 L196.08,965.94 L196.10,964.27 L196.06,962.32 L195.98,960.08 L195.88,957.76 L195.76,955.56 L195.66,953.69 L195.60,952.36 Z" fill="none" stroke="#000" stroke-width="2.80" stroke-linejoin="round"/>
<path d="M225.50,926.16 L225.43,927.30 L225.33,928.87 L225.21,930.74 L225.15,932.74 L225.15,934.75 L225.15,936.62 L225.15,938.39 L225.19,940.19 L225.35,942.00 L225.51,943.77 L225.64,945.47 L225.70,947.08 L225.68,948.56 L225.59,949.94 L225.47,951.25 L225.35,952.53 L225.25,953.81 L225.20,955.11 L225.22,956.44 L225.28,957.76 L225.37,959.08 L225.45,960.40 L225.52,961.72 L225.55,963.05 L225.52,964.41 L225.45,965.81 L225.36,967.22 L225.27,968.59 L225.21,969.89 L225.20,971.09 L225.26,972.14 L225.37,973.05 L225.51,973.90 L225.65,974.74 L225.76,975.66 L225.80,976.71 L225.76,977.93 L225.65,979.29 L225.52,980.72 L225.38,982.15 L225.28,983.51 L225.25,984.74 L225.28,985.85 L225.34,986.88 L225.43,987.85 L225.56,988.76 L225.75,989.59 L226.00,990.36 L226.33,991.03 L226.73,991.60 L227.19,992.11 L227.67,992.58 L228.15,993.05 L228.60,993.55 L229.04,994.10 L229.48,994.65 L229.93,995.20 L230.35,995.74 L230.75,996.26 L231.10,996.75 L231.43,997.20 L231.75,997.61 L232.04,998.01 L232.28,998.39 L232.44,998.78 L232.50,999.17 L232.44,999.58 L232.26,1000.01 L232.01,1000.43 L231.71,1000.85 L231.40,1001.24 L231.10,1001.59 L230.78,1001.92 L230.40,1002.23 L230.01,1002.52 L229.64,1002.77 L229.32,1002.98 L229.10,1003.14 L220.90,1003.14 L220.68,1002.98 L220.36,1002.77 L219.99,1002.52 L219.60,1002.23 L219.22,1001.92 L218.90,1001.59 L218.60,1001.24 L218.29,1000.85 L217.99,1000.43 L217.74,1000.01 L217.56,999.58 L217.50,999.17 L217.56,998.78 L217.72,998.39 L217.96,998.01 L218.25,997.61 L218.57,997.20 L218.90,996.75 L219.25,996.26 L219.65,995.74 L220.07,995.20 L220.52,994.65 L220.96,994.10 L221.40,993.55 L221.85,993.05 L222.33,992.58 L222.81,992.11 L223.27,991.60 L223.67,991.03 L224.00,990.36 L224.25,989.59 L224.44,988.76 L224.57,987.85 L224.66,986.88 L224.72,985.85 L224.75,984.74 L224.72,983.51 L224.62,982.15 L224.48,980.72 L224.35,979.29 L224.24,977.93 L224.20,976.71 L224.24,975.66 L224.35,974.74 L224.49,973.90 L224.63,973.05 L224.74,972.14 L224.80,971.09 L224.79,969.89 L224.73,968.59 L224.64,967.22 L224.55,965.81 L224.48,964.41 L224.45,963.05 L224.48,961.72 L224.55,960.40 L224.63,959.08 L224.72,957.76 L224.78,956.44 L224.80,955.11 L224.75,953.81 L224.65,952.53 L224.53,951.25 L224.41,949.94 L224.32,948.56 L224.30,947.08 L224.36,945.47 L224.49,943.77 L224.65,942.00 L224.81,940.19 L224.85,938.39 L224.85,936.62 L224.85,934.75 L224.85,932.74 L224.79,930.74 L224.67,928.87 L224.57,927.30 L224.50,926.16 Z" fill="#0c1c98" stroke="none"/>
<path d="M225.50,926.16 L225.43,927.30 L225.33,928.87 L225.21,930.74 L225.15,932.74 L225.15,934.75 L225.15,936.62 L225.15,938.39 L225.19,940.19 L225.35,942.00 L225.51,943.77 L225.64,945.47 L225.70,947.08 L225.68,948.56 L225.59,949.94 L225.47,951.25 L225.35,952.53 L225.25,953.81 L225.20,955.11 L225.22,956.44 L225.28,957.76 L225.37,959.08 L225.45,960.40 L225.52,961.72 L225.55,963.05 L225.52,964.41 L225.45,965.81 L225.36,967.22 L225.27,968.59 L225.21,969.89 L225.20,971.09 L225.26,972.14 L225.37,973.05 L225.51,973.90 L225.65,974.74 L225.76,975.66 L225.80,976.71 L225.76,977.93 L225.65,979.29 L225.52,980.72 L225.38,982.15 L225.28,983.51 L225.25,984.74 L225.28,985.85 L225.34,986.88 L225.43,987.85 L225.56,988.76 L225.75,989.59 L226.00,990.36 L226.33,991.03 L226.73,991.60 L227.19,992.11 L227.67,992.58 L228.15,993.05 L228.60,993.55 L229.04,994.10 L229.48,994.65 L229.93,995.20 L230.35,995.74 L230.75,996.26 L231.10,996.75 L231.43,997.20 L231.75,997.61 L232.04,998.01 L232.28,998.39 L232.44,998.78 L232.50,999.17 L232.44,999.58 L232.26,1000.01 L232.01,1000.43 L231.71,1000.85 L231.40,1001.24 L231.10,1001.59 L230.78,1001.92 L230.40,1002.23 L230.01,1002.52 L229.64,1002.77 L229.32,1002.98 L229.10,1003.14 L220.90,1003.14 L220.68,1002.98 L220.36,1002.77 L219.99,1002.52 L219.60,1002.23 L219.22,1001.92 L218.90,1001.59 L218.60,1001.24 L218.29,1000.85 L217.99,1000.43 L217.74,1000.01 L217.56,999.58 L217.50,999.17 L217.56,998.78 L217.72,998.39 L217.96,998.01 L218.25,997.61 L218.57,997.20 L218.90,996.75 L219.25,996.26 L219.65,995.74 L220.07,995.20 L220.52,994.65 L220.96,994.10 L221.40,993.55 L221.85,993.05 L222.33,992.58 L222.81,992.11 L223.27,991.60 L223.67,991.03 L224.00,990.36 L224.25,989.59 L224.44,988.76 L224.57,987.85 L224.66,986.88 L224.72,985.85 L224.75,984.74 L224.72,983.51 L224.62,982.15 L224.48,980.72 L224.35,979.29 L224.24,977.93 L224.20,976.71 L224.24,975.66 L224.35,974.74 L224.49,973.90 L224.63,973.05 L224.74,972.14 L224.80,971.09 L224.79,969.89 L224.73,968.59 L224.64,967.22 L224.55,965.81 L224.48,964.41 L224.45,963.05 L224.48,961.72 L224.55,960.40 L224.63,959.08 L224.72,957.76 L224.78,956.44 L224.80,955.11 L224.75,953.81 L224.65,952.53 L224.53,951.25 L224.41,949.94 L224.32,948.56 L224.30,947.08 L224.36,945.47 L224.49,943.77 L224.65,942.00 L224.81,940.19 L224.85,938.39 L224.85,936.62 L224.85,934.75 L224.85,932.74 L224.79,930.74 L224.67,928.87 L224.57,927.30 L224.50,926.16 Z" fill="none" stroke="#000" stroke-width="2.80" stroke-linejoin="round"/>
<path d="M254.90,841.96 L254.89,842.41 L254.89,843.03 L254.88,843.77 L254.86,844.57 L254.84,845.40 L254.80,846.19 L254.76,846.92 L254.70,847.60 L254.64,848.30 L254.57,849.08 L254.49,850.00 L254.40,851.12 L254.29,852.48 L254.16,854.07 L254.01,855.79 L253.87,857.57 L253.73,859.32 L253.60,860.96 L253.48,862.24 L253.36,863.18 L253.35,864.10 L253.35,865.30 L253.35,867.10 L253.35,869.82 L253.35,873.73 L253.35,878.64 L253.35,884.16 L253.35,889.88 L253.35,895.40 L253.35,900.34 L253.35,904.84 L253.35,909.25 L253.35,913.47 L253.35,917.40 L253.37,920.93 L253.50,923.97 L253.66,926.31 L253.84,927.99 L254.04,929.28 L254.26,930.44 L254.48,931.73 L254.70,933.42 L254.92,935.51 L255.16,937.79 L255.40,940.21 L255.64,942.69 L255.88,945.18 L256.10,947.60 L256.31,949.96 L256.51,952.32 L256.71,954.69 L256.90,957.05 L257.10,959.41 L257.30,961.77 L257.52,964.20 L257.75,966.71 L257.99,969.22 L258.21,971.64 L258.42,973.88 L258.60,975.85 L258.74,977.50 L258.86,978.89 L258.96,980.11 L259.04,981.22 L259.12,982.30 L259.20,983.43 L259.28,984.59 L259.34,985.70 L259.40,986.79 L259.46,987.86 L259.52,988.94 L259.60,990.03 L259.69,991.15 L259.80,992.31 L259.91,993.47 L260.02,994.59 L260.12,995.65 L260.20,996.62 L260.26,997.52 L260.30,998.36 L260.34,999.14 L260.36,999.85 L260.38,1000.46 L260.40,1000.95 L260.41,1001.31 L260.41,1001.54 L260.41,1001.67 L260.41,1001.74 L260.40,1001.78 L260.40,1001.84 L246.00,1001.84 L246.00,1001.78 L245.99,1001.74 L245.99,1001.67 L245.99,1001.54 L245.99,1001.31 L246.00,1000.95 L246.02,1000.46 L246.04,999.85 L246.06,999.14 L246.10,998.36 L246.14,997.52 L246.20,996.62 L246.28,995.65 L246.38,994.59 L246.49,993.47 L246.60,992.31 L246.71,991.15 L246.80,990.03 L246.88,988.94 L246.94,987.86 L247.00,986.79 L247.06,985.70 L247.12,984.59 L247.20,983.43 L247.28,982.30 L247.36,981.22 L247.44,980.11 L247.54,978.89 L247.66,977.50 L247.80,975.85 L247.98,973.88 L248.19,971.64 L248.41,969.22 L248.65,966.71 L248.88,964.20 L249.10,961.77 L249.30,959.41 L249.50,957.05 L249.69,954.69 L249.89,952.32 L250.09,949.96 L250.30,947.60 L250.52,945.18 L250.76,942.69 L251.00,940.21 L251.24,937.79 L251.48,935.51 L251.70,933.42 L251.92,931.73 L252.14,930.44 L252.36,929.28 L252.56,927.99 L252.74,926.31 L252.90,923.97 L253.03,920.93 L253.05,917.40 L253.05,913.47 L253.05,909.25 L253.05,904.84 L253.05,900.34 L253.05,895.40 L253.05,889.88 L253.05,884.16 L253.05,878.64 L253.05,873.73 L253.05,869.82 L253.05,867.10 L253.05,865.30 L253.05,864.10 L253.04,863.18 L252.92,862.24 L252.80,860.96 L252.67,859.32 L252.53,857.57 L252.39,855.79 L252.24,854.07 L252.11,852.48 L252.00,851.12 L251.91,850.00 L251.83,849.08 L251.76,848.30 L251.70,847.60 L251.64,846.92 L251.60,846.19 L251.56,845.40 L251.54,844.57 L251.52,843.77 L251.51,843.03 L251.51,842.41 L251.50,841.96 Z" fill="#ffffff" stroke="none"/>
<line x1="250.14" y1="949.40" x2="256.26" y2="949.40" stroke="#8a8a8a" stroke-width="0.8"/>
<line x1="247.14" y1="984.40" x2="259.26" y2="984.40" stroke="#8a8a8a" stroke-width="1.2" stroke-dasharray="3,2"/>
<line x1="246.07" y1="999.00" x2="260.33" y2="999.00" stroke="#8a8a8a" stroke-width="0.8"/>
<path d="M254.90,841.96 L254.89,842.41 L254.89,843.03 L254.88,843.77 L254.86,844.57 L254.84,845.40 L254.80,846.19 L254.76,846.92 L254.70,847.60 L254.64,848.30 L254.57,849.08 L254.49,850.00 L254.40,851.12 L254.29,852.48 L254.16,854.07 L254.01,855.79 L253.87,857.57 L253.73,859.32 L253.60,860.96 L253.48,862.24 L253.36,863.18 L253.35,864.10 L253.35,865.30 L253.35,867.10 L253.35,869.82 L253.35,873.73 L253.35,878.64 L253.35,884.16 L253.35,889.88 L253.35,895.40 L253.35,900.34 L253.35,904.84 L253.35,909.25 L253.35,913.47 L253.35,917.40 L253.37,920.93 L253.50,923.97 L253.66,926.31 L253.84,927.99 L254.04,929.28 L254.26,930.44 L254.48,931.73 L254.70,933.42 L254.92,935.51 L255.16,937.79 L255.40,940.21 L255.64,942.69 L255.88,945.18 L256.10,947.60 L256.31,949.96 L256.51,952.32 L256.71,954.69 L256.90,957.05 L257.10,959.41 L257.30,961.77 L257.52,964.20 L257.75,966.71 L257.99,969.22 L258.21,971.64 L258.42,973.88 L258.60,975.85 L258.74,977.50 L258.86,978.89 L258.96,980.11 L259.04,981.22 L259.12,982.30 L259.20,983.43 L259.28,984.59 L259.34,985.70 L259.40,986.79 L259.46,987.86 L259.52,988.94 L259.60,990.03 L259.69,991.15 L259.80,992.31 L259.91,993.47 L260.02,994.59 L260.12,995.65 L260.20,996.62 L260.26,997.52 L260.30,998.36 L260.34,999.14 L260.36,999.85 L260.38,1000.46 L260.40,1000.95 L260.41,1001.31 L260.41,1001.54 L260.41,1001.67 L260.41,1001.74 L260.40,1001.78 L260.40,1001.84 L246.00,1001.84 L246.00,1001.78 L245.99,1001.74 L245.99,1001.67 L245.99,1001.54 L245.99,1001.31 L246.00,1000.95 L246.02,1000.46 L246.04,999.85 L246.06,999.14 L246.10,998.36 L246.14,997.52 L246.20,996.62 L246.28,995.65 L246.38,994.59 L246.49,993.47 L246.60,992.31 L246.71,991.15 L246.80,990.03 L246.88,988.94 L246.94,987.86 L247.00,986.79 L247.06,985.70 L247.12,984.59 L247.20,983.43 L247.28,982.30 L247.36,981.22 L247.44,980.11 L247.54,978.89 L247.66,977.50 L247.80,975.85 L247.98,973.88 L248.19,971.64 L248.41,969.22 L248.65,966.71 L248.88,964.20 L249.10,961.77 L249.30,959.41 L249.50,957.05 L249.69,954.69 L249.89,952.32 L250.09,949.96 L250.30,947.60 L250.52,945.18 L250.76,942.69 L251.00,940.21 L251.24,937.79 L251.48,935.51 L251.70,933.42 L251.92,931.73 L252.14,930.44 L252.36,929.28 L252.56,927.99 L252.74,926.31 L252.90,923.97 L253.03,920.93 L253.05,917.40 L253.05,913.47 L253.05,909.25 L253.05,904.84 L253.05,900.34 L253.05,895.40 L253.05,889.88 L253.05,884.16 L253.05,878.64 L253.05,873.73 L253.05,869.82 L253.05,867.10 L253.05,865.30 L253.05,864.10 L253.04,863.18 L252.92,862.24 L252.80,860.96 L252.67,859.32 L252.53,857.57 L252.39,855.79 L252.24,854.07 L252.11,852.48 L252.00,851.12 L251.91,850.00 L251.83,849.08 L251.76,848.30 L251.70,847.60 L251.64,846.92 L251.60,846.19 L251.56,845.40 L251.54,844.57 L251.52,843.77 L251.51,843.03 L251.51,842.41 L251.50,841.96 Z" fill="none" stroke="#000" stroke-width="2.80" stroke-linejoin="round"/>
<text x="78.40" y="936.90" font-family='"Liberation Sans", "Noto Sans CJK JP", sans-serif' font-size="14.00" font-weight="500" text-anchor="middle" fill="#000" transform="rotate(-90 78.40 936.90)">血清IgG抗体価</text>
<text x="160.70" y="817.00" font-family='"Liberation Sans", Arial, Helvetica, sans-serif' font-size="17.80" font-weight="normal" text-anchor="start" fill="#b41e24" >P = 0.0041</text>
<path d="M379.30,808.00 V1035.30 H529.00" fill="none" stroke="#000" stroke-width="2.1" stroke-linecap="butt"/>
<line x1="371.80" y1="1035.30" x2="379.30" y2="1035.30" stroke="#000" stroke-width="2.1"/>
<text x="368.30" y="1040.90" font-family='"Liberation Sans", Arial, Helvetica, sans-serif' font-size="14.50" font-weight="bold" text-anchor="end" fill="#000" stroke="#000" stroke-width="0.25">-5</text>
<line x1="371.80" y1="978.72" x2="379.30" y2="978.72" stroke="#000" stroke-width="2.1"/>
<text x="368.30" y="984.32" font-family='"Liberation Sans", Arial, Helvetica, sans-serif' font-size="14.50" font-weight="bold" text-anchor="end" fill="#000" stroke="#000" stroke-width="0.25">0</text>
<line x1="371.80" y1="922.15" x2="379.30" y2="922.15" stroke="#000" stroke-width="2.1"/>
<text x="368.30" y="927.75" font-family='"Liberation Sans", Arial, Helvetica, sans-serif' font-size="14.50" font-weight="bold" text-anchor="end" fill="#000" stroke="#000" stroke-width="0.25">5</text>
<line x1="371.80" y1="865.57" x2="379.30" y2="865.57" stroke="#000" stroke-width="2.1"/>
<text x="368.30" y="871.17" font-family='"Liberation Sans", Arial, Helvetica, sans-serif' font-size="14.50" font-weight="bold" text-anchor="end" fill="#000" stroke="#000" stroke-width="0.25">10</text>
<line x1="371.80" y1="809.00" x2="379.30" y2="809.00" stroke="#000" stroke-width="2.1"/>
<text x="368.30" y="814.60" font-family='"Liberation Sans", Arial, Helvetica, sans-serif' font-size="14.50" font-weight="bold" text-anchor="end" fill="#000" stroke="#000" stroke-width="0.25">15</text>
<line x1="397.90" y1="1035.30" x2="397.90" y2="1042.80" stroke="#000" stroke-width="2.1"/>
<line x1="426.10" y1="1035.30" x2="426.10" y2="1042.80" stroke="#000" stroke-width="2.1"/>
<line x1="453.70" y1="1035.30" x2="453.70" y2="1042.80" stroke="#000" stroke-width="2.1"/>
<line x1="481.90" y1="1035.30" x2="481.90" y2="1042.80" stroke="#000" stroke-width="2.1"/>
<line x1="510.20" y1="1035.30" x2="510.20" y2="1042.80" stroke="#000" stroke-width="2.1"/>
<line x1="378.80" y1="967.41" x2="529.00" y2="967.41" stroke="#cf553c" stroke-width="1.9" stroke-dasharray="6,3.34"/>
<line x1="371.80" y1="967.41" x2="379.30" y2="967.41" stroke="#000" stroke-width="2.1"/>
<path d="M398.40,898.76 L398.36,899.41 L398.29,900.20 L398.22,901.19 L398.15,902.45 L398.15,904.05 L398.15,906.06 L398.15,908.71 L398.20,912.01 L398.28,915.64 L398.38,919.31 L398.49,922.70 L398.60,925.52 L398.73,927.71 L398.89,929.49 L399.05,931.00 L399.20,932.37 L399.33,933.75 L399.40,935.25 L399.42,936.88 L399.39,938.50 L399.33,940.12 L399.26,941.74 L399.17,943.36 L399.10,944.99 L399.01,946.66 L398.87,948.41 L398.74,950.16 L398.63,951.83 L398.57,953.38 L398.60,954.72 L398.72,955.75 L398.91,956.52 L399.16,957.15 L399.45,957.78 L399.77,958.55 L400.10,959.58 L400.46,960.94 L400.88,962.50 L401.32,964.21 L401.77,965.96 L402.20,967.69 L402.60,969.32 L402.98,970.89 L403.35,972.49 L403.71,974.06 L404.04,975.55 L404.34,976.91 L404.60,978.08 L404.81,978.98 L404.98,979.66 L405.11,980.20 L405.21,980.71 L405.29,981.26 L405.35,981.97 L405.38,982.87 L405.37,983.90 L405.34,984.98 L405.29,986.04 L405.24,987.01 L405.20,987.81 L405.16,988.44 L405.10,988.96 L405.04,989.39 L404.98,989.74 L404.93,990.01 L404.90,990.24 L391.10,990.24 L391.07,990.01 L391.02,989.74 L390.96,989.39 L390.90,988.96 L390.84,988.44 L390.80,987.81 L390.76,987.01 L390.71,986.04 L390.66,984.98 L390.63,983.90 L390.62,982.87 L390.65,981.97 L390.71,981.26 L390.79,980.71 L390.89,980.20 L391.02,979.66 L391.19,978.98 L391.40,978.08 L391.66,976.91 L391.96,975.55 L392.29,974.06 L392.65,972.49 L393.02,970.89 L393.40,969.32 L393.80,967.69 L394.23,965.96 L394.68,964.21 L395.12,962.50 L395.54,960.94 L395.90,959.58 L396.23,958.55 L396.55,957.78 L396.84,957.15 L397.09,956.52 L397.28,955.75 L397.40,954.72 L397.43,953.38 L397.37,951.83 L397.26,950.16 L397.13,948.41 L396.99,946.66 L396.90,944.99 L396.83,943.36 L396.74,941.74 L396.67,940.12 L396.61,938.50 L396.58,936.88 L396.60,935.25 L396.67,933.75 L396.80,932.37 L396.95,931.00 L397.11,929.49 L397.27,927.71 L397.40,925.52 L397.51,922.70 L397.62,919.31 L397.72,915.64 L397.80,912.01 L397.85,908.71 L397.85,906.06 L397.85,904.05 L397.85,902.45 L397.78,901.19 L397.71,900.20 L397.64,899.41 L397.60,898.76 Z" fill="#f02a96" stroke="none"/>
<line x1="393.72" y1="968.00" x2="402.28" y2="968.00" stroke="#b0105e" stroke-width="0.8"/>
<line x1="391.06" y1="979.50" x2="404.94" y2="979.50" stroke="#b0105e" stroke-width="1.2" stroke-dasharray="3,2"/>
<line x1="390.70" y1="986.00" x2="405.30" y2="986.00" stroke="#b0105e" stroke-width="0.8"/>
<path d="M398.40,898.76 L398.36,899.41 L398.29,900.20 L398.22,901.19 L398.15,902.45 L398.15,904.05 L398.15,906.06 L398.15,908.71 L398.20,912.01 L398.28,915.64 L398.38,919.31 L398.49,922.70 L398.60,925.52 L398.73,927.71 L398.89,929.49 L399.05,931.00 L399.20,932.37 L399.33,933.75 L399.40,935.25 L399.42,936.88 L399.39,938.50 L399.33,940.12 L399.26,941.74 L399.17,943.36 L399.10,944.99 L399.01,946.66 L398.87,948.41 L398.74,950.16 L398.63,951.83 L398.57,953.38 L398.60,954.72 L398.72,955.75 L398.91,956.52 L399.16,957.15 L399.45,957.78 L399.77,958.55 L400.10,959.58 L400.46,960.94 L400.88,962.50 L401.32,964.21 L401.77,965.96 L402.20,967.69 L402.60,969.32 L402.98,970.89 L403.35,972.49 L403.71,974.06 L404.04,975.55 L404.34,976.91 L404.60,978.08 L404.81,978.98 L404.98,979.66 L405.11,980.20 L405.21,980.71 L405.29,981.26 L405.35,981.97 L405.38,982.87 L405.37,983.90 L405.34,984.98 L405.29,986.04 L405.24,987.01 L405.20,987.81 L405.16,988.44 L405.10,988.96 L405.04,989.39 L404.98,989.74 L404.93,990.01 L404.90,990.24 L391.10,990.24 L391.07,990.01 L391.02,989.74 L390.96,989.39 L390.90,988.96 L390.84,988.44 L390.80,987.81 L390.76,987.01 L390.71,986.04 L390.66,984.98 L390.63,983.90 L390.62,982.87 L390.65,981.97 L390.71,981.26 L390.79,980.71 L390.89,980.20 L391.02,979.66 L391.19,978.98 L391.40,978.08 L391.66,976.91 L391.96,975.55 L392.29,974.06 L392.65,972.49 L393.02,970.89 L393.40,969.32 L393.80,967.69 L394.23,965.96 L394.68,964.21 L395.12,962.50 L395.54,960.94 L395.90,959.58 L396.23,958.55 L396.55,957.78 L396.84,957.15 L397.09,956.52 L397.28,955.75 L397.40,954.72 L397.43,953.38 L397.37,951.83 L397.26,950.16 L397.13,948.41 L396.99,946.66 L396.90,944.99 L396.83,943.36 L396.74,941.74 L396.67,940.12 L396.61,938.50 L396.58,936.88 L396.60,935.25 L396.67,933.75 L396.80,932.37 L396.95,931.00 L397.11,929.49 L397.27,927.71 L397.40,925.52 L397.51,922.70 L397.62,919.31 L397.72,915.64 L397.80,912.01 L397.85,908.71 L397.85,906.06 L397.85,904.05 L397.85,902.45 L397.78,901.19 L397.71,900.20 L397.64,899.41 L397.60,898.76 Z" fill="none" stroke="#000" stroke-width="2.80" stroke-linejoin="round"/>
<path d="M427.35,905.76 L427.29,906.11 L427.20,906.59 L427.09,907.16 L426.99,907.79 L426.88,908.47 L426.80,909.16 L426.73,909.81 L426.67,910.42 L426.62,911.07 L426.57,911.84 L426.53,912.80 L426.50,914.02 L426.47,915.59 L426.44,917.47 L426.42,919.54 L426.41,921.68 L426.44,923.76 L426.50,925.67 L426.63,927.40 L426.82,929.05 L427.03,930.65 L427.24,932.22 L427.41,933.79 L427.50,935.38 L427.48,937.02 L427.37,938.69 L427.23,940.36 L427.08,942.00 L426.97,943.59 L426.95,945.09 L427.02,946.51 L427.14,947.86 L427.30,949.16 L427.49,950.42 L427.71,951.65 L427.95,952.86 L428.21,954.02 L428.51,955.09 L428.84,956.14 L429.18,957.22 L429.52,958.37 L429.85,959.66 L430.19,961.15 L430.55,962.79 L430.91,964.52 L431.25,966.24 L431.57,967.89 L431.85,969.37 L432.08,970.71 L432.28,971.96 L432.44,973.14 L432.59,974.23 L432.72,975.24 L432.85,976.17 L432.97,976.99 L433.07,977.68 L433.16,978.30 L433.24,978.87 L433.30,979.44 L433.35,980.06 L433.38,980.69 L433.40,981.32 L433.40,981.94 L433.39,982.57 L433.37,983.24 L433.35,983.94 L433.32,984.73 L433.29,985.60 L433.24,986.49 L433.20,987.36 L433.15,988.15 L433.10,988.80 L433.05,989.31 L432.99,989.73 L432.93,990.07 L432.88,990.34 L432.83,990.56 L432.80,990.74 L419.20,990.74 L419.17,990.56 L419.12,990.34 L419.07,990.07 L419.01,989.73 L418.95,989.31 L418.90,988.80 L418.85,988.15 L418.80,987.36 L418.76,986.49 L418.71,985.60 L418.68,984.73 L418.65,983.94 L418.63,983.24 L418.61,982.57 L418.60,981.94 L418.60,981.32 L418.62,980.69 L418.65,980.06 L418.70,979.44 L418.76,978.87 L418.84,978.30 L418.93,977.68 L419.03,976.99 L419.15,976.17 L419.28,975.24 L419.41,974.23 L419.56,973.14 L419.72,971.96 L419.92,970.71 L420.15,969.37 L420.43,967.89 L420.75,966.24 L421.09,964.52 L421.45,962.79 L421.81,961.15 L422.15,959.66 L422.48,958.37 L422.82,957.22 L423.16,956.14 L423.49,955.09 L423.79,954.02 L424.05,952.86 L424.29,951.65 L424.51,950.42 L424.70,949.16 L424.86,947.86 L424.98,946.51 L425.05,945.09 L425.03,943.59 L424.92,942.00 L424.77,940.36 L424.63,938.69 L424.52,937.02 L424.50,935.38 L424.59,933.79 L424.76,932.22 L424.97,930.65 L425.18,929.05 L425.37,927.40 L425.50,925.67 L425.56,923.76 L425.59,921.68 L425.58,919.54 L425.56,917.47 L425.53,915.59 L425.50,914.02 L425.47,912.80 L425.43,911.84 L425.38,911.07 L425.33,910.42 L425.27,909.81 L425.20,909.16 L425.12,908.47 L425.01,907.79 L424.91,907.16 L424.80,906.59 L424.71,906.11 L424.65,905.76 Z" fill="#14f2ee" stroke="none"/>
<line x1="421.63" y1="962.00" x2="430.37" y2="962.00" stroke="#0fa8a8" stroke-width="0.8"/>
<line x1="418.81" y1="978.50" x2="433.19" y2="978.50" stroke="#0fa8a8" stroke-width="1.2" stroke-dasharray="3,2"/>
<line x1="418.84" y1="988.00" x2="433.16" y2="988.00" stroke="#0fa8a8" stroke-width="0.8"/>
<path d="M427.35,905.76 L427.29,906.11 L427.20,906.59 L427.09,907.16 L426.99,907.79 L426.88,908.47 L426.80,909.16 L426.73,909.81 L426.67,910.42 L426.62,911.07 L426.57,911.84 L426.53,912.80 L426.50,914.02 L426.47,915.59 L426.44,917.47 L426.42,919.54 L426.41,921.68 L426.44,923.76 L426.50,925.67 L426.63,927.40 L426.82,929.05 L427.03,930.65 L427.24,932.22 L427.41,933.79 L427.50,935.38 L427.48,937.02 L427.37,938.69 L427.23,940.36 L427.08,942.00 L426.97,943.59 L426.95,945.09 L427.02,946.51 L427.14,947.86 L427.30,949.16 L427.49,950.42 L427.71,951.65 L427.95,952.86 L428.21,954.02 L428.51,955.09 L428.84,956.14 L429.18,957.22 L429.52,958.37 L429.85,959.66 L430.19,961.15 L430.55,962.79 L430.91,964.52 L431.25,966.24 L431.57,967.89 L431.85,969.37 L432.08,970.71 L432.28,971.96 L432.44,973.14 L432.59,974.23 L432.72,975.24 L432.85,976.17 L432.97,976.99 L433.07,977.68 L433.16,978.30 L433.24,978.87 L433.30,979.44 L433.35,980.06 L433.38,980.69 L433.40,981.32 L433.40,981.94 L433.39,982.57 L433.37,983.24 L433.35,983.94 L433.32,984.73 L433.29,985.60 L433.24,986.49 L433.20,987.36 L433.15,988.15 L433.10,988.80 L433.05,989.31 L432.99,989.73 L432.93,990.07 L432.88,990.34 L432.83,990.56 L432.80,990.74 L419.20,990.74 L419.17,990.56 L419.12,990.34 L419.07,990.07 L419.01,989.73 L418.95,989.31 L418.90,988.80 L418.85,988.15 L418.80,987.36 L418.76,986.49 L418.71,985.60 L418.68,984.73 L418.65,983.94 L418.63,983.24 L418.61,982.57 L418.60,981.94 L418.60,981.32 L418.62,980.69 L418.65,980.06 L418.70,979.44 L418.76,978.87 L418.84,978.30 L418.93,977.68 L419.03,976.99 L419.15,976.17 L419.28,975.24 L419.41,974.23 L419.56,973.14 L419.72,971.96 L419.92,970.71 L420.15,969.37 L420.43,967.89 L420.75,966.24 L421.09,964.52 L421.45,962.79 L421.81,961.15 L422.15,959.66 L422.48,958.37 L422.82,957.22 L423.16,956.14 L423.49,955.09 L423.79,954.02 L424.05,952.86 L424.29,951.65 L424.51,950.42 L424.70,949.16 L424.86,947.86 L424.98,946.51 L425.05,945.09 L425.03,943.59 L424.92,942.00 L424.77,940.36 L424.63,938.69 L424.52,937.02 L424.50,935.38 L424.59,933.79 L424.76,932.22 L424.97,930.65 L425.18,929.05 L425.37,927.40 L425.50,925.67 L425.56,923.76 L425.59,921.68 L425.58,919.54 L425.56,917.47 L425.53,915.59 L425.50,914.02 L425.47,912.80 L425.43,911.84 L425.38,911.07 L425.33,910.42 L425.27,909.81 L425.20,909.16 L425.12,908.47 L425.01,907.79 L424.91,907.16 L424.80,906.59 L424.71,906.11 L424.65,905.76 Z" fill="none" stroke="#000" stroke-width="2.80" stroke-linejoin="round"/>
<path d="M456.30,896.36 L456.25,896.65 L456.18,897.04 L456.10,897.51 L456.01,898.04 L455.91,898.60 L455.80,899.18 L455.68,899.70 L455.54,900.16 L455.40,900.66 L455.26,901.30 L455.12,902.17 L455.00,903.37 L454.89,904.84 L454.78,906.49 L454.75,908.37 L454.75,910.55 L454.75,913.08 L454.75,916.03 L454.75,919.75 L454.75,924.26 L454.75,929.13 L454.75,933.91 L454.75,938.16 L454.80,941.44 L454.87,943.62 L454.93,945.00 L455.01,945.85 L455.11,946.44 L455.27,947.03 L455.50,947.87 L455.83,948.93 L456.24,949.99 L456.70,951.04 L457.19,952.09 L457.66,953.15 L458.10,954.20 L458.51,955.23 L458.93,956.21 L459.33,957.20 L459.72,958.23 L460.08,959.32 L460.40,960.53 L460.68,961.86 L460.94,963.28 L461.17,964.77 L461.37,966.32 L461.55,967.90 L461.70,969.49 L461.82,971.15 L461.92,972.91 L461.99,974.71 L462.04,976.47 L462.07,978.13 L462.10,979.62 L462.12,980.93 L462.12,982.13 L462.11,983.22 L462.09,984.23 L462.05,985.17 L462.00,986.04 L461.92,986.87 L461.81,987.64 L461.69,988.34 L461.57,988.95 L461.47,989.46 L461.40,989.84 L447.80,989.84 L447.73,989.46 L447.63,988.95 L447.51,988.34 L447.39,987.64 L447.28,986.87 L447.20,986.04 L447.15,985.17 L447.11,984.23 L447.09,983.22 L447.08,982.13 L447.08,980.93 L447.10,979.62 L447.13,978.13 L447.16,976.47 L447.21,974.71 L447.28,972.91 L447.38,971.15 L447.50,969.49 L447.65,967.90 L447.83,966.32 L448.03,964.77 L448.26,963.28 L448.52,961.86 L448.80,960.53 L449.12,959.32 L449.48,958.23 L449.87,957.20 L450.27,956.21 L450.69,955.23 L451.10,954.20 L451.54,953.15 L452.01,952.09 L452.50,951.04 L452.96,949.99 L453.37,948.93 L453.70,947.87 L453.93,947.03 L454.09,946.44 L454.19,945.85 L454.27,945.00 L454.33,943.62 L454.40,941.44 L454.45,938.16 L454.45,933.91 L454.45,929.13 L454.45,924.26 L454.45,919.75 L454.45,916.03 L454.45,913.08 L454.45,910.55 L454.45,908.37 L454.42,906.49 L454.31,904.84 L454.20,903.37 L454.08,902.17 L453.94,901.30 L453.80,900.66 L453.66,900.16 L453.52,899.70 L453.40,899.18 L453.29,898.60 L453.19,898.04 L453.10,897.51 L453.02,897.04 L452.95,896.65 L452.90,896.36 Z" fill="#0c32f0" stroke="none"/>
<line x1="448.49" y1="962.00" x2="460.71" y2="962.00" stroke="#0820b0" stroke-width="0.8"/>
<line x1="447.22" y1="974.50" x2="461.98" y2="974.50" stroke="#0820b0" stroke-width="1.2" stroke-dasharray="3,2"/>
<line x1="447.20" y1="986.00" x2="462.00" y2="986.00" stroke="#0820b0" stroke-width="0.8"/>
<path d="M456.30,896.36 L456.25,896.65 L456.18,897.04 L456.10,897.51 L456.01,898.04 L455.91,898.60 L455.80,899.18 L455.68,899.70 L455.54,900.16 L455.40,900.66 L455.26,901.30 L455.12,902.17 L455.00,903.37 L454.89,904.84 L454.78,906.49 L454.75,908.37 L454.75,910.55 L454.75,913.08 L454.75,916.03 L454.75,919.75 L454.75,924.26 L454.75,929.13 L454.75,933.91 L454.75,938.16 L454.80,941.44 L454.87,943.62 L454.93,945.00 L455.01,945.85 L455.11,946.44 L455.27,947.03 L455.50,947.87 L455.83,948.93 L456.24,949.99 L456.70,951.04 L457.19,952.09 L457.66,953.15 L458.10,954.20 L458.51,955.23 L458.93,956.21 L459.33,957.20 L459.72,958.23 L460.08,959.32 L460.40,960.53 L460.68,961.86 L460.94,963.28 L461.17,964.77 L461.37,966.32 L461.55,967.90 L461.70,969.49 L461.82,971.15 L461.92,972.91 L461.99,974.71 L462.04,976.47 L462.07,978.13 L462.10,979.62 L462.12,980.93 L462.12,982.13 L462.11,983.22 L462.09,984.23 L462.05,985.17 L462.00,986.04 L461.92,986.87 L461.81,987.64 L461.69,988.34 L461.57,988.95 L461.47,989.46 L461.40,989.84 L447.80,989.84 L447.73,989.46 L447.63,988.95 L447.51,988.34 L447.39,987.64 L447.28,986.87 L447.20,986.04 L447.15,985.17 L447.11,984.23 L447.09,983.22 L447.08,982.13 L447.08,980.93 L447.10,979.62 L447.13,978.13 L447.16,976.47 L447.21,974.71 L447.28,972.91 L447.38,971.15 L447.50,969.49 L447.65,967.90 L447.83,966.32 L448.03,964.77 L448.26,963.28 L448.52,961.86 L448.80,960.53 L449.12,959.32 L449.48,958.23 L449.87,957.20 L450.27,956.21 L450.69,955.23 L451.10,954.20 L451.54,953.15 L452.01,952.09 L452.50,951.04 L452.96,949.99 L453.37,948.93 L453.70,947.87 L453.93,947.03 L454.09,946.44 L454.19,945.85 L454.27,945.00 L454.33,943.62 L454.40,941.44 L454.45,938.16 L454.45,933.91 L454.45,929.13 L454.45,924.26 L454.45,919.75 L454.45,916.03 L454.45,913.08 L454.45,910.55 L454.45,908.37 L454.42,906.49 L454.31,904.84 L454.20,903.37 L454.08,902.17 L453.94,901.30 L453.80,900.66 L453.66,900.16 L453.52,899.70 L453.40,899.18 L453.29,898.60 L453.19,898.04 L453.10,897.51 L453.02,897.04 L452.95,896.65 L452.90,896.36 Z" fill="none" stroke="#000" stroke-width="2.80" stroke-linejoin="round"/>
<path d="M482.90,863.06 L482.93,866.00 L482.97,870.07 L483.02,874.89 L483.09,880.07 L483.18,885.21 L483.30,889.93 L483.47,894.34 L483.71,898.79 L483.96,903.20 L484.20,907.51 L484.39,911.64 L484.50,915.52 L484.49,919.16 L484.38,922.63 L484.22,925.92 L484.06,929.04 L483.93,931.97 L483.90,934.74 L483.94,937.29 L484.02,939.63 L484.14,941.80 L484.30,943.83 L484.52,945.74 L484.80,947.58 L485.16,949.28 L485.62,950.79 L486.12,952.20 L486.65,953.57 L487.15,954.98 L487.60,956.50 L488.01,958.14 L488.42,959.84 L488.81,961.57 L489.16,963.32 L489.46,965.07 L489.70,966.80 L489.86,968.52 L489.96,970.25 L490.01,971.98 L490.02,973.69 L490.01,975.36 L490.00,977.00 L489.98,978.63 L489.92,980.28 L489.85,981.90 L489.77,983.44 L489.68,984.83 L489.60,986.02 L489.52,987.00 L489.42,987.82 L489.32,988.49 L489.23,989.04 L489.16,989.48 L489.10,989.84 L475.90,989.84 L475.84,989.48 L475.77,989.04 L475.68,988.49 L475.58,987.82 L475.48,987.00 L475.40,986.02 L475.32,984.83 L475.23,983.44 L475.15,981.90 L475.08,980.28 L475.02,978.63 L475.00,977.00 L474.99,975.36 L474.98,973.69 L474.99,971.98 L475.04,970.25 L475.14,968.52 L475.30,966.80 L475.54,965.07 L475.84,963.32 L476.19,961.57 L476.58,959.84 L476.99,958.14 L477.40,956.50 L477.85,954.98 L478.35,953.57 L478.88,952.20 L479.38,950.79 L479.84,949.28 L480.20,947.58 L480.48,945.74 L480.70,943.83 L480.86,941.80 L480.98,939.63 L481.06,937.29 L481.10,934.74 L481.07,931.97 L480.94,929.04 L480.78,925.92 L480.62,922.63 L480.51,919.16 L480.50,915.52 L480.61,911.64 L480.80,907.51 L481.04,903.20 L481.29,898.79 L481.53,894.34 L481.70,889.93 L481.82,885.21 L481.91,880.07 L481.98,874.89 L482.03,870.07 L482.07,866.00 L482.10,863.06 Z" fill="#0c1c98" stroke="none"/>
<line x1="475.41" y1="966.00" x2="489.59" y2="966.00" stroke="#081268" stroke-width="0.8"/>
<line x1="475.01" y1="971.50" x2="489.99" y2="971.50" stroke="#081268" stroke-width="1.2" stroke-dasharray="3,2"/>
<line x1="475.27" y1="984.00" x2="489.73" y2="984.00" stroke="#081268" stroke-width="0.8"/>
<path d="M482.90,863.06 L482.93,866.00 L482.97,870.07 L483.02,874.89 L483.09,880.07 L483.18,885.21 L483.30,889.93 L483.47,894.34 L483.71,898.79 L483.96,903.20 L484.20,907.51 L484.39,911.64 L484.50,915.52 L484.49,919.16 L484.38,922.63 L484.22,925.92 L484.06,929.04 L483.93,931.97 L483.90,934.74 L483.94,937.29 L484.02,939.63 L484.14,941.80 L484.30,943.83 L484.52,945.74 L484.80,947.58 L485.16,949.28 L485.62,950.79 L486.12,952.20 L486.65,953.57 L487.15,954.98 L487.60,956.50 L488.01,958.14 L488.42,959.84 L488.81,961.57 L489.16,963.32 L489.46,965.07 L489.70,966.80 L489.86,968.52 L489.96,970.25 L490.01,971.98 L490.02,973.69 L490.01,975.36 L490.00,977.00 L489.98,978.63 L489.92,980.28 L489.85,981.90 L489.77,983.44 L489.68,984.83 L489.60,986.02 L489.52,987.00 L489.42,987.82 L489.32,988.49 L489.23,989.04 L489.16,989.48 L489.10,989.84 L475.90,989.84 L475.84,989.48 L475.77,989.04 L475.68,988.49 L475.58,987.82 L475.48,987.00 L475.40,986.02 L475.32,984.83 L475.23,983.44 L475.15,981.90 L475.08,980.28 L475.02,978.63 L475.00,977.00 L474.99,975.36 L474.98,973.69 L474.99,971.98 L475.04,970.25 L475.14,968.52 L475.30,966.80 L475.54,965.07 L475.84,963.32 L476.19,961.57 L476.58,959.84 L476.99,958.14 L477.40,956.50 L477.85,954.98 L478.35,953.57 L478.88,952.20 L479.38,950.79 L479.84,949.28 L480.20,947.58 L480.48,945.74 L480.70,943.83 L480.86,941.80 L480.98,939.63 L481.06,937.29 L481.10,934.74 L481.07,931.97 L480.94,929.04 L480.78,925.92 L480.62,922.63 L480.51,919.16 L480.50,915.52 L480.61,911.64 L480.80,907.51 L481.04,903.20 L481.29,898.79 L481.53,894.34 L481.70,889.93 L481.82,885.21 L481.91,880.07 L481.98,874.89 L482.03,870.07 L482.07,866.00 L482.10,863.06 Z" fill="none" stroke="#000" stroke-width="2.80" stroke-linejoin="round"/>
<path d="M516.40,903.26 L516.51,904.03 L516.68,905.09 L516.87,906.35 L517.06,907.70 L517.23,909.04 L517.35,910.25 L517.43,911.36 L517.51,912.42 L517.56,913.48 L517.57,914.54 L517.54,915.63 L517.45,916.76 L517.30,917.93 L517.09,919.12 L516.83,920.33 L516.54,921.58 L516.23,922.88 L515.90,924.24 L515.55,925.69 L515.16,927.21 L514.75,928.79 L514.33,930.39 L513.91,931.99 L513.50,933.57 L513.08,935.16 L512.63,936.78 L512.18,938.41 L511.76,939.99 L511.39,941.50 L511.10,942.89 L510.89,944.13 L510.75,945.24 L510.75,946.27 L510.75,947.27 L510.75,948.30 L510.75,949.40 L510.77,950.56 L510.95,951.73 L511.18,952.92 L511.46,954.15 L511.77,955.43 L512.10,956.79 L512.47,958.23 L512.89,959.75 L513.34,961.33 L513.81,962.93 L514.26,964.53 L514.70,966.11 L515.14,967.69 L515.59,969.29 L516.04,970.89 L516.46,972.47 L516.82,973.99 L517.10,975.44 L517.28,976.82 L517.39,978.17 L517.44,979.47 L517.45,980.70 L517.45,981.85 L517.45,982.92 L517.44,983.90 L517.40,984.80 L517.35,985.63 L517.29,986.37 L517.23,987.03 L517.20,987.58 L517.19,988.01 L517.18,988.33 L517.18,988.55 L517.19,988.71 L517.20,988.83 L517.20,988.94 L504.00,988.94 L504.00,988.83 L504.01,988.71 L504.02,988.55 L504.02,988.33 L504.01,988.01 L504.00,987.58 L503.97,987.03 L503.91,986.37 L503.85,985.63 L503.80,984.80 L503.76,983.90 L503.75,982.92 L503.75,981.85 L503.75,980.70 L503.76,979.47 L503.81,978.17 L503.92,976.82 L504.10,975.44 L504.38,973.99 L504.74,972.47 L505.16,970.89 L505.61,969.29 L506.06,967.69 L506.50,966.11 L506.94,964.53 L507.39,962.93 L507.86,961.33 L508.31,959.75 L508.73,958.23 L509.10,956.79 L509.43,955.43 L509.74,954.15 L510.02,952.92 L510.25,951.73 L510.43,950.56 L510.45,949.40 L510.45,948.30 L510.45,947.27 L510.45,946.27 L510.45,945.24 L510.31,944.13 L510.10,942.89 L509.81,941.50 L509.44,939.99 L509.02,938.41 L508.57,936.78 L508.12,935.16 L507.70,933.57 L507.29,931.99 L506.87,930.39 L506.45,928.79 L506.04,927.21 L505.65,925.69 L505.30,924.24 L504.97,922.88 L504.66,921.58 L504.37,920.33 L504.11,919.12 L503.90,917.93 L503.75,916.76 L503.66,915.63 L503.63,914.54 L503.64,913.48 L503.69,912.42 L503.77,911.36 L503.85,910.25 L503.97,909.04 L504.14,907.70 L504.33,906.35 L504.52,905.09 L504.69,904.03 L504.80,903.26 Z" fill="#ffffff" stroke="none"/>
<line x1="503.63" y1="914.50" x2="517.57" y2="914.50" stroke="#8a8a8a" stroke-width="0.8"/>
<line x1="504.02" y1="988.50" x2="517.18" y2="988.50" stroke="#8a8a8a" stroke-width="0.8"/>
<path d="M516.40,903.26 L516.51,904.03 L516.68,905.09 L516.87,906.35 L517.06,907.70 L517.23,909.04 L517.35,910.25 L517.43,911.36 L517.51,912.42 L517.56,913.48 L517.57,914.54 L517.54,915.63 L517.45,916.76 L517.30,917.93 L517.09,919.12 L516.83,920.33 L516.54,921.58 L516.23,922.88 L515.90,924.24 L515.55,925.69 L515.16,927.21 L514.75,928.79 L514.33,930.39 L513.91,931.99 L513.50,933.57 L513.08,935.16 L512.63,936.78 L512.18,938.41 L511.76,939.99 L511.39,941.50 L511.10,942.89 L510.89,944.13 L510.75,945.24 L510.75,946.27 L510.75,947.27 L510.75,948.30 L510.75,949.40 L510.77,950.56 L510.95,951.73 L511.18,952.92 L511.46,954.15 L511.77,955.43 L512.10,956.79 L512.47,958.23 L512.89,959.75 L513.34,961.33 L513.81,962.93 L514.26,964.53 L514.70,966.11 L515.14,967.69 L515.59,969.29 L516.04,970.89 L516.46,972.47 L516.82,973.99 L517.10,975.44 L517.28,976.82 L517.39,978.17 L517.44,979.47 L517.45,980.70 L517.45,981.85 L517.45,982.92 L517.44,983.90 L517.40,984.80 L517.35,985.63 L517.29,986.37 L517.23,987.03 L517.20,987.58 L517.19,988.01 L517.18,988.33 L517.18,988.55 L517.19,988.71 L517.20,988.83 L517.20,988.94 L504.00,988.94 L504.00,988.83 L504.01,988.71 L504.02,988.55 L504.02,988.33 L504.01,988.01 L504.00,987.58 L503.97,987.03 L503.91,986.37 L503.85,985.63 L503.80,984.80 L503.76,983.90 L503.75,982.92 L503.75,981.85 L503.75,980.70 L503.76,979.47 L503.81,978.17 L503.92,976.82 L504.10,975.44 L504.38,973.99 L504.74,972.47 L505.16,970.89 L505.61,969.29 L506.06,967.69 L506.50,966.11 L506.94,964.53 L507.39,962.93 L507.86,961.33 L508.31,959.75 L508.73,958.23 L509.10,956.79 L509.43,955.43 L509.74,954.15 L510.02,952.92 L510.25,951.73 L510.43,950.56 L510.45,949.40 L510.45,948.30 L510.45,947.27 L510.45,946.27 L510.45,945.24 L510.31,944.13 L510.10,942.89 L509.81,941.50 L509.44,939.99 L509.02,938.41 L508.57,936.78 L508.12,935.16 L507.70,933.57 L507.29,931.99 L506.87,930.39 L506.45,928.79 L506.04,927.21 L505.65,925.69 L505.30,924.24 L504.97,922.88 L504.66,921.58 L504.37,920.33 L504.11,919.12 L503.90,917.93 L503.75,916.76 L503.66,915.63 L503.63,914.54 L503.64,913.48 L503.69,912.42 L503.77,911.36 L503.85,910.25 L503.97,909.04 L504.14,907.70 L504.33,906.35 L504.52,905.09 L504.69,904.03 L504.80,903.26 Z" fill="none" stroke="#000" stroke-width="2.80" stroke-linejoin="round"/>
<text x="337.10" y="936.90" font-family='"Liberation Sans", "Noto Sans CJK JP", sans-serif' font-size="14.00" font-weight="500" text-anchor="middle" fill="#000" transform="rotate(-90 337.10 936.90)">血清IgG抗体価</text>
<text x="415.50" y="817.00" font-family='"Liberation Sans", Arial, Helvetica, sans-serif' font-size="17.80" font-weight="normal" text-anchor="start" fill="#000" >P = 0.0999</text>
<path d="M636.70,809.40 V1037.20 H786.40" fill="none" stroke="#000" stroke-width="2.1" stroke-linecap="butt"/>
<line x1="629.20" y1="1037.20" x2="636.70" y2="1037.20" stroke="#000" stroke-width="2.1"/>
<text x="625.70" y="1042.80" font-family='"Liberation Sans", Arial, Helvetica, sans-serif' font-size="14.50" font-weight="bold" text-anchor="end" fill="#000" stroke="#000" stroke-width="0.25">-5</text>
<line x1="629.20" y1="999.40" x2="636.70" y2="999.40" stroke="#000" stroke-width="2.1"/>
<text x="625.70" y="1005.00" font-family='"Liberation Sans", Arial, Helvetica, sans-serif' font-size="14.50" font-weight="bold" text-anchor="end" fill="#000" stroke="#000" stroke-width="0.25">0</text>
<line x1="629.20" y1="961.60" x2="636.70" y2="961.60" stroke="#000" stroke-width="2.1"/>
<text x="625.70" y="967.20" font-family='"Liberation Sans", Arial, Helvetica, sans-serif' font-size="14.50" font-weight="bold" text-anchor="end" fill="#000" stroke="#000" stroke-width="0.25">5</text>
<line x1="629.20" y1="923.80" x2="636.70" y2="923.80" stroke="#000" stroke-width="2.1"/>
<text x="625.70" y="929.40" font-family='"Liberation Sans", Arial, Helvetica, sans-serif' font-size="14.50" font-weight="bold" text-anchor="end" fill="#000" stroke="#000" stroke-width="0.25">10</text>
<line x1="629.20" y1="886.00" x2="636.70" y2="886.00" stroke="#000" stroke-width="2.1"/>
<text x="625.70" y="891.60" font-family='"Liberation Sans", Arial, Helvetica, sans-serif' font-size="14.50" font-weight="bold" text-anchor="end" fill="#000" stroke="#000" stroke-width="0.25">15</text>
<line x1="629.20" y1="848.20" x2="636.70" y2="848.20" stroke="#000" stroke-width="2.1"/>
<text x="625.70" y="853.80" font-family='"Liberation Sans", Arial, Helvetica, sans-serif' font-size="14.50" font-weight="bold" text-anchor="end" fill="#000" stroke="#000" stroke-width="0.25">20</text>
<line x1="629.20" y1="810.40" x2="636.70" y2="810.40" stroke="#000" stroke-width="2.1"/>
<text x="625.70" y="816.00" font-family='"Liberation Sans", Arial, Helvetica, sans-serif' font-size="14.50" font-weight="bold" text-anchor="end" fill="#000" stroke="#000" stroke-width="0.25">25</text>
<line x1="654.70" y1="1037.20" x2="654.70" y2="1044.70" stroke="#000" stroke-width="2.1"/>
<line x1="683.50" y1="1037.20" x2="683.50" y2="1044.70" stroke="#000" stroke-width="2.1"/>
<line x1="711.80" y1="1037.20" x2="711.80" y2="1044.70" stroke="#000" stroke-width="2.1"/>
<line x1="740.00" y1="1037.20" x2="740.00" y2="1044.70" stroke="#000" stroke-width="2.1"/>
<line x1="768.20" y1="1037.20" x2="768.20" y2="1044.70" stroke="#000" stroke-width="2.1"/>
<line x1="636.20" y1="991.84" x2="786.40" y2="991.84" stroke="#cf553c" stroke-width="1.9" stroke-dasharray="6,3.34"/>
<line x1="629.20" y1="991.84" x2="636.70" y2="991.84" stroke="#000" stroke-width="2.1"/>
<path d="M656.00,977.96 L655.99,978.46 L655.97,979.17 L655.95,980.01 L655.92,980.89 L655.89,981.73 L655.85,982.45 L655.80,983.04 L655.73,983.58 L655.65,984.08 L655.65,984.56 L655.65,985.05 L655.65,985.56 L655.65,986.09 L655.65,986.60 L655.65,987.13 L655.65,987.67 L655.65,988.24 L655.70,988.86 L655.80,989.55 L655.91,990.32 L656.04,991.11 L656.20,991.90 L656.42,992.66 L656.70,993.35 L657.06,993.96 L657.50,994.51 L657.99,995.03 L658.50,995.53 L659.01,996.04 L659.50,996.55 L659.99,997.10 L660.51,997.65 L661.04,998.20 L661.53,998.74 L661.96,999.26 L662.30,999.76 L662.55,1000.23 L662.73,1000.69 L662.86,1001.13 L662.92,1001.55 L662.94,1001.95 L662.90,1002.33 L662.80,1002.68 L662.63,1003.01 L662.41,1003.32 L662.16,1003.61 L661.88,1003.89 L661.60,1004.16 L661.28,1004.42 L660.91,1004.67 L660.52,1004.91 L660.14,1005.13 L659.83,1005.31 L659.60,1005.44 L651.40,1005.44 L651.17,1005.31 L650.86,1005.13 L650.48,1004.91 L650.09,1004.67 L649.72,1004.42 L649.40,1004.16 L649.12,1003.89 L648.84,1003.61 L648.59,1003.32 L648.37,1003.01 L648.20,1002.68 L648.10,1002.33 L648.06,1001.95 L648.08,1001.55 L648.14,1001.13 L648.27,1000.69 L648.45,1000.23 L648.70,999.76 L649.04,999.26 L649.47,998.74 L649.96,998.20 L650.49,997.65 L651.01,997.10 L651.50,996.55 L651.99,996.04 L652.50,995.53 L653.01,995.03 L653.50,994.51 L653.94,993.96 L654.30,993.35 L654.58,992.66 L654.80,991.90 L654.96,991.11 L655.09,990.32 L655.20,989.55 L655.30,988.86 L655.35,988.24 L655.35,987.67 L655.35,987.13 L655.35,986.60 L655.35,986.09 L655.35,985.56 L655.35,985.05 L655.35,984.56 L655.35,984.08 L655.27,983.58 L655.20,983.04 L655.15,982.45 L655.11,981.73 L655.08,980.89 L655.05,980.01 L655.03,979.17 L655.01,978.46 L655.00,977.96 Z" fill="#cf2286" stroke="none"/>
<line x1="648.07" y1="1002.00" x2="662.93" y2="1002.00" stroke="#8a0a48" stroke-width="1.2" stroke-dasharray="3,2"/>
<path d="M656.00,977.96 L655.99,978.46 L655.97,979.17 L655.95,980.01 L655.92,980.89 L655.89,981.73 L655.85,982.45 L655.80,983.04 L655.73,983.58 L655.65,984.08 L655.65,984.56 L655.65,985.05 L655.65,985.56 L655.65,986.09 L655.65,986.60 L655.65,987.13 L655.65,987.67 L655.65,988.24 L655.70,988.86 L655.80,989.55 L655.91,990.32 L656.04,991.11 L656.20,991.90 L656.42,992.66 L656.70,993.35 L657.06,993.96 L657.50,994.51 L657.99,995.03 L658.50,995.53 L659.01,996.04 L659.50,996.55 L659.99,997.10 L660.51,997.65 L661.04,998.20 L661.53,998.74 L661.96,999.26 L662.30,999.76 L662.55,1000.23 L662.73,1000.69 L662.86,1001.13 L662.92,1001.55 L662.94,1001.95 L662.90,1002.33 L662.80,1002.68 L662.63,1003.01 L662.41,1003.32 L662.16,1003.61 L661.88,1003.89 L661.60,1004.16 L661.28,1004.42 L660.91,1004.67 L660.52,1004.91 L660.14,1005.13 L659.83,1005.31 L659.60,1005.44 L651.40,1005.44 L651.17,1005.31 L650.86,1005.13 L650.48,1004.91 L650.09,1004.67 L649.72,1004.42 L649.40,1004.16 L649.12,1003.89 L648.84,1003.61 L648.59,1003.32 L648.37,1003.01 L648.20,1002.68 L648.10,1002.33 L648.06,1001.95 L648.08,1001.55 L648.14,1001.13 L648.27,1000.69 L648.45,1000.23 L648.70,999.76 L649.04,999.26 L649.47,998.74 L649.96,998.20 L650.49,997.65 L651.01,997.10 L651.50,996.55 L651.99,996.04 L652.50,995.53 L653.01,995.03 L653.50,994.51 L653.94,993.96 L654.30,993.35 L654.58,992.66 L654.80,991.90 L654.96,991.11 L655.09,990.32 L655.20,989.55 L655.30,988.86 L655.35,988.24 L655.35,987.67 L655.35,987.13 L655.35,986.60 L655.35,986.09 L655.35,985.56 L655.35,985.05 L655.35,984.56 L655.35,984.08 L655.27,983.58 L655.20,983.04 L655.15,982.45 L655.11,981.73 L655.08,980.89 L655.05,980.01 L655.03,979.17 L655.01,978.46 L655.00,977.96 Z" fill="none" stroke="#000" stroke-width="2.80" stroke-linejoin="round"/>
<path d="M684.60,964.66 L684.55,965.23 L684.47,966.03 L684.38,966.97 L684.29,967.98 L684.23,968.99 L684.20,969.93 L684.23,970.83 L684.31,971.76 L684.42,972.69 L684.52,973.59 L684.59,974.43 L684.60,975.20 L684.53,975.86 L684.40,976.44 L684.23,976.97 L684.07,977.47 L683.95,977.96 L683.90,978.49 L683.95,979.03 L684.07,979.56 L684.23,980.10 L684.40,980.64 L684.53,981.20 L684.60,981.78 L684.56,982.40 L684.44,983.05 L684.29,983.72 L684.16,984.39 L684.11,985.07 L684.20,985.73 L684.48,986.39 L684.91,987.05 L685.43,987.71 L685.94,988.37 L686.39,989.03 L686.70,989.69 L686.84,990.35 L686.86,991.03 L686.81,991.70 L686.74,992.37 L686.69,993.02 L686.70,993.64 L686.75,994.23 L686.80,994.81 L686.88,995.37 L686.99,995.91 L687.15,996.43 L687.40,996.93 L687.77,997.41 L688.24,997.86 L688.78,998.29 L689.32,998.71 L689.81,999.13 L690.20,999.57 L690.49,1000.02 L690.74,1000.48 L690.93,1000.95 L691.07,1001.40 L691.16,1001.82 L691.20,1002.20 L691.17,1002.53 L691.06,1002.83 L690.91,1003.11 L690.71,1003.35 L690.51,1003.58 L690.30,1003.80 L690.07,1004.00 L689.79,1004.20 L689.49,1004.37 L689.21,1004.52 L688.97,1004.65 L688.80,1004.74 L678.60,1004.74 L678.43,1004.65 L678.19,1004.52 L677.91,1004.37 L677.61,1004.20 L677.33,1004.00 L677.10,1003.80 L676.89,1003.58 L676.69,1003.35 L676.49,1003.11 L676.34,1002.83 L676.23,1002.53 L676.20,1002.20 L676.24,1001.82 L676.33,1001.40 L676.47,1000.95 L676.66,1000.48 L676.91,1000.02 L677.20,999.57 L677.59,999.13 L678.08,998.71 L678.62,998.29 L679.16,997.86 L679.63,997.41 L680.00,996.93 L680.25,996.43 L680.41,995.91 L680.53,995.37 L680.60,994.81 L680.65,994.23 L680.70,993.64 L680.71,993.02 L680.66,992.37 L680.59,991.70 L680.54,991.03 L680.56,990.35 L680.70,989.69 L681.01,989.03 L681.46,988.37 L681.98,987.71 L682.49,987.05 L682.92,986.39 L683.20,985.73 L683.29,985.07 L683.24,984.39 L683.11,983.72 L682.96,983.05 L682.84,982.40 L682.80,981.78 L682.87,981.20 L683.00,980.64 L683.17,980.10 L683.33,979.56 L683.45,979.03 L683.50,978.49 L683.45,977.96 L683.33,977.47 L683.17,976.97 L683.00,976.44 L682.87,975.86 L682.80,975.20 L682.81,974.43 L682.88,973.59 L682.98,972.69 L683.09,971.76 L683.17,970.83 L683.20,969.93 L683.18,968.99 L683.11,967.98 L683.03,966.97 L682.93,966.03 L682.85,965.23 L682.80,964.66 Z" fill="#14f2ee" stroke="none"/>
<path d="M684.60,964.66 L684.55,965.23 L684.47,966.03 L684.38,966.97 L684.29,967.98 L684.23,968.99 L684.20,969.93 L684.23,970.83 L684.31,971.76 L684.42,972.69 L684.52,973.59 L684.59,974.43 L684.60,975.20 L684.53,975.86 L684.40,976.44 L684.23,976.97 L684.07,977.47 L683.95,977.96 L683.90,978.49 L683.95,979.03 L684.07,979.56 L684.23,980.10 L684.40,980.64 L684.53,981.20 L684.60,981.78 L684.56,982.40 L684.44,983.05 L684.29,983.72 L684.16,984.39 L684.11,985.07 L684.20,985.73 L684.48,986.39 L684.91,987.05 L685.43,987.71 L685.94,988.37 L686.39,989.03 L686.70,989.69 L686.84,990.35 L686.86,991.03 L686.81,991.70 L686.74,992.37 L686.69,993.02 L686.70,993.64 L686.75,994.23 L686.80,994.81 L686.88,995.37 L686.99,995.91 L687.15,996.43 L687.40,996.93 L687.77,997.41 L688.24,997.86 L688.78,998.29 L689.32,998.71 L689.81,999.13 L690.20,999.57 L690.49,1000.02 L690.74,1000.48 L690.93,1000.95 L691.07,1001.40 L691.16,1001.82 L691.20,1002.20 L691.17,1002.53 L691.06,1002.83 L690.91,1003.11 L690.71,1003.35 L690.51,1003.58 L690.30,1003.80 L690.07,1004.00 L689.79,1004.20 L689.49,1004.37 L689.21,1004.52 L688.97,1004.65 L688.80,1004.74 L678.60,1004.74 L678.43,1004.65 L678.19,1004.52 L677.91,1004.37 L677.61,1004.20 L677.33,1004.00 L677.10,1003.80 L676.89,1003.58 L676.69,1003.35 L676.49,1003.11 L676.34,1002.83 L676.23,1002.53 L676.20,1002.20 L676.24,1001.82 L676.33,1001.40 L676.47,1000.95 L676.66,1000.48 L676.91,1000.02 L677.20,999.57 L677.59,999.13 L678.08,998.71 L678.62,998.29 L679.16,997.86 L679.63,997.41 L680.00,996.93 L680.25,996.43 L680.41,995.91 L680.53,995.37 L680.60,994.81 L680.65,994.23 L680.70,993.64 L680.71,993.02 L680.66,992.37 L680.59,991.70 L680.54,991.03 L680.56,990.35 L680.70,989.69 L681.01,989.03 L681.46,988.37 L681.98,987.71 L682.49,987.05 L682.92,986.39 L683.20,985.73 L683.29,985.07 L683.24,984.39 L683.11,983.72 L682.96,983.05 L682.84,982.40 L682.80,981.78 L682.87,981.20 L683.00,980.64 L683.17,980.10 L683.33,979.56 L683.45,979.03 L683.50,978.49 L683.45,977.96 L683.33,977.47 L683.17,976.97 L683.00,976.44 L682.87,975.86 L682.80,975.20 L682.81,974.43 L682.88,973.59 L682.98,972.69 L683.09,971.76 L683.17,970.83 L683.20,969.93 L683.18,968.99 L683.11,967.98 L683.03,966.97 L682.93,966.03 L682.85,965.23 L682.80,964.66 Z" fill="none" stroke="#000" stroke-width="2.80" stroke-linejoin="round"/>
<path d="M713.70,935.36 L713.63,935.66 L713.54,936.07 L713.43,936.57 L713.31,937.10 L713.20,937.64 L713.10,938.16 L713.01,938.52 L712.92,938.74 L712.84,938.97 L712.76,939.36 L712.68,940.06 L712.60,941.25 L712.52,943.01 L712.45,945.25 L712.45,947.81 L712.45,950.53 L712.45,953.25 L712.45,955.81 L712.45,958.36 L712.45,961.02 L712.45,963.70 L712.45,966.24 L712.49,968.55 L712.60,970.48 L712.74,971.97 L712.92,973.12 L713.12,974.01 L713.30,974.77 L713.45,975.48 L713.55,976.27 L713.55,977.09 L713.48,977.85 L713.37,978.58 L713.28,979.28 L713.24,979.99 L713.30,980.71 L713.48,981.43 L713.74,982.13 L714.06,982.83 L714.41,983.55 L714.76,984.28 L715.10,985.05 L715.43,985.85 L715.77,986.67 L716.12,987.51 L716.47,988.37 L716.82,989.26 L717.15,990.16 L717.48,991.11 L717.82,992.12 L718.15,993.15 L718.47,994.17 L718.75,995.15 L719.00,996.05 L719.21,996.88 L719.41,997.67 L719.57,998.42 L719.70,999.13 L719.78,999.78 L719.80,1000.39 L719.76,1000.94 L719.65,1001.43 L719.49,1001.87 L719.31,1002.27 L719.10,1002.65 L718.90,1002.99 L718.67,1003.32 L718.39,1003.61 L718.09,1003.88 L717.81,1004.11 L717.57,1004.30 L717.40,1004.44 L707.20,1004.44 L707.03,1004.30 L706.79,1004.11 L706.51,1003.88 L706.21,1003.61 L705.93,1003.32 L705.70,1002.99 L705.50,1002.65 L705.29,1002.27 L705.11,1001.87 L704.95,1001.43 L704.84,1000.94 L704.80,1000.39 L704.82,999.78 L704.90,999.13 L705.03,998.42 L705.19,997.67 L705.39,996.88 L705.60,996.05 L705.85,995.15 L706.13,994.17 L706.45,993.15 L706.78,992.12 L707.12,991.11 L707.45,990.16 L707.78,989.26 L708.13,988.37 L708.48,987.51 L708.83,986.67 L709.17,985.85 L709.50,985.05 L709.84,984.28 L710.19,983.55 L710.54,982.83 L710.86,982.13 L711.12,981.43 L711.30,980.71 L711.36,979.99 L711.32,979.28 L711.23,978.58 L711.12,977.85 L711.05,977.09 L711.05,976.27 L711.15,975.48 L711.30,974.77 L711.48,974.01 L711.68,973.12 L711.86,971.97 L712.00,970.48 L712.11,968.55 L712.15,966.24 L712.15,963.70 L712.15,961.02 L712.15,958.36 L712.15,955.81 L712.15,953.25 L712.15,950.53 L712.15,947.81 L712.15,945.25 L712.08,943.01 L712.00,941.25 L711.92,940.06 L711.84,939.36 L711.76,938.97 L711.68,938.74 L711.59,938.52 L711.50,938.16 L711.40,937.64 L711.29,937.10 L711.17,936.57 L711.06,936.07 L710.97,935.66 L710.90,935.36 Z" fill="#0c32f0" stroke="none"/>
<path d="M713.70,935.36 L713.63,935.66 L713.54,936.07 L713.43,936.57 L713.31,937.10 L713.20,937.64 L713.10,938.16 L713.01,938.52 L712.92,938.74 L712.84,938.97 L712.76,939.36 L712.68,940.06 L712.60,941.25 L712.52,943.01 L712.45,945.25 L712.45,947.81 L712.45,950.53 L712.45,953.25 L712.45,955.81 L712.45,958.36 L712.45,961.02 L712.45,963.70 L712.45,966.24 L712.49,968.55 L712.60,970.48 L712.74,971.97 L712.92,973.12 L713.12,974.01 L713.30,974.77 L713.45,975.48 L713.55,976.27 L713.55,977.09 L713.48,977.85 L713.37,978.58 L713.28,979.28 L713.24,979.99 L713.30,980.71 L713.48,981.43 L713.74,982.13 L714.06,982.83 L714.41,983.55 L714.76,984.28 L715.10,985.05 L715.43,985.85 L715.77,986.67 L716.12,987.51 L716.47,988.37 L716.82,989.26 L717.15,990.16 L717.48,991.11 L717.82,992.12 L718.15,993.15 L718.47,994.17 L718.75,995.15 L719.00,996.05 L719.21,996.88 L719.41,997.67 L719.57,998.42 L719.70,999.13 L719.78,999.78 L719.80,1000.39 L719.76,1000.94 L719.65,1001.43 L719.49,1001.87 L719.31,1002.27 L719.10,1002.65 L718.90,1002.99 L718.67,1003.32 L718.39,1003.61 L718.09,1003.88 L717.81,1004.11 L717.57,1004.30 L717.40,1004.44 L707.20,1004.44 L707.03,1004.30 L706.79,1004.11 L706.51,1003.88 L706.21,1003.61 L705.93,1003.32 L705.70,1002.99 L705.50,1002.65 L705.29,1002.27 L705.11,1001.87 L704.95,1001.43 L704.84,1000.94 L704.80,1000.39 L704.82,999.78 L704.90,999.13 L705.03,998.42 L705.19,997.67 L705.39,996.88 L705.60,996.05 L705.85,995.15 L706.13,994.17 L706.45,993.15 L706.78,992.12 L707.12,991.11 L707.45,990.16 L707.78,989.26 L708.13,988.37 L708.48,987.51 L708.83,986.67 L709.17,985.85 L709.50,985.05 L709.84,984.28 L710.19,983.55 L710.54,982.83 L710.86,982.13 L711.12,981.43 L711.30,980.71 L711.36,979.99 L711.32,979.28 L711.23,978.58 L711.12,977.85 L711.05,977.09 L711.05,976.27 L711.15,975.48 L711.30,974.77 L711.48,974.01 L711.68,973.12 L711.86,971.97 L712.00,970.48 L712.11,968.55 L712.15,966.24 L712.15,963.70 L712.15,961.02 L712.15,958.36 L712.15,955.81 L712.15,953.25 L712.15,950.53 L712.15,947.81 L712.15,945.25 L712.08,943.01 L712.00,941.25 L711.92,940.06 L711.84,939.36 L711.76,938.97 L711.68,938.74 L711.59,938.52 L711.50,938.16 L711.40,937.64 L711.29,937.10 L711.17,936.57 L711.06,936.07 L710.97,935.66 L710.90,935.36 Z" fill="none" stroke="#000" stroke-width="2.80" stroke-linejoin="round"/>
<path d="M741.60,950.16 L741.54,950.46 L741.46,950.87 L741.37,951.35 L741.27,951.90 L741.18,952.50 L741.10,953.12 L741.03,953.78 L740.97,954.49 L740.91,955.24 L740.86,956.03 L740.82,956.85 L740.80,957.71 L740.79,958.59 L740.80,959.51 L740.81,960.46 L740.85,961.44 L740.91,962.47 L741.00,963.54 L741.16,964.67 L741.38,965.86 L741.63,967.09 L741.86,968.33 L742.03,969.58 L742.10,970.80 L742.03,972.00 L741.84,973.19 L741.59,974.39 L741.34,975.58 L741.12,976.77 L741.00,977.97 L740.97,979.21 L740.98,980.49 L741.04,981.77 L741.13,983.02 L741.25,984.19 L741.40,985.23 L741.57,986.13 L741.76,986.91 L741.99,987.61 L742.25,988.28 L742.55,988.93 L742.90,989.63 L743.32,990.35 L743.82,991.07 L744.36,991.78 L744.91,992.50 L745.43,993.21 L745.90,993.93 L746.34,994.65 L746.77,995.39 L747.19,996.12 L747.55,996.84 L747.83,997.55 L748.00,998.23 L748.05,998.88 L748.00,999.53 L747.86,1000.15 L747.67,1000.75 L747.44,1001.32 L747.20,1001.86 L746.90,1002.38 L746.52,1002.89 L746.10,1003.38 L745.69,1003.81 L745.34,1004.17 L745.10,1004.44 L735.90,1004.44 L735.66,1004.17 L735.31,1003.81 L734.90,1003.38 L734.48,1002.89 L734.10,1002.38 L733.80,1001.86 L733.56,1001.32 L733.33,1000.75 L733.14,1000.15 L733.00,999.53 L732.95,998.88 L733.00,998.23 L733.17,997.55 L733.45,996.84 L733.81,996.12 L734.23,995.39 L734.66,994.65 L735.10,993.93 L735.57,993.21 L736.09,992.50 L736.64,991.78 L737.18,991.07 L737.68,990.35 L738.10,989.63 L738.45,988.93 L738.75,988.28 L739.01,987.61 L739.24,986.91 L739.43,986.13 L739.60,985.23 L739.75,984.19 L739.87,983.02 L739.96,981.77 L740.02,980.49 L740.03,979.21 L740.00,977.97 L739.88,976.77 L739.66,975.58 L739.41,974.39 L739.16,973.19 L738.97,972.00 L738.90,970.80 L738.97,969.58 L739.14,968.33 L739.37,967.09 L739.62,965.86 L739.84,964.67 L740.00,963.54 L740.09,962.47 L740.15,961.44 L740.19,960.46 L740.20,959.51 L740.21,958.59 L740.20,957.71 L740.18,956.85 L740.14,956.03 L740.09,955.24 L740.03,954.49 L739.97,953.78 L739.90,953.12 L739.82,952.50 L739.73,951.90 L739.63,951.35 L739.54,950.87 L739.46,950.46 L739.40,950.16 Z" fill="#0c1c98" stroke="none"/>
<path d="M741.60,950.16 L741.54,950.46 L741.46,950.87 L741.37,951.35 L741.27,951.90 L741.18,952.50 L741.10,953.12 L741.03,953.78 L740.97,954.49 L740.91,955.24 L740.86,956.03 L740.82,956.85 L740.80,957.71 L740.79,958.59 L740.80,959.51 L740.81,960.46 L740.85,961.44 L740.91,962.47 L741.00,963.54 L741.16,964.67 L741.38,965.86 L741.63,967.09 L741.86,968.33 L742.03,969.58 L742.10,970.80 L742.03,972.00 L741.84,973.19 L741.59,974.39 L741.34,975.58 L741.12,976.77 L741.00,977.97 L740.97,979.21 L740.98,980.49 L741.04,981.77 L741.13,983.02 L741.25,984.19 L741.40,985.23 L741.57,986.13 L741.76,986.91 L741.99,987.61 L742.25,988.28 L742.55,988.93 L742.90,989.63 L743.32,990.35 L743.82,991.07 L744.36,991.78 L744.91,992.50 L745.43,993.21 L745.90,993.93 L746.34,994.65 L746.77,995.39 L747.19,996.12 L747.55,996.84 L747.83,997.55 L748.00,998.23 L748.05,998.88 L748.00,999.53 L747.86,1000.15 L747.67,1000.75 L747.44,1001.32 L747.20,1001.86 L746.90,1002.38 L746.52,1002.89 L746.10,1003.38 L745.69,1003.81 L745.34,1004.17 L745.10,1004.44 L735.90,1004.44 L735.66,1004.17 L735.31,1003.81 L734.90,1003.38 L734.48,1002.89 L734.10,1002.38 L733.80,1001.86 L733.56,1001.32 L733.33,1000.75 L733.14,1000.15 L733.00,999.53 L732.95,998.88 L733.00,998.23 L733.17,997.55 L733.45,996.84 L733.81,996.12 L734.23,995.39 L734.66,994.65 L735.10,993.93 L735.57,993.21 L736.09,992.50 L736.64,991.78 L737.18,991.07 L737.68,990.35 L738.10,989.63 L738.45,988.93 L738.75,988.28 L739.01,987.61 L739.24,986.91 L739.43,986.13 L739.60,985.23 L739.75,984.19 L739.87,983.02 L739.96,981.77 L740.02,980.49 L740.03,979.21 L740.00,977.97 L739.88,976.77 L739.66,975.58 L739.41,974.39 L739.16,973.19 L738.97,972.00 L738.90,970.80 L738.97,969.58 L739.14,968.33 L739.37,967.09 L739.62,965.86 L739.84,964.67 L740.00,963.54 L740.09,962.47 L740.15,961.44 L740.19,960.46 L740.20,959.51 L740.21,958.59 L740.20,957.71 L740.18,956.85 L740.14,956.03 L740.09,955.24 L740.03,954.49 L739.97,953.78 L739.90,953.12 L739.82,952.50 L739.73,951.90 L739.63,951.35 L739.54,950.87 L739.46,950.46 L739.40,950.16 Z" fill="none" stroke="#000" stroke-width="2.80" stroke-linejoin="round"/>
<path d="M770.30,843.96 L770.27,844.73 L770.23,845.79 L770.17,847.05 L770.12,848.42 L770.06,849.81 L770.00,851.15 L769.94,852.27 L769.89,853.23 L769.82,854.21 L769.76,855.41 L769.69,857.02 L769.60,859.22 L769.49,862.25 L769.37,865.99 L769.24,870.14 L769.11,874.39 L768.99,878.44 L768.95,881.96 L768.95,884.94 L768.95,887.61 L768.95,890.07 L768.95,892.42 L768.95,894.77 L768.95,897.22 L768.95,899.76 L768.95,902.28 L769.11,904.81 L769.30,907.33 L769.50,909.86 L769.70,912.38 L769.90,914.91 L770.12,917.44 L770.35,919.96 L770.58,922.49 L770.80,925.01 L771.00,927.55 L771.18,930.09 L771.35,932.63 L771.51,935.18 L771.67,937.72 L771.83,940.27 L772.00,942.81 L772.18,945.34 L772.36,947.86 L772.54,950.39 L772.72,952.91 L772.91,955.44 L773.10,957.97 L773.29,960.54 L773.49,963.16 L773.69,965.79 L773.89,968.37 L774.09,970.87 L774.30,973.23 L774.52,975.46 L774.76,977.61 L775.01,979.67 L775.24,981.64 L775.44,983.53 L775.60,985.34 L775.71,987.05 L775.78,988.67 L775.82,990.20 L775.85,991.67 L775.87,993.09 L775.90,994.49 L775.93,995.91 L775.95,997.34 L775.97,998.72 L775.98,1000.00 L775.99,1001.14 L776.00,1002.08 L776.01,1002.79 L776.01,1003.31 L776.01,1003.68 L776.00,1003.95 L776.00,1004.16 L776.00,1004.34 L761.60,1004.34 L761.60,1004.16 L761.60,1003.95 L761.59,1003.68 L761.59,1003.31 L761.59,1002.79 L761.60,1002.08 L761.61,1001.14 L761.62,1000.00 L761.63,998.72 L761.65,997.34 L761.67,995.91 L761.70,994.49 L761.73,993.09 L761.75,991.67 L761.77,990.20 L761.82,988.67 L761.89,987.05 L762.00,985.34 L762.16,983.53 L762.36,981.64 L762.59,979.67 L762.84,977.61 L763.08,975.46 L763.30,973.23 L763.51,970.87 L763.71,968.37 L763.91,965.79 L764.11,963.16 L764.31,960.54 L764.50,957.97 L764.69,955.44 L764.88,952.91 L765.06,950.39 L765.24,947.86 L765.42,945.34 L765.60,942.81 L765.77,940.27 L765.93,937.72 L766.09,935.18 L766.25,932.63 L766.42,930.09 L766.60,927.55 L766.80,925.01 L767.02,922.49 L767.25,919.96 L767.48,917.44 L767.70,914.91 L767.90,912.38 L768.10,909.86 L768.30,907.33 L768.49,904.81 L768.65,902.28 L768.65,899.76 L768.65,897.22 L768.65,894.77 L768.65,892.42 L768.65,890.07 L768.65,887.61 L768.65,884.94 L768.65,881.96 L768.61,878.44 L768.49,874.39 L768.36,870.14 L768.23,865.99 L768.11,862.25 L768.00,859.22 L767.91,857.02 L767.84,855.41 L767.77,854.21 L767.71,853.23 L767.66,852.27 L767.60,851.15 L767.54,849.81 L767.48,848.42 L767.42,847.05 L767.37,845.79 L767.33,844.73 L767.30,843.96 Z" fill="#ffffff" stroke="none"/>
<line x1="766.17" y1="933.80" x2="771.43" y2="933.80" stroke="#8a8a8a" stroke-width="0.8"/>
<line x1="761.89" y1="987.10" x2="775.71" y2="987.10" stroke="#8a8a8a" stroke-width="1.2" stroke-dasharray="3,2"/>
<line x1="761.61" y1="1001.00" x2="775.99" y2="1001.00" stroke="#8a8a8a" stroke-width="0.8"/>
<path d="M770.30,843.96 L770.27,844.73 L770.23,845.79 L770.17,847.05 L770.12,848.42 L770.06,849.81 L770.00,851.15 L769.94,852.27 L769.89,853.23 L769.82,854.21 L769.76,855.41 L769.69,857.02 L769.60,859.22 L769.49,862.25 L769.37,865.99 L769.24,870.14 L769.11,874.39 L768.99,878.44 L768.95,881.96 L768.95,884.94 L768.95,887.61 L768.95,890.07 L768.95,892.42 L768.95,894.77 L768.95,897.22 L768.95,899.76 L768.95,902.28 L769.11,904.81 L769.30,907.33 L769.50,909.86 L769.70,912.38 L769.90,914.91 L770.12,917.44 L770.35,919.96 L770.58,922.49 L770.80,925.01 L771.00,927.55 L771.18,930.09 L771.35,932.63 L771.51,935.18 L771.67,937.72 L771.83,940.27 L772.00,942.81 L772.18,945.34 L772.36,947.86 L772.54,950.39 L772.72,952.91 L772.91,955.44 L773.10,957.97 L773.29,960.54 L773.49,963.16 L773.69,965.79 L773.89,968.37 L774.09,970.87 L774.30,973.23 L774.52,975.46 L774.76,977.61 L775.01,979.67 L775.24,981.64 L775.44,983.53 L775.60,985.34 L775.71,987.05 L775.78,988.67 L775.82,990.20 L775.85,991.67 L775.87,993.09 L775.90,994.49 L775.93,995.91 L775.95,997.34 L775.97,998.72 L775.98,1000.00 L775.99,1001.14 L776.00,1002.08 L776.01,1002.79 L776.01,1003.31 L776.01,1003.68 L776.00,1003.95 L776.00,1004.16 L776.00,1004.34 L761.60,1004.34 L761.60,1004.16 L761.60,1003.95 L761.59,1003.68 L761.59,1003.31 L761.59,1002.79 L761.60,1002.08 L761.61,1001.14 L761.62,1000.00 L761.63,998.72 L761.65,997.34 L761.67,995.91 L761.70,994.49 L761.73,993.09 L761.75,991.67 L761.77,990.20 L761.82,988.67 L761.89,987.05 L762.00,985.34 L762.16,983.53 L762.36,981.64 L762.59,979.67 L762.84,977.61 L763.08,975.46 L763.30,973.23 L763.51,970.87 L763.71,968.37 L763.91,965.79 L764.11,963.16 L764.31,960.54 L764.50,957.97 L764.69,955.44 L764.88,952.91 L765.06,950.39 L765.24,947.86 L765.42,945.34 L765.60,942.81 L765.77,940.27 L765.93,937.72 L766.09,935.18 L766.25,932.63 L766.42,930.09 L766.60,927.55 L766.80,925.01 L767.02,922.49 L767.25,919.96 L767.48,917.44 L767.70,914.91 L767.90,912.38 L768.10,909.86 L768.30,907.33 L768.49,904.81 L768.65,902.28 L768.65,899.76 L768.65,897.22 L768.65,894.77 L768.65,892.42 L768.65,890.07 L768.65,887.61 L768.65,884.94 L768.65,881.96 L768.61,878.44 L768.49,874.39 L768.36,870.14 L768.23,865.99 L768.11,862.25 L768.00,859.22 L767.91,857.02 L767.84,855.41 L767.77,854.21 L767.71,853.23 L767.66,852.27 L767.60,851.15 L767.54,849.81 L767.48,848.42 L767.42,847.05 L767.37,845.79 L767.33,844.73 L767.30,843.96 Z" fill="none" stroke="#000" stroke-width="2.80" stroke-linejoin="round"/>
<text x="590.40" y="936.90" font-family='"Liberation Sans", "Noto Sans CJK JP", sans-serif' font-size="14.00" font-weight="500" text-anchor="middle" fill="#000" transform="rotate(-90 590.40 936.90)">血清IgG抗体価</text>
<text x="680.10" y="817.00" font-family='"Liberation Sans", Arial, Helvetica, sans-serif' font-size="17.80" font-weight="normal" text-anchor="start" fill="#000" >P = 0.0446</text>
<text x="42.00" y="57.50" font-family='"Liberation Sans", Arial, Helvetica, sans-serif' font-size="28.50" font-weight="normal" text-anchor="start" fill="#000" >(A)</text>
<text x="41.50" y="447.70" font-family='"Liberation Sans", Arial, Helvetica, sans-serif' font-size="28.50" font-weight="normal" text-anchor="start" fill="#000" >(B)</text>
<text x="41.00" y="803.20" font-family='"Liberation Sans", Arial, Helvetica, sans-serif' font-size="28.50" font-weight="normal" text-anchor="start" fill="#000" >(C)</text>
<text x="194.80" y="61.30" font-family='"Liberation Sans", Arial, Helvetica, sans-serif' font-size="21.00" font-weight="bold" text-anchor="middle" fill="#000" >Pg W83</text>
<text x="449.60" y="61.30" font-family='"Liberation Sans", Arial, Helvetica, sans-serif' font-size="21.00" font-weight="bold" text-anchor="middle" fill="#000" >Pg FDC381</text>
<text x="701.70" y="61.30" font-family='"Liberation Sans", Arial, Helvetica, sans-serif' font-size="21.00" font-weight="bold" text-anchor="middle" fill="#000" >Pg SU63</text>
<text x="129.50" y="360.00" font-family='"Liberation Sans", "Noto Sans CJK JP", sans-serif' font-size="17.50" font-weight="500" text-anchor="start" fill="#000" letter-spacing="0.4">自然妊娠</text>
<text x="210.00" y="360.00" font-family='"Liberation Sans", "Noto Sans CJK JP", sans-serif' font-size="17.50" font-weight="500" text-anchor="start" fill="#b41e24" letter-spacing="0.4">不妊</text>
<text x="386.40" y="360.00" font-family='"Liberation Sans", "Noto Sans CJK JP", sans-serif' font-size="17.50" font-weight="500" text-anchor="start" fill="#000" letter-spacing="0.4">自然妊娠</text>
<text x="466.00" y="360.00" font-family='"Liberation Sans", "Noto Sans CJK JP", sans-serif' font-size="17.50" font-weight="500" text-anchor="start" fill="#b41e24" letter-spacing="0.4">不妊</text>
<text x="641.70" y="360.00" font-family='"Liberation Sans", "Noto Sans CJK JP", sans-serif' font-size="17.50" font-weight="500" text-anchor="start" fill="#000" letter-spacing="0.4">自然妊娠</text>
<text x="721.50" y="360.00" font-family='"Liberation Sans", "Noto Sans CJK JP", sans-serif' font-size="17.50" font-weight="500" text-anchor="start" fill="#b41e24" letter-spacing="0.4">不妊</text>
<text x="151.00" y="697.80" font-family='"Liberation Sans", "Noto Sans CJK JP", sans-serif' font-size="12.00" font-weight="900" text-anchor="end" fill="#000" transform="rotate(-45 151.00 697.80)">自然妊娠</text>
<text x="183.00" y="698.70" font-family='"Liberation Sans", "Noto Sans CJK JP", sans-serif' font-size="14.00" font-weight="bold" text-anchor="end" fill="#000" stroke="#000" stroke-width="0.3" transform="rotate(-45 183.00 698.70)">30-34</text>
<text x="217.80" y="698.70" font-family='"Liberation Sans", "Noto Sans CJK JP", sans-serif' font-size="14.00" font-weight="bold" text-anchor="end" fill="#000" stroke="#000" stroke-width="0.3" transform="rotate(-45 217.80 698.70)">35-39</text>
<text x="252.40" y="698.70" font-family='"Liberation Sans", "Noto Sans CJK JP", sans-serif' font-size="14.00" font-weight="bold" text-anchor="end" fill="#000" stroke="#000" stroke-width="0.3" transform="rotate(-45 252.40 698.70)">40-</text>
<text x="266.00" y="693.60" font-family='"Liberation Sans", "Noto Sans CJK JP", sans-serif' font-size="12.00" font-weight="900" text-anchor="start" fill="#000" letter-spacing="-0.3">(歳)</text>
<text x="408.00" y="699.40" font-family='"Liberation Sans", "Noto Sans CJK JP", sans-serif' font-size="12.00" font-weight="900" text-anchor="end" fill="#000" transform="rotate(-45 408.00 699.40)">自然妊娠</text>
<text x="440.00" y="700.30" font-family='"Liberation Sans", "Noto Sans CJK JP", sans-serif' font-size="14.00" font-weight="bold" text-anchor="end" fill="#000" stroke="#000" stroke-width="0.3" transform="rotate(-45 440.00 700.30)">30-34</text>
<text x="474.90" y="700.30" font-family='"Liberation Sans", "Noto Sans CJK JP", sans-serif' font-size="14.00" font-weight="bold" text-anchor="end" fill="#000" stroke="#000" stroke-width="0.3" transform="rotate(-45 474.90 700.30)">35-39</text>
<text x="509.40" y="700.30" font-family='"Liberation Sans", "Noto Sans CJK JP", sans-serif' font-size="14.00" font-weight="bold" text-anchor="end" fill="#000" stroke="#000" stroke-width="0.3" transform="rotate(-45 509.40 700.30)">40-</text>
<text x="528.00" y="693.60" font-family='"Liberation Sans", "Noto Sans CJK JP", sans-serif' font-size="12.00" font-weight="900" text-anchor="start" fill="#000" letter-spacing="-0.3">(歳)</text>
<text x="664.80" y="697.50" font-family='"Liberation Sans", "Noto Sans CJK JP", sans-serif' font-size="12.00" font-weight="900" text-anchor="end" fill="#000" transform="rotate(-45 664.80 697.50)">自然妊娠</text>
<text x="696.30" y="698.40" font-family='"Liberation Sans", "Noto Sans CJK JP", sans-serif' font-size="14.00" font-weight="bold" text-anchor="end" fill="#000" stroke="#000" stroke-width="0.3" transform="rotate(-45 696.30 698.40)">30-34</text>
<text x="730.80" y="698.40" font-family='"Liberation Sans", "Noto Sans CJK JP", sans-serif' font-size="14.00" font-weight="bold" text-anchor="end" fill="#000" stroke="#000" stroke-width="0.3" transform="rotate(-45 730.80 698.40)">35-39</text>
<text x="765.00" y="698.40" font-family='"Liberation Sans", "Noto Sans CJK JP", sans-serif' font-size="14.00" font-weight="bold" text-anchor="end" fill="#000" stroke="#000" stroke-width="0.3" transform="rotate(-45 765.00 698.40)">40-</text>
<text x="791.20" y="693.60" font-family='"Liberation Sans", "Noto Sans CJK JP", sans-serif' font-size="12.00" font-weight="900" text-anchor="start" fill="#000" letter-spacing="-0.3">(歳)</text>
<text x="146.10" y="1055.90" font-family='"Liberation Sans", "Noto Sans CJK JP", sans-serif' font-size="12.00" font-weight="900" text-anchor="end" fill="#000" transform="rotate(-45 146.10 1055.90)">自然妊娠</text>
<text x="171.00" y="1057.80" font-family='"Liberation Sans", "Noto Sans CJK JP", sans-serif' font-size="13.00" font-weight="bold" text-anchor="end" fill="#000" stroke="#000" stroke-width="0.3" transform="rotate(-45 171.00 1057.80)">1&lt;</text>
<text x="199.10" y="1057.80" font-family='"Liberation Sans", "Noto Sans CJK JP", sans-serif' font-size="13.00" font-weight="bold" text-anchor="end" fill="#000" stroke="#000" stroke-width="0.3" transform="rotate(-45 199.10 1057.80)">1-2</text>
<text x="227.10" y="1057.80" font-family='"Liberation Sans", "Noto Sans CJK JP", sans-serif' font-size="13.00" font-weight="bold" text-anchor="end" fill="#000" stroke="#000" stroke-width="0.3" transform="rotate(-45 227.10 1057.80)">2&gt;</text>
<text x="258.70" y="1055.90" font-family='"Liberation Sans", "Noto Sans CJK JP", sans-serif' font-size="12.00" font-weight="900" text-anchor="end" fill="#000" transform="rotate(-45 258.70 1055.90)">不明</text>
<text x="266.00" y="1051.20" font-family='"Liberation Sans", "Noto Sans CJK JP", sans-serif' font-size="12.00" font-weight="900" text-anchor="start" fill="#000" letter-spacing="-0.3">(年)</text>
<text x="403.90" y="1056.40" font-family='"Liberation Sans", "Noto Sans CJK JP", sans-serif' font-size="12.00" font-weight="900" text-anchor="end" fill="#000" transform="rotate(-45 403.90 1056.40)">自然妊娠</text>
<text x="428.60" y="1058.30" font-family='"Liberation Sans", "Noto Sans CJK JP", sans-serif' font-size="13.00" font-weight="bold" text-anchor="end" fill="#000" stroke="#000" stroke-width="0.3" transform="rotate(-45 428.60 1058.30)">1&lt;</text>
<text x="456.20" y="1058.30" font-family='"Liberation Sans", "Noto Sans CJK JP", sans-serif' font-size="13.00" font-weight="bold" text-anchor="end" fill="#000" stroke="#000" stroke-width="0.3" transform="rotate(-45 456.20 1058.30)">1-2</text>
<text x="484.40" y="1058.30" font-family='"Liberation Sans", "Noto Sans CJK JP", sans-serif' font-size="13.00" font-weight="bold" text-anchor="end" fill="#000" stroke="#000" stroke-width="0.3" transform="rotate(-45 484.40 1058.30)">2&gt;</text>
<text x="516.20" y="1056.40" font-family='"Liberation Sans", "Noto Sans CJK JP", sans-serif' font-size="12.00" font-weight="900" text-anchor="end" fill="#000" transform="rotate(-45 516.20 1056.40)">不明</text>
<text x="528.00" y="1050.30" font-family='"Liberation Sans", "Noto Sans CJK JP", sans-serif' font-size="12.00" font-weight="900" text-anchor="start" fill="#000" letter-spacing="-0.3">(年)</text>
<text x="660.70" y="1058.30" font-family='"Liberation Sans", "Noto Sans CJK JP", sans-serif' font-size="12.00" font-weight="900" text-anchor="end" fill="#000" transform="rotate(-45 660.70 1058.30)">自然妊娠</text>
<text x="686.00" y="1060.20" font-family='"Liberation Sans", "Noto Sans CJK JP", sans-serif' font-size="13.00" font-weight="bold" text-anchor="end" fill="#000" stroke="#000" stroke-width="0.3" transform="rotate(-45 686.00 1060.20)">1&lt;</text>
<text x="714.30" y="1060.20" font-family='"Liberation Sans", "Noto Sans CJK JP", sans-serif' font-size="13.00" font-weight="bold" text-anchor="end" fill="#000" stroke="#000" stroke-width="0.3" transform="rotate(-45 714.30 1060.20)">1-2</text>
<text x="742.50" y="1060.20" font-family='"Liberation Sans", "Noto Sans CJK JP", sans-serif' font-size="13.00" font-weight="bold" text-anchor="end" fill="#000" stroke="#000" stroke-width="0.3" transform="rotate(-45 742.50 1060.20)">2&gt;</text>
<text x="774.20" y="1058.30" font-family='"Liberation Sans", "Noto Sans CJK JP", sans-serif' font-size="12.00" font-weight="900" text-anchor="end" fill="#000" transform="rotate(-45 774.20 1058.30)">不明</text>
<text x="791.20" y="1050.30" font-family='"Liberation Sans", "Noto Sans CJK JP", sans-serif' font-size="12.00" font-weight="900" text-anchor="start" fill="#000" letter-spacing="-0.3">(年)</text>
<line x1="152.8" y1="734.9" x2="251.3" y2="734.9" stroke="#000" stroke-width="2"/>
<text x="182.30" y="761.60" font-family='"Liberation Sans", "Noto Sans CJK JP", sans-serif' font-size="20.00" font-weight="500" text-anchor="start" fill="#b41e24" >不妊</text>
<line x1="415.8" y1="734.8" x2="514.0" y2="734.8" stroke="#000" stroke-width="2"/>
<text x="443.20" y="761.60" font-family='"Liberation Sans", "Noto Sans CJK JP", sans-serif' font-size="20.00" font-weight="500" text-anchor="start" fill="#b41e24" >不妊</text>
<line x1="677.3" y1="734.8" x2="775.5" y2="734.8" stroke="#000" stroke-width="2"/>
<text x="704.40" y="761.60" font-family='"Liberation Sans", "Noto Sans CJK JP", sans-serif' font-size="20.00" font-weight="500" text-anchor="start" fill="#b41e24" >不妊</text>
<line x1="152.9" y1="1082.8" x2="251.0" y2="1082.8" stroke="#000" stroke-width="2"/>
<text x="182.10" y="1108.80" font-family='"Liberation Sans", "Noto Sans CJK JP", sans-serif' font-size="20.00" font-weight="500" text-anchor="start" fill="#b41e24" >不妊</text>
<line x1="416.7" y1="1082.8" x2="514.0" y2="1082.8" stroke="#000" stroke-width="2"/>
<text x="443.20" y="1108.80" font-family='"Liberation Sans", "Noto Sans CJK JP", sans-serif' font-size="20.00" font-weight="500" text-anchor="start" fill="#b41e24" >不妊</text>
<line x1="677.3" y1="1082.8" x2="775.5" y2="1082.8" stroke="#000" stroke-width="2"/>
<text x="704.40" y="1108.40" font-family='"Liberation Sans", "Noto Sans CJK JP", sans-serif' font-size="20.00" font-weight="500" text-anchor="start" fill="#b41e24" >不妊</text>
</svg>
</body></html>
